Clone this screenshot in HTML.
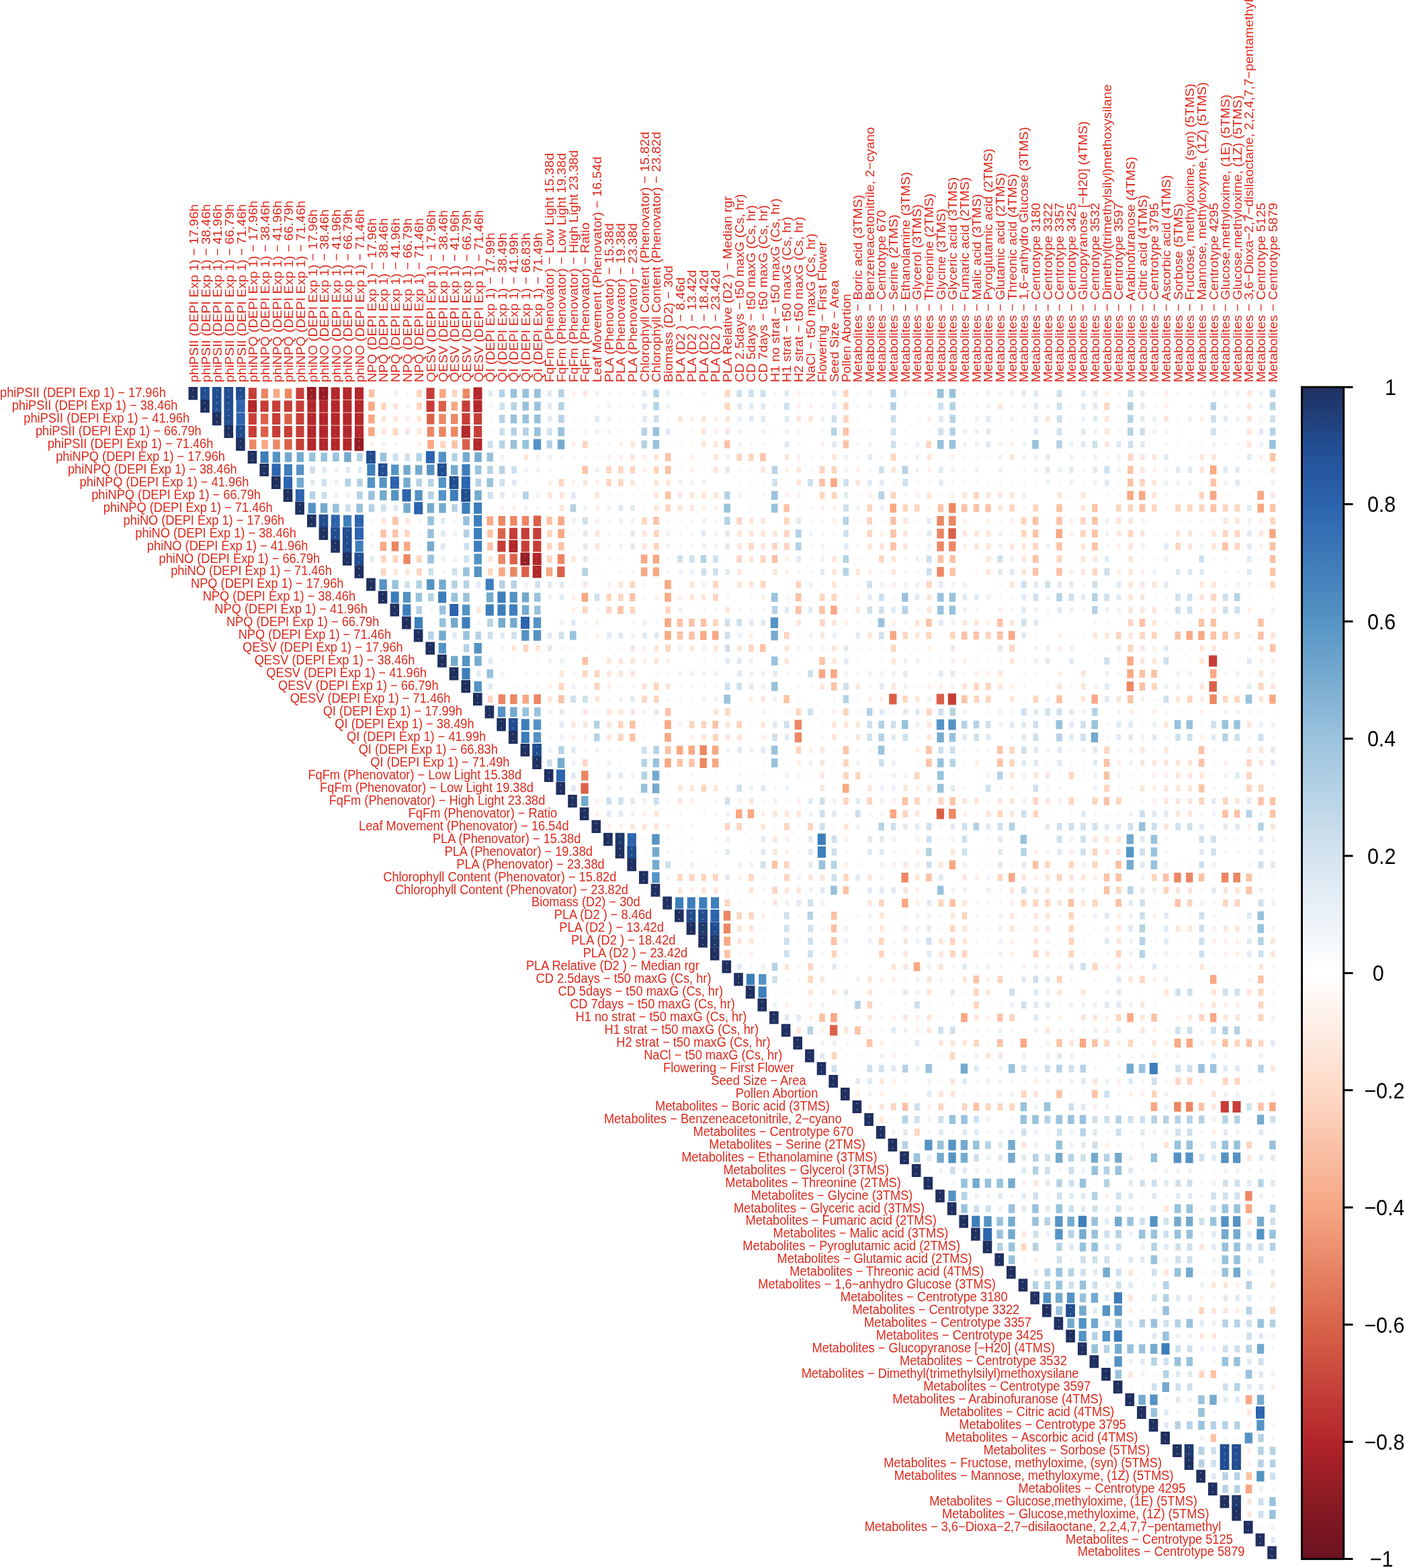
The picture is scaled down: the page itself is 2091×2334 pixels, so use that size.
<!DOCTYPE html>
<html lang="en"><head><meta charset="utf-8"><title>Correlation matrix</title>
<style>
html,body{margin:0;padding:0;background:#fff}
body{width:2091px;height:2334px;overflow:hidden}
svg{display:block}
text{font-family:"Liberation Sans",Arial,Helvetica,sans-serif}
.l{font-size:18.24px;fill:#DD2A1E}
.k{font-size:30.5px;fill:#000}
</style></head><body>
<svg width="2091" height="2334" viewBox="0 0 2091 2334">
<rect width="2091" height="2334" fill="#fff"/>
<g>
<path fill="#FFF6F2" d="M569.4 582.7h4.3v6h-4.3zM922.3 582.7h4.3v6h-4.3zM939.9 582.7h4.3v6h-4.3zM1010.5 582.7h4.3v6h-4.3zM1204.6 582.7h4.3v6h-4.3zM1222.2 582.7h4.3v6h-4.3zM1363.4 582.7h4.3v6h-4.3zM1557.5 582.7h4.3v6h-4.3zM1045.8 601.6h4.3v6h-4.3zM1151.7 601.6h4.3v6h-4.3zM1310.5 601.6h4.3v6h-4.3zM1345.8 601.6h4.3v6h-4.3zM1363.4 601.6h4.3v6h-4.3zM1381 601.6h4.3v6h-4.3zM1592.8 601.6h4.3v6h-4.3zM728.2 620.6h4.3v6h-4.3zM869.3 620.6h4.3v6h-4.3zM939.9 620.6h4.3v6h-4.3zM1363.4 620.6h4.3v6h-4.3zM1486.9 620.6h4.3v6h-4.3zM1592.8 620.6h4.3v6h-4.3zM728.2 639.6h4.3v6h-4.3zM1010.5 639.6h4.3v6h-4.3zM1028.1 639.6h4.3v6h-4.3zM1151.7 639.6h4.3v6h-4.3zM1204.6 639.6h4.3v6h-4.3zM1345.8 639.6h4.3v6h-4.3zM1363.4 639.6h4.3v6h-4.3zM1381 639.6h4.3v6h-4.3zM1486.9 639.6h4.3v6h-4.3zM1557.5 639.6h4.3v6h-4.3zM1751.6 639.6h4.3v6h-4.3zM1786.9 639.6h4.3v6h-4.3zM604.7 658.5h4.3v6h-4.3zM904.6 658.5h4.3v6h-4.3zM1010.5 658.5h4.3v6h-4.3zM1028.1 658.5h4.3v6h-4.3zM1187 658.5h4.3v6h-4.3zM1751.6 658.5h4.3v6h-4.3zM1769.2 658.5h4.3v6h-4.3zM1786.9 658.5h4.3v6h-4.3zM834.1 677.5h4.3v6h-4.3zM869.3 677.5h4.3v6h-4.3zM887 677.5h4.3v6h-4.3zM1010.5 677.5h4.3v6h-4.3zM1045.8 677.5h4.3v6h-4.3zM1222.2 677.5h4.3v6h-4.3zM1451.6 677.5h4.3v6h-4.3zM1469.3 677.5h4.3v6h-4.3zM1610.4 677.5h4.3v6h-4.3zM1769.2 677.5h4.3v6h-4.3zM851.7 696.4h4.3v6h-4.3zM1010.5 696.4h4.3v6h-4.3zM1045.8 696.4h4.3v6h-4.3zM1098.7 696.4h4.3v6h-4.3zM1116.4 696.4h4.3v6h-4.3zM1875.1 696.4h4.3v6h-4.3zM957.6 715.4h4.3v6h-4.3zM1098.7 715.4h4.3v6h-4.3zM1116.4 715.4h4.3v6h-4.3zM1134 715.4h4.3v6h-4.3zM1328.1 715.4h4.3v6h-4.3zM1381 715.4h4.3v6h-4.3zM1451.6 715.4h4.3v6h-4.3zM1469.3 715.4h4.3v6h-4.3zM1486.9 715.4h4.3v6h-4.3zM1504.6 715.4h4.3v6h-4.3zM1539.9 715.4h4.3v6h-4.3zM1575.1 715.4h4.3v6h-4.3zM1610.4 715.4h4.3v6h-4.3zM1786.9 715.4h4.3v6h-4.3zM1875.1 715.4h4.3v6h-4.3zM904.6 734.4h4.3v6h-4.3zM922.3 734.4h4.3v6h-4.3zM939.9 734.4h4.3v6h-4.3zM957.6 734.4h4.3v6h-4.3zM1275.2 734.4h4.3v6h-4.3zM1398.7 734.4h4.3v6h-4.3zM1592.8 734.4h4.3v6h-4.3zM1628.1 734.4h4.3v6h-4.3zM1663.4 734.4h4.3v6h-4.3zM1822.2 734.4h4.3v6h-4.3zM816.4 753.3h4.3v6h-4.3zM957.6 753.3h4.3v6h-4.3zM1116.4 753.3h4.3v6h-4.3zM1134 753.3h4.3v6h-4.3zM1381 753.3h4.3v6h-4.3zM1592.8 753.3h4.3v6h-4.3zM1733.9 753.3h4.3v6h-4.3zM551.7 772.3h4.3v6h-4.3zM1275.2 772.3h4.3v6h-4.3zM1310.5 772.3h4.3v6h-4.3zM1363.4 772.3h4.3v6h-4.3zM1557.5 772.3h4.3v6h-4.3zM1751.6 772.3h4.3v6h-4.3zM1769.2 772.3h4.3v6h-4.3zM1804.5 772.3h4.3v6h-4.3zM622.3 791.2h4.3v6h-4.3zM1239.9 791.2h4.3v6h-4.3zM1363.4 791.2h4.3v6h-4.3zM1504.6 791.2h4.3v6h-4.3zM1716.3 791.2h4.3v6h-4.3zM622.3 810.2h4.3v6h-4.3zM887 829.2h4.3v6h-4.3zM904.6 829.2h4.3v6h-4.3zM922.3 829.2h4.3v6h-4.3zM1081.1 829.2h4.3v6h-4.3zM1275.2 829.2h4.3v6h-4.3zM1592.8 829.2h4.3v6h-4.3zM1698.7 829.2h4.3v6h-4.3zM1804.5 829.2h4.3v6h-4.3zM1822.2 829.2h4.3v6h-4.3zM551.7 848.1h4.3v6h-4.3zM887 848.1h4.3v6h-4.3zM1134 848.1h4.3v6h-4.3zM1204.6 848.1h4.3v6h-4.3zM1310.5 848.1h4.3v6h-4.3zM1363.4 848.1h4.3v6h-4.3zM1451.6 848.1h4.3v6h-4.3zM1875.1 848.1h4.3v6h-4.3zM851.7 867.1h4.3v6h-4.3zM1010.5 867.1h4.3v6h-4.3zM1081.1 867.1h4.3v6h-4.3zM1169.3 867.1h4.3v6h-4.3zM1222.2 867.1h4.3v6h-4.3zM1257.5 867.1h4.3v6h-4.3zM1875.1 867.1h4.3v6h-4.3zM957.6 886h4.3v6h-4.3zM1257.5 886h4.3v6h-4.3zM1716.3 886h4.3v6h-4.3zM1857.5 886h4.3v6h-4.3zM640 905h4.3v6h-4.3zM975.2 905h4.3v6h-4.3zM1063.4 905h4.3v6h-4.3zM1733.9 905h4.3v6h-4.3zM869.3 924h4.3v6h-4.3zM939.9 924h4.3v6h-4.3zM1275.2 924h4.3v6h-4.3zM1292.8 924h4.3v6h-4.3zM1557.5 924h4.3v6h-4.3zM1645.7 924h4.3v6h-4.3zM1733.9 924h4.3v6h-4.3zM1857.5 924h4.3v6h-4.3zM869.3 942.9h4.3v6h-4.3zM1134 942.9h4.3v6h-4.3zM1187 942.9h4.3v6h-4.3zM1539.9 942.9h4.3v6h-4.3zM1610.4 942.9h4.3v6h-4.3zM869.3 961.9h4.3v6h-4.3zM887 961.9h4.3v6h-4.3zM904.6 961.9h4.3v6h-4.3zM922.3 961.9h4.3v6h-4.3zM1310.5 961.9h4.3v6h-4.3zM1345.8 961.9h4.3v6h-4.3zM1451.6 961.9h4.3v6h-4.3zM1469.3 961.9h4.3v6h-4.3zM1645.7 961.9h4.3v6h-4.3zM1751.6 961.9h4.3v6h-4.3zM1769.2 961.9h4.3v6h-4.3zM1063.4 980.9h4.3v6h-4.3zM1275.2 980.9h4.3v6h-4.3zM1381 980.9h4.3v6h-4.3zM1451.6 980.9h4.3v6h-4.3zM1469.3 980.9h4.3v6h-4.3zM1769.2 980.9h4.3v6h-4.3zM816.4 999.8h4.3v6h-4.3zM851.7 999.8h4.3v6h-4.3zM975.2 999.8h4.3v6h-4.3zM992.9 999.8h4.3v6h-4.3zM1081.1 999.8h4.3v6h-4.3zM1187 999.8h4.3v6h-4.3zM1275.2 999.8h4.3v6h-4.3zM1381 999.8h4.3v6h-4.3zM1434 999.8h4.3v6h-4.3zM1539.9 999.8h4.3v6h-4.3zM1663.4 999.8h4.3v6h-4.3zM1857.5 999.8h4.3v6h-4.3zM763.5 1018.8h4.3v6h-4.3zM798.8 1018.8h4.3v6h-4.3zM869.3 1018.8h4.3v6h-4.3zM922.3 1018.8h4.3v6h-4.3zM939.9 1018.8h4.3v6h-4.3zM1010.5 1018.8h4.3v6h-4.3zM1028.1 1018.8h4.3v6h-4.3zM1187 1018.8h4.3v6h-4.3zM1292.8 1018.8h4.3v6h-4.3zM1363.4 1018.8h4.3v6h-4.3zM1522.2 1037.7h4.3v6h-4.3zM1716.3 1037.7h4.3v6h-4.3zM851.7 1056.7h4.3v6h-4.3zM1028.1 1056.7h4.3v6h-4.3zM1045.8 1056.7h4.3v6h-4.3zM1098.7 1056.7h4.3v6h-4.3zM1116.4 1056.7h4.3v6h-4.3zM1151.7 1056.7h4.3v6h-4.3zM1698.7 1056.7h4.3v6h-4.3zM1804.5 1056.7h4.3v6h-4.3zM1892.8 1056.7h4.3v6h-4.3zM1116.4 1075.7h4.3v6h-4.3zM1222.2 1075.7h4.3v6h-4.3zM1698.7 1075.7h4.3v6h-4.3zM1786.9 1075.7h4.3v6h-4.3zM1116.4 1094.6h4.3v6h-4.3zM1222.2 1094.6h4.3v6h-4.3zM1257.5 1094.6h4.3v6h-4.3zM1733.9 1094.6h4.3v6h-4.3zM1857.5 1094.6h4.3v6h-4.3zM869.3 1113.6h4.3v6h-4.3zM1292.8 1113.6h4.3v6h-4.3zM1434 1113.6h4.3v6h-4.3zM1451.6 1113.6h4.3v6h-4.3zM1592.8 1113.6h4.3v6h-4.3zM1663.4 1113.6h4.3v6h-4.3zM1716.3 1113.6h4.3v6h-4.3zM1839.8 1113.6h4.3v6h-4.3zM1081.1 1132.5h4.3v6h-4.3zM1292.8 1132.5h4.3v6h-4.3zM1363.4 1132.5h4.3v6h-4.3zM1434 1132.5h4.3v6h-4.3zM1557.5 1132.5h4.3v6h-4.3zM1839.8 1132.5h4.3v6h-4.3zM887 1151.5h4.3v6h-4.3zM1045.8 1151.5h4.3v6h-4.3zM1063.4 1151.5h4.3v6h-4.3zM1151.7 1151.5h4.3v6h-4.3zM1204.6 1151.5h4.3v6h-4.3zM1451.6 1151.5h4.3v6h-4.3zM1575.1 1151.5h4.3v6h-4.3zM1610.4 1151.5h4.3v6h-4.3zM1698.7 1151.5h4.3v6h-4.3zM1875.1 1151.5h4.3v6h-4.3zM1045.8 1189.4h4.3v6h-4.3zM1134 1189.4h4.3v6h-4.3zM1469.3 1189.4h4.3v6h-4.3zM992.9 1208.4h4.3v6h-4.3zM1257.5 1208.4h4.3v6h-4.3zM1451.6 1208.4h4.3v6h-4.3zM1557.5 1208.4h4.3v6h-4.3zM1592.8 1208.4h4.3v6h-4.3zM1628.1 1208.4h4.3v6h-4.3zM1645.7 1208.4h4.3v6h-4.3zM1663.4 1208.4h4.3v6h-4.3zM1010.5 1227.3h4.3v6h-4.3zM1116.4 1227.3h4.3v6h-4.3zM1151.7 1227.3h4.3v6h-4.3zM1187 1227.3h4.3v6h-4.3zM1239.9 1227.3h4.3v6h-4.3zM1804.5 1227.3h4.3v6h-4.3zM957.6 1246.3h4.3v6h-4.3zM1010.5 1246.3h4.3v6h-4.3zM1187 1246.3h4.3v6h-4.3zM1469.3 1246.3h4.3v6h-4.3zM1557.5 1246.3h4.3v6h-4.3zM1857.5 1246.3h4.3v6h-4.3zM957.6 1265.3h4.3v6h-4.3zM1010.5 1265.3h4.3v6h-4.3zM1187 1265.3h4.3v6h-4.3zM1257.5 1265.3h4.3v6h-4.3zM1345.8 1265.3h4.3v6h-4.3zM1469.3 1265.3h4.3v6h-4.3zM1857.5 1265.3h4.3v6h-4.3zM957.6 1284.2h4.3v6h-4.3zM1187 1284.2h4.3v6h-4.3zM1275.2 1284.2h4.3v6h-4.3zM1451.6 1284.2h4.3v6h-4.3zM1469.3 1284.2h4.3v6h-4.3zM1504.6 1284.2h4.3v6h-4.3zM1645.7 1284.2h4.3v6h-4.3zM1751.6 1284.2h4.3v6h-4.3zM1769.2 1284.2h4.3v6h-4.3zM1857.5 1284.2h4.3v6h-4.3zM1804.5 1303.2h4.3v6h-4.3zM1875.1 1303.2h4.3v6h-4.3zM1892.8 1303.2h4.3v6h-4.3zM1628.1 1322.2h4.3v6h-4.3zM1786.9 1322.2h4.3v6h-4.3zM1098.7 1341.1h4.3v6h-4.3zM1116.4 1341.1h4.3v6h-4.3zM1716.3 1341.1h4.3v6h-4.3zM1151.7 1360.1h4.3v6h-4.3zM1187 1360.1h4.3v6h-4.3zM1222.2 1360.1h4.3v6h-4.3zM1275.2 1360.1h4.3v6h-4.3zM1345.8 1360.1h4.3v6h-4.3zM1398.7 1360.1h4.3v6h-4.3zM1469.3 1360.1h4.3v6h-4.3zM1610.4 1360.1h4.3v6h-4.3zM1751.6 1360.1h4.3v6h-4.3zM1769.2 1360.1h4.3v6h-4.3zM1804.5 1360.1h4.3v6h-4.3zM1822.2 1360.1h4.3v6h-4.3zM1839.8 1360.1h4.3v6h-4.3zM1134 1379h4.3v6h-4.3zM1398.7 1379h4.3v6h-4.3zM1469.3 1379h4.3v6h-4.3zM1134 1398h4.3v6h-4.3zM1187 1398h4.3v6h-4.3zM1469.3 1398h4.3v6h-4.3zM1610.4 1398h4.3v6h-4.3zM1716.3 1398h4.3v6h-4.3zM1751.6 1398h4.3v6h-4.3zM1769.2 1398h4.3v6h-4.3zM1098.7 1417h4.3v6h-4.3zM1469.3 1417h4.3v6h-4.3zM1575.1 1417h4.3v6h-4.3zM1610.4 1417h4.3v6h-4.3zM1628.1 1417h4.3v6h-4.3zM1716.3 1417h4.3v6h-4.3zM1751.6 1417h4.3v6h-4.3zM1769.2 1417h4.3v6h-4.3zM1804.5 1417h4.3v6h-4.3zM1187 1435.9h4.3v6h-4.3zM1257.5 1435.9h4.3v6h-4.3zM1292.8 1435.9h4.3v6h-4.3zM1416.3 1435.9h4.3v6h-4.3zM1575.1 1435.9h4.3v6h-4.3zM1804.5 1435.9h4.3v6h-4.3zM1822.2 1435.9h4.3v6h-4.3zM1839.8 1435.9h4.3v6h-4.3zM1892.8 1435.9h4.3v6h-4.3zM1239.9 1454.9h4.3v6h-4.3zM1345.8 1454.9h4.3v6h-4.3zM1504.6 1454.9h4.3v6h-4.3zM1628.1 1454.9h4.3v6h-4.3zM1769.2 1454.9h4.3v6h-4.3zM1786.9 1454.9h4.3v6h-4.3zM1892.8 1454.9h4.3v6h-4.3zM1275.2 1473.8h4.3v6h-4.3zM1434 1473.8h4.3v6h-4.3zM1698.7 1473.8h4.3v6h-4.3zM1257.5 1492.8h4.3v6h-4.3zM1381 1492.8h4.3v6h-4.3zM1486.9 1492.8h4.3v6h-4.3zM1575.1 1492.8h4.3v6h-4.3zM1751.6 1492.8h4.3v6h-4.3zM1769.2 1492.8h4.3v6h-4.3zM1892.8 1492.8h4.3v6h-4.3zM1398.7 1511.8h4.3v6h-4.3zM1434 1530.7h4.3v6h-4.3zM1469.3 1530.7h4.3v6h-4.3zM1610.4 1530.7h4.3v6h-4.3zM1786.9 1530.7h4.3v6h-4.3zM1857.5 1530.7h4.3v6h-4.3zM1875.1 1530.7h4.3v6h-4.3zM1275.2 1549.7h4.3v6h-4.3zM1345.8 1549.7h4.3v6h-4.3zM1469.3 1549.7h4.3v6h-4.3zM1504.6 1549.7h4.3v6h-4.3zM1698.7 1549.7h4.3v6h-4.3zM1257.5 1568.6h4.3v6h-4.3zM1381 1568.6h4.3v6h-4.3zM1398.7 1568.6h4.3v6h-4.3zM1769.2 1568.6h4.3v6h-4.3zM1839.8 1568.6h4.3v6h-4.3zM1275.2 1587.6h4.3v6h-4.3zM1857.5 1587.6h4.3v6h-4.3zM1398.7 1606.6h4.3v6h-4.3zM1451.6 1606.6h4.3v6h-4.3zM1345.8 1625.5h4.3v6h-4.3zM1451.6 1625.5h4.3v6h-4.3zM1469.3 1625.5h4.3v6h-4.3zM1610.4 1625.5h4.3v6h-4.3zM1751.6 1625.5h4.3v6h-4.3zM1769.2 1625.5h4.3v6h-4.3zM1416.3 1644.5h4.3v6h-4.3zM1698.7 1644.5h4.3v6h-4.3zM1857.5 1682.4h4.3v6h-4.3zM1892.8 1682.4h4.3v6h-4.3zM1557.5 1701.4h4.3v6h-4.3zM1698.7 1720.3h4.3v6h-4.3zM1381 1739.3h4.3v6h-4.3zM1486.9 1739.3h4.3v6h-4.3zM1804.5 1739.3h4.3v6h-4.3zM1857.5 1739.3h4.3v6h-4.3zM1892.8 1739.3h4.3v6h-4.3zM1628.1 1758.3h4.3v6h-4.3zM1698.7 1777.2h4.3v6h-4.3zM1733.9 1777.2h4.3v6h-4.3zM1522.2 1872h4.3v6h-4.3zM1557.5 1872h4.3v6h-4.3zM1592.8 1872h4.3v6h-4.3zM1698.7 1891h4.3v6h-4.3zM1786.9 1891h4.3v6h-4.3zM1698.7 1928.9h4.3v6h-4.3zM1804.5 1928.9h4.3v6h-4.3zM1698.7 1947.9h4.3v6h-4.3zM1751.6 1947.9h4.3v6h-4.3zM1769.2 1947.9h4.3v6h-4.3zM1681 1985.8h4.3v6h-4.3zM1839.8 2099.6h4.3v6h-4.3zM1875.1 2270.2h4.3v6h-4.3z"/>
<path fill="#F4F7FB" d="M604.7 582.7h4.3v6h-4.3zM904.6 582.7h4.3v6h-4.3zM1151.7 582.7h4.3v6h-4.3zM1275.2 582.7h4.3v6h-4.3zM1434 582.7h4.3v6h-4.3zM1451.6 582.7h4.3v6h-4.3zM1663.4 582.7h4.3v6h-4.3zM1716.3 582.7h4.3v6h-4.3zM1751.6 582.7h4.3v6h-4.3zM1769.2 582.7h4.3v6h-4.3zM728.2 601.6h4.3v6h-4.3zM887 601.6h4.3v6h-4.3zM922.3 601.6h4.3v6h-4.3zM939.9 601.6h4.3v6h-4.3zM1222.2 601.6h4.3v6h-4.3zM1275.2 601.6h4.3v6h-4.3zM1434 601.6h4.3v6h-4.3zM1451.6 601.6h4.3v6h-4.3zM1504.6 601.6h4.3v6h-4.3zM1663.4 601.6h4.3v6h-4.3zM1716.3 601.6h4.3v6h-4.3zM1769.2 601.6h4.3v6h-4.3zM1786.9 601.6h4.3v6h-4.3zM1839.8 601.6h4.3v6h-4.3zM851.7 620.6h4.3v6h-4.3zM922.3 620.6h4.3v6h-4.3zM992.9 620.6h4.3v6h-4.3zM1275.2 620.6h4.3v6h-4.3zM1434 620.6h4.3v6h-4.3zM1522.2 620.6h4.3v6h-4.3zM1751.6 620.6h4.3v6h-4.3zM1875.1 620.6h4.3v6h-4.3zM851.7 639.6h4.3v6h-4.3zM922.3 639.6h4.3v6h-4.3zM939.9 639.6h4.3v6h-4.3zM1116.4 639.6h4.3v6h-4.3zM1222.2 639.6h4.3v6h-4.3zM1275.2 639.6h4.3v6h-4.3zM1292.8 639.6h4.3v6h-4.3zM1504.6 639.6h4.3v6h-4.3zM1522.2 639.6h4.3v6h-4.3zM1592.8 639.6h4.3v6h-4.3zM1663.4 639.6h4.3v6h-4.3zM1822.2 639.6h4.3v6h-4.3zM587 658.5h4.3v6h-4.3zM887 658.5h4.3v6h-4.3zM1116.4 658.5h4.3v6h-4.3zM1134 658.5h4.3v6h-4.3zM1275.2 658.5h4.3v6h-4.3zM1345.8 658.5h4.3v6h-4.3zM1733.9 658.5h4.3v6h-4.3zM1822.2 658.5h4.3v6h-4.3zM1839.8 658.5h4.3v6h-4.3zM851.7 677.5h4.3v6h-4.3zM1204.6 677.5h4.3v6h-4.3zM1275.2 677.5h4.3v6h-4.3zM1310.5 677.5h4.3v6h-4.3zM1345.8 677.5h4.3v6h-4.3zM1434 677.5h4.3v6h-4.3zM1645.7 677.5h4.3v6h-4.3zM1839.8 677.5h4.3v6h-4.3zM816.4 696.4h4.3v6h-4.3zM1204.6 696.4h4.3v6h-4.3zM1292.8 696.4h4.3v6h-4.3zM1434 696.4h4.3v6h-4.3zM1522.2 696.4h4.3v6h-4.3zM1610.4 696.4h4.3v6h-4.3zM1857.5 696.4h4.3v6h-4.3zM781.1 715.4h4.3v6h-4.3zM1363.4 715.4h4.3v6h-4.3zM1416.3 715.4h4.3v6h-4.3zM1434 715.4h4.3v6h-4.3zM1522.2 715.4h4.3v6h-4.3zM1663.4 715.4h4.3v6h-4.3zM1857.5 715.4h4.3v6h-4.3zM1116.4 734.4h4.3v6h-4.3zM1134 734.4h4.3v6h-4.3zM1345.8 734.4h4.3v6h-4.3zM1645.7 734.4h4.3v6h-4.3zM1733.9 734.4h4.3v6h-4.3zM1751.6 734.4h4.3v6h-4.3zM1857.5 734.4h4.3v6h-4.3zM798.8 753.3h4.3v6h-4.3zM1187 753.3h4.3v6h-4.3zM1204.6 753.3h4.3v6h-4.3zM1522.2 753.3h4.3v6h-4.3zM622.3 772.3h4.3v6h-4.3zM675.2 772.3h4.3v6h-4.3zM904.6 772.3h4.3v6h-4.3zM992.9 772.3h4.3v6h-4.3zM1010.5 772.3h4.3v6h-4.3zM1028.1 772.3h4.3v6h-4.3zM1063.4 772.3h4.3v6h-4.3zM1204.6 772.3h4.3v6h-4.3zM1222.2 772.3h4.3v6h-4.3zM1486.9 772.3h4.3v6h-4.3zM1786.9 772.3h4.3v6h-4.3zM551.7 791.2h4.3v6h-4.3zM851.7 791.2h4.3v6h-4.3zM904.6 791.2h4.3v6h-4.3zM922.3 791.2h4.3v6h-4.3zM1010.5 791.2h4.3v6h-4.3zM1028.1 791.2h4.3v6h-4.3zM1222.2 791.2h4.3v6h-4.3zM1733.9 791.2h4.3v6h-4.3zM1786.9 791.2h4.3v6h-4.3zM551.7 810.2h4.3v6h-4.3zM904.6 810.2h4.3v6h-4.3zM1010.5 810.2h4.3v6h-4.3zM1028.1 810.2h4.3v6h-4.3zM1204.6 810.2h4.3v6h-4.3zM1275.2 810.2h4.3v6h-4.3zM1363.4 810.2h4.3v6h-4.3zM1645.7 810.2h4.3v6h-4.3zM992.9 829.2h4.3v6h-4.3zM1204.6 829.2h4.3v6h-4.3zM1345.8 829.2h4.3v6h-4.3zM1557.5 829.2h4.3v6h-4.3zM1716.3 829.2h4.3v6h-4.3zM1875.1 829.2h4.3v6h-4.3zM657.6 848.1h4.3v6h-4.3zM922.3 848.1h4.3v6h-4.3zM939.9 848.1h4.3v6h-4.3zM992.9 848.1h4.3v6h-4.3zM1187 848.1h4.3v6h-4.3zM1345.8 848.1h4.3v6h-4.3zM1822.2 848.1h4.3v6h-4.3zM1839.8 848.1h4.3v6h-4.3zM957.6 867.1h4.3v6h-4.3zM1275.2 867.1h4.3v6h-4.3zM1486.9 867.1h4.3v6h-4.3zM1610.4 867.1h4.3v6h-4.3zM1822.2 867.1h4.3v6h-4.3zM1081.1 886h4.3v6h-4.3zM1116.4 886h4.3v6h-4.3zM1169.3 886h4.3v6h-4.3zM1328.1 886h4.3v6h-4.3zM1486.9 886h4.3v6h-4.3zM1504.6 886h4.3v6h-4.3zM1733.9 886h4.3v6h-4.3zM1892.8 886h4.3v6h-4.3zM887 905h4.3v6h-4.3zM1045.8 905h4.3v6h-4.3zM1098.7 905h4.3v6h-4.3zM1116.4 905h4.3v6h-4.3zM1134 905h4.3v6h-4.3zM1257.5 905h4.3v6h-4.3zM1363.4 905h4.3v6h-4.3zM1451.6 905h4.3v6h-4.3zM1504.6 905h4.3v6h-4.3zM1557.5 905h4.3v6h-4.3zM1610.4 905h4.3v6h-4.3zM710.5 924h4.3v6h-4.3zM975.2 924h4.3v6h-4.3zM1345.8 924h4.3v6h-4.3zM1628.1 924h4.3v6h-4.3zM1751.6 924h4.3v6h-4.3zM1769.2 924h4.3v6h-4.3zM1857.5 942.9h4.3v6h-4.3zM675.2 961.9h4.3v6h-4.3zM834.1 961.9h4.3v6h-4.3zM851.7 961.9h4.3v6h-4.3zM1151.7 961.9h4.3v6h-4.3zM1275.2 961.9h4.3v6h-4.3zM1292.8 961.9h4.3v6h-4.3zM1363.4 961.9h4.3v6h-4.3zM1628.1 961.9h4.3v6h-4.3zM1857.5 961.9h4.3v6h-4.3zM745.8 980.9h4.3v6h-4.3zM763.5 980.9h4.3v6h-4.3zM798.8 980.9h4.3v6h-4.3zM1045.8 980.9h4.3v6h-4.3zM1310.5 980.9h4.3v6h-4.3zM1398.7 980.9h4.3v6h-4.3zM1486.9 980.9h4.3v6h-4.3zM1522.2 980.9h4.3v6h-4.3zM1628.1 980.9h4.3v6h-4.3zM1663.4 980.9h4.3v6h-4.3zM1839.8 980.9h4.3v6h-4.3zM781.1 999.8h4.3v6h-4.3zM798.8 999.8h4.3v6h-4.3zM1169.3 999.8h4.3v6h-4.3zM1522.2 999.8h4.3v6h-4.3zM1822.2 999.8h4.3v6h-4.3zM781.1 1018.8h4.3v6h-4.3zM1045.8 1018.8h4.3v6h-4.3zM1063.4 1018.8h4.3v6h-4.3zM1204.6 1018.8h4.3v6h-4.3zM1522.2 1018.8h4.3v6h-4.3zM1557.5 1018.8h4.3v6h-4.3zM1592.8 1018.8h4.3v6h-4.3zM1769.2 1018.8h4.3v6h-4.3zM1839.8 1018.8h4.3v6h-4.3zM904.6 1037.7h4.3v6h-4.3zM992.9 1037.7h4.3v6h-4.3zM1010.5 1037.7h4.3v6h-4.3zM1028.1 1037.7h4.3v6h-4.3zM1187 1037.7h4.3v6h-4.3zM1239.9 1037.7h4.3v6h-4.3zM1275.2 1037.7h4.3v6h-4.3zM887 1056.7h4.3v6h-4.3zM1169.3 1056.7h4.3v6h-4.3zM1222.2 1056.7h4.3v6h-4.3zM1275.2 1056.7h4.3v6h-4.3zM1328.1 1056.7h4.3v6h-4.3zM1469.3 1056.7h4.3v6h-4.3zM1504.6 1056.7h4.3v6h-4.3zM1733.9 1056.7h4.3v6h-4.3zM1751.6 1056.7h4.3v6h-4.3zM1769.2 1056.7h4.3v6h-4.3zM1857.5 1056.7h4.3v6h-4.3zM1875.1 1056.7h4.3v6h-4.3zM816.4 1075.7h4.3v6h-4.3zM957.6 1075.7h4.3v6h-4.3zM975.2 1075.7h4.3v6h-4.3zM1557.5 1075.7h4.3v6h-4.3zM1645.7 1075.7h4.3v6h-4.3zM816.4 1094.6h4.3v6h-4.3zM957.6 1094.6h4.3v6h-4.3zM1363.4 1094.6h4.3v6h-4.3zM1504.6 1094.6h4.3v6h-4.3zM1557.5 1094.6h4.3v6h-4.3zM1645.7 1094.6h4.3v6h-4.3zM1892.8 1094.6h4.3v6h-4.3zM904.6 1113.6h4.3v6h-4.3zM922.3 1113.6h4.3v6h-4.3zM1239.9 1113.6h4.3v6h-4.3zM1275.2 1113.6h4.3v6h-4.3zM1328.1 1113.6h4.3v6h-4.3zM1469.3 1113.6h4.3v6h-4.3zM1804.5 1113.6h4.3v6h-4.3zM887 1132.5h4.3v6h-4.3zM922.3 1132.5h4.3v6h-4.3zM1098.7 1132.5h4.3v6h-4.3zM1134 1132.5h4.3v6h-4.3zM1239.9 1132.5h4.3v6h-4.3zM1592.8 1132.5h4.3v6h-4.3zM1610.4 1132.5h4.3v6h-4.3zM1804.5 1132.5h4.3v6h-4.3zM992.9 1151.5h4.3v6h-4.3zM1028.1 1151.5h4.3v6h-4.3zM1098.7 1151.5h4.3v6h-4.3zM1116.4 1151.5h4.3v6h-4.3zM1134 1151.5h4.3v6h-4.3zM1310.5 1151.5h4.3v6h-4.3zM1416.3 1151.5h4.3v6h-4.3zM1681 1151.5h4.3v6h-4.3zM1804.5 1151.5h4.3v6h-4.3zM1892.8 1151.5h4.3v6h-4.3zM1081.1 1170.5h4.3v6h-4.3zM1151.7 1170.5h4.3v6h-4.3zM1239.9 1170.5h4.3v6h-4.3zM1434 1170.5h4.3v6h-4.3zM1486.9 1170.5h4.3v6h-4.3zM1557.5 1170.5h4.3v6h-4.3zM1575.1 1170.5h4.3v6h-4.3zM1663.4 1170.5h4.3v6h-4.3zM1681 1170.5h4.3v6h-4.3zM1804.5 1170.5h4.3v6h-4.3zM1822.2 1170.5h4.3v6h-4.3zM1892.8 1170.5h4.3v6h-4.3zM992.9 1189.4h4.3v6h-4.3zM1063.4 1189.4h4.3v6h-4.3zM1169.3 1189.4h4.3v6h-4.3zM1698.7 1189.4h4.3v6h-4.3zM1010.5 1208.4h4.3v6h-4.3zM1045.8 1208.4h4.3v6h-4.3zM1063.4 1208.4h4.3v6h-4.3zM1292.8 1208.4h4.3v6h-4.3zM1310.5 1208.4h4.3v6h-4.3zM1786.9 1208.4h4.3v6h-4.3zM1028.1 1227.3h4.3v6h-4.3zM1398.7 1227.3h4.3v6h-4.3zM1522.2 1227.3h4.3v6h-4.3zM992.9 1246.3h4.3v6h-4.3zM1028.1 1246.3h4.3v6h-4.3zM1063.4 1246.3h4.3v6h-4.3zM1116.4 1246.3h4.3v6h-4.3zM1398.7 1246.3h4.3v6h-4.3zM1504.6 1246.3h4.3v6h-4.3zM1733.9 1246.3h4.3v6h-4.3zM1822.2 1246.3h4.3v6h-4.3zM1839.8 1246.3h4.3v6h-4.3zM992.9 1265.3h4.3v6h-4.3zM1028.1 1265.3h4.3v6h-4.3zM1063.4 1265.3h4.3v6h-4.3zM1116.4 1265.3h4.3v6h-4.3zM1328.1 1265.3h4.3v6h-4.3zM1733.9 1265.3h4.3v6h-4.3zM1822.2 1265.3h4.3v6h-4.3zM1839.8 1265.3h4.3v6h-4.3zM1892.8 1265.3h4.3v6h-4.3zM1010.5 1284.2h4.3v6h-4.3zM1045.8 1284.2h4.3v6h-4.3zM1063.4 1284.2h4.3v6h-4.3zM992.9 1303.2h4.3v6h-4.3zM1134 1303.2h4.3v6h-4.3zM1151.7 1303.2h4.3v6h-4.3zM1081.1 1322.2h4.3v6h-4.3zM1134 1322.2h4.3v6h-4.3zM1486.9 1322.2h4.3v6h-4.3zM1575.1 1322.2h4.3v6h-4.3zM1892.8 1322.2h4.3v6h-4.3zM1134 1341.1h4.3v6h-4.3zM1451.6 1341.1h4.3v6h-4.3zM1469.3 1341.1h4.3v6h-4.3zM1486.9 1341.1h4.3v6h-4.3zM1804.5 1341.1h4.3v6h-4.3zM1451.6 1360.1h4.3v6h-4.3zM1522.2 1360.1h4.3v6h-4.3zM1575.1 1360.1h4.3v6h-4.3zM1222.2 1379h4.3v6h-4.3zM1451.6 1379h4.3v6h-4.3zM1522.2 1379h4.3v6h-4.3zM1628.1 1379h4.3v6h-4.3zM1222.2 1398h4.3v6h-4.3zM1328.1 1398h4.3v6h-4.3zM1451.6 1398h4.3v6h-4.3zM1222.2 1417h4.3v6h-4.3zM1257.5 1417h4.3v6h-4.3zM1328.1 1417h4.3v6h-4.3zM1645.7 1417h4.3v6h-4.3zM1116.4 1435.9h4.3v6h-4.3zM1222.2 1435.9h4.3v6h-4.3zM1451.6 1435.9h4.3v6h-4.3zM1486.9 1435.9h4.3v6h-4.3zM1698.7 1435.9h4.3v6h-4.3zM1733.9 1435.9h4.3v6h-4.3zM1751.6 1435.9h4.3v6h-4.3zM1769.2 1435.9h4.3v6h-4.3zM1857.5 1435.9h4.3v6h-4.3zM1169.3 1454.9h4.3v6h-4.3zM1187 1454.9h4.3v6h-4.3zM1398.7 1454.9h4.3v6h-4.3zM1416.3 1454.9h4.3v6h-4.3zM1592.8 1454.9h4.3v6h-4.3zM1857.5 1454.9h4.3v6h-4.3zM1151.7 1473.8h4.3v6h-4.3zM1169.3 1473.8h4.3v6h-4.3zM1222.2 1473.8h4.3v6h-4.3zM1328.1 1473.8h4.3v6h-4.3zM1892.8 1473.8h4.3v6h-4.3zM1310.5 1492.8h4.3v6h-4.3zM1345.8 1492.8h4.3v6h-4.3zM1416.3 1492.8h4.3v6h-4.3zM1434 1492.8h4.3v6h-4.3zM1716.3 1492.8h4.3v6h-4.3zM1275.2 1511.8h4.3v6h-4.3zM1310.5 1511.8h4.3v6h-4.3zM1416.3 1511.8h4.3v6h-4.3zM1857.5 1511.8h4.3v6h-4.3zM1310.5 1530.7h4.3v6h-4.3zM1451.6 1530.7h4.3v6h-4.3zM1504.6 1530.7h4.3v6h-4.3zM1575.1 1530.7h4.3v6h-4.3zM1733.9 1530.7h4.3v6h-4.3zM1257.5 1549.7h4.3v6h-4.3zM1328.1 1549.7h4.3v6h-4.3zM1275.2 1568.6h4.3v6h-4.3zM1292.8 1568.6h4.3v6h-4.3zM1345.8 1568.6h4.3v6h-4.3zM1434 1568.6h4.3v6h-4.3zM1610.4 1568.6h4.3v6h-4.3zM1628.1 1568.6h4.3v6h-4.3zM1645.7 1568.6h4.3v6h-4.3zM1681 1568.6h4.3v6h-4.3zM1733.9 1568.6h4.3v6h-4.3zM1469.3 1587.6h4.3v6h-4.3zM1628.1 1587.6h4.3v6h-4.3zM1733.9 1587.6h4.3v6h-4.3zM1257.5 1606.6h4.3v6h-4.3zM1345.8 1606.6h4.3v6h-4.3zM1504.6 1606.6h4.3v6h-4.3zM1522.2 1606.6h4.3v6h-4.3zM1575.1 1606.6h4.3v6h-4.3zM1698.7 1606.6h4.3v6h-4.3zM1733.9 1606.6h4.3v6h-4.3zM1857.5 1606.6h4.3v6h-4.3zM1875.1 1606.6h4.3v6h-4.3zM1434 1625.5h4.3v6h-4.3zM1557.5 1625.5h4.3v6h-4.3zM1592.8 1625.5h4.3v6h-4.3zM1663.4 1625.5h4.3v6h-4.3zM1875.1 1625.5h4.3v6h-4.3zM1663.4 1644.5h4.3v6h-4.3zM1328.1 1663.5h4.3v6h-4.3zM1504.6 1663.5h4.3v6h-4.3zM1857.5 1663.5h4.3v6h-4.3zM1381 1682.4h4.3v6h-4.3zM1416.3 1682.4h4.3v6h-4.3zM1469.3 1682.4h4.3v6h-4.3zM1557.5 1682.4h4.3v6h-4.3zM1645.7 1682.4h4.3v6h-4.3zM1681 1682.4h4.3v6h-4.3zM1786.9 1682.4h4.3v6h-4.3zM1363.4 1701.4h4.3v6h-4.3zM1663.4 1701.4h4.3v6h-4.3zM1681 1701.4h4.3v6h-4.3zM1786.9 1701.4h4.3v6h-4.3zM1875.1 1701.4h4.3v6h-4.3zM1575.1 1739.3h4.3v6h-4.3zM1698.7 1739.3h4.3v6h-4.3zM1716.3 1739.3h4.3v6h-4.3zM1416.3 1758.3h4.3v6h-4.3zM1786.9 1758.3h4.3v6h-4.3zM1504.6 1777.2h4.3v6h-4.3zM1557.5 1777.2h4.3v6h-4.3zM1786.9 1777.2h4.3v6h-4.3zM1892.8 1777.2h4.3v6h-4.3zM1716.3 1796.2h4.3v6h-4.3zM1786.9 1796.2h4.3v6h-4.3zM1522.2 1815.1h4.3v6h-4.3zM1557.5 1853.1h4.3v6h-4.3zM1663.4 1872h4.3v6h-4.3zM1892.8 1872h4.3v6h-4.3zM1875.1 1891h4.3v6h-4.3zM1698.7 1909.9h4.3v6h-4.3zM1875.1 1928.9h4.3v6h-4.3zM1875.1 1947.9h4.3v6h-4.3zM1698.7 1985.8h4.3v6h-4.3zM1822.2 1985.8h4.3v6h-4.3zM1839.8 1985.8h4.3v6h-4.3zM1892.8 2004.7h4.3v6h-4.3zM1804.5 2023.7h4.3v6h-4.3zM1716.3 2042.7h4.3v6h-4.3zM1822.2 2042.7h4.3v6h-4.3zM1839.8 2042.7h4.3v6h-4.3zM1681 2061.6h4.3v6h-4.3zM1698.7 2061.6h4.3v6h-4.3zM1733.9 2080.6h4.3v6h-4.3zM1751.6 2099.6h4.3v6h-4.3zM1769.2 2099.6h4.3v6h-4.3zM1804.5 2099.6h4.3v6h-4.3zM1892.8 2118.5h4.3v6h-4.3zM1822.2 2137.5h4.3v6h-4.3zM1839.8 2137.5h4.3v6h-4.3zM1892.8 2137.5h4.3v6h-4.3zM1892.8 2213.3h4.3v6h-4.3z"/>
<path fill="#ECF2F8" d="M586.2 581.8h5.5v7.7h-5.5zM886.2 581.8h5.5v7.7h-5.5zM992 581.8h5.5v7.7h-5.5zM1292 581.8h5.5v7.7h-5.5zM1344.9 581.8h5.5v7.7h-5.5zM1468.4 581.8h5.5v7.7h-5.5zM1503.7 581.8h5.5v7.7h-5.5zM1803.7 581.8h5.5v7.7h-5.5zM1821.3 581.8h5.5v7.7h-5.5zM1839 581.8h5.5v7.7h-5.5zM1874.3 581.8h5.5v7.7h-5.5zM903.8 600.8h5.5v7.7h-5.5zM992 600.8h5.5v7.7h-5.5zM1292 600.8h5.5v7.7h-5.5zM1468.4 600.8h5.5v7.7h-5.5zM1521.4 600.8h5.5v7.7h-5.5zM1821.3 600.8h5.5v7.7h-5.5zM1874.3 600.8h5.5v7.7h-5.5zM903.8 619.8h5.5v7.7h-5.5zM1097.9 619.8h5.5v7.7h-5.5zM1221.4 619.8h5.5v7.7h-5.5zM1450.8 619.8h5.5v7.7h-5.5zM1503.7 619.8h5.5v7.7h-5.5zM1609.6 619.8h5.5v7.7h-5.5zM1715.5 619.8h5.5v7.7h-5.5zM1768.4 619.8h5.5v7.7h-5.5zM1839 619.8h5.5v7.7h-5.5zM886.2 638.7h5.5v7.7h-5.5zM903.8 638.7h5.5v7.7h-5.5zM1097.9 638.7h5.5v7.7h-5.5zM1133.2 638.7h5.5v7.7h-5.5zM1168.5 638.7h5.5v7.7h-5.5zM1433.2 638.7h5.5v7.7h-5.5zM1450.8 638.7h5.5v7.7h-5.5zM1627.3 638.7h5.5v7.7h-5.5zM1715.5 638.7h5.5v7.7h-5.5zM568.6 657.7h5.5v7.7h-5.5zM1097.9 657.7h5.5v7.7h-5.5zM1292 657.7h5.5v7.7h-5.5zM1362.6 657.7h5.5v7.7h-5.5zM1433.2 657.7h5.5v7.7h-5.5zM1450.8 657.7h5.5v7.7h-5.5zM1521.4 657.7h5.5v7.7h-5.5zM1592 657.7h5.5v7.7h-5.5zM1803.7 657.7h5.5v7.7h-5.5zM1874.3 657.7h5.5v7.7h-5.5zM745 676.7h5.5v7.7h-5.5zM815.6 676.7h5.5v7.7h-5.5zM1080.3 676.7h5.5v7.7h-5.5zM1256.7 676.7h5.5v7.7h-5.5zM1362.6 676.7h5.5v7.7h-5.5zM1486.1 676.7h5.5v7.7h-5.5zM1521.4 676.7h5.5v7.7h-5.5zM1539 676.7h5.5v7.7h-5.5zM1592 676.7h5.5v7.7h-5.5zM1627.3 676.7h5.5v7.7h-5.5zM1662.5 676.7h5.5v7.7h-5.5zM498 695.6h5.5v7.7h-5.5zM780.3 695.6h5.5v7.7h-5.5zM797.9 695.6h5.5v7.7h-5.5zM886.2 695.6h5.5v7.7h-5.5zM1256.7 695.6h5.5v7.7h-5.5zM1362.6 695.6h5.5v7.7h-5.5zM1415.5 695.6h5.5v7.7h-5.5zM1450.8 695.6h5.5v7.7h-5.5zM1486.1 695.6h5.5v7.7h-5.5zM1539 695.6h5.5v7.7h-5.5zM1574.3 695.6h5.5v7.7h-5.5zM1662.5 695.6h5.5v7.7h-5.5zM1733.1 695.6h5.5v7.7h-5.5zM498 714.6h5.5v7.7h-5.5zM1009.7 714.6h5.5v7.7h-5.5zM1027.3 714.6h5.5v7.7h-5.5zM1045 714.6h5.5v7.7h-5.5zM1556.7 714.6h5.5v7.7h-5.5zM1592 714.6h5.5v7.7h-5.5zM1627.3 714.6h5.5v7.7h-5.5zM1733.1 714.6h5.5v7.7h-5.5zM1750.8 714.6h5.5v7.7h-5.5zM1768.4 714.6h5.5v7.7h-5.5zM1821.3 714.6h5.5v7.7h-5.5zM498 733.5h5.5v7.7h-5.5zM515.6 733.5h5.5v7.7h-5.5zM762.6 733.5h5.5v7.7h-5.5zM797.9 733.5h5.5v7.7h-5.5zM1097.9 733.5h5.5v7.7h-5.5zM1521.4 733.5h5.5v7.7h-5.5zM780.3 752.5h5.5v7.7h-5.5zM868.5 752.5h5.5v7.7h-5.5zM903.8 752.5h5.5v7.7h-5.5zM1274.4 752.5h5.5v7.7h-5.5zM1309.6 752.5h5.5v7.7h-5.5zM850.9 771.5h5.5v7.7h-5.5zM921.5 771.5h5.5v7.7h-5.5zM939.1 771.5h5.5v7.7h-5.5zM1045 771.5h5.5v7.7h-5.5zM1644.9 771.5h5.5v7.7h-5.5zM1856.6 771.5h5.5v7.7h-5.5zM674.4 790.4h5.5v7.7h-5.5zM992 790.4h5.5v7.7h-5.5zM1062.6 790.4h5.5v7.7h-5.5zM1203.8 790.4h5.5v7.7h-5.5zM1486.1 790.4h5.5v7.7h-5.5zM1644.9 790.4h5.5v7.7h-5.5zM921.5 809.4h5.5v7.7h-5.5zM992 809.4h5.5v7.7h-5.5zM1045 809.4h5.5v7.7h-5.5zM1062.6 809.4h5.5v7.7h-5.5zM1221.4 809.4h5.5v7.7h-5.5zM1380.2 809.4h5.5v7.7h-5.5zM1486.1 809.4h5.5v7.7h-5.5zM1556.7 809.4h5.5v7.7h-5.5zM1786.1 809.4h5.5v7.7h-5.5zM656.8 828.3h5.5v7.7h-5.5zM674.4 828.3h5.5v7.7h-5.5zM1221.4 828.3h5.5v7.7h-5.5zM1362.6 828.3h5.5v7.7h-5.5zM1503.7 828.3h5.5v7.7h-5.5zM1733.1 828.3h5.5v7.7h-5.5zM1009.7 847.3h5.5v7.7h-5.5zM1027.3 847.3h5.5v7.7h-5.5zM1715.5 847.3h5.5v7.7h-5.5zM780.3 866.3h5.5v7.7h-5.5zM1203.8 866.3h5.5v7.7h-5.5zM1309.6 866.3h5.5v7.7h-5.5zM1344.9 866.3h5.5v7.7h-5.5zM1362.6 866.3h5.5v7.7h-5.5zM1415.5 866.3h5.5v7.7h-5.5zM1433.2 866.3h5.5v7.7h-5.5zM1839 866.3h5.5v7.7h-5.5zM1856.6 866.3h5.5v7.7h-5.5zM815.6 885.2h5.5v7.7h-5.5zM1468.4 885.2h5.5v7.7h-5.5zM1556.7 885.2h5.5v7.7h-5.5zM1009.7 904.2h5.5v7.7h-5.5zM1433.2 904.2h5.5v7.7h-5.5zM1539 904.2h5.5v7.7h-5.5zM1592 904.2h5.5v7.7h-5.5zM1644.9 904.2h5.5v7.7h-5.5zM1662.5 904.2h5.5v7.7h-5.5zM1891.9 904.2h5.5v7.7h-5.5zM833.2 923.1h5.5v7.7h-5.5zM956.7 923.1h5.5v7.7h-5.5zM1415.5 923.1h5.5v7.7h-5.5zM939.1 942.1h5.5v7.7h-5.5zM1097.9 942.1h5.5v7.7h-5.5zM1203.8 942.1h5.5v7.7h-5.5zM1239.1 942.1h5.5v7.7h-5.5zM1539 961.1h5.5v7.7h-5.5zM1556.7 961.1h5.5v7.7h-5.5zM1592 961.1h5.5v7.7h-5.5zM815.6 980h5.5v7.7h-5.5zM833.2 980h5.5v7.7h-5.5zM1115.5 980h5.5v7.7h-5.5zM1344.9 980h5.5v7.7h-5.5zM1362.6 980h5.5v7.7h-5.5zM1539 980h5.5v7.7h-5.5zM745 999h5.5v7.7h-5.5zM1009.7 999h5.5v7.7h-5.5zM1027.3 999h5.5v7.7h-5.5zM1045 999h5.5v7.7h-5.5zM1062.6 999h5.5v7.7h-5.5zM1115.5 999h5.5v7.7h-5.5zM1133.2 999h5.5v7.7h-5.5zM1256.7 999h5.5v7.7h-5.5zM1292 999h5.5v7.7h-5.5zM1309.6 999h5.5v7.7h-5.5zM1327.3 999h5.5v7.7h-5.5zM1644.9 999h5.5v7.7h-5.5zM1750.8 999h5.5v7.7h-5.5zM1768.4 999h5.5v7.7h-5.5zM1839 999h5.5v7.7h-5.5zM1891.9 999h5.5v7.7h-5.5zM850.9 1018h5.5v7.7h-5.5zM1133.2 1018h5.5v7.7h-5.5zM1344.9 1018h5.5v7.7h-5.5zM1733.1 1018h5.5v7.7h-5.5zM1750.8 1018h5.5v7.7h-5.5zM921.5 1036.9h5.5v7.7h-5.5zM1045 1036.9h5.5v7.7h-5.5zM1062.6 1036.9h5.5v7.7h-5.5zM1150.8 1036.9h5.5v7.7h-5.5zM1380.2 1036.9h5.5v7.7h-5.5zM1556.7 1036.9h5.5v7.7h-5.5zM815.6 1055.9h5.5v7.7h-5.5zM956.7 1055.9h5.5v7.7h-5.5zM1433.2 1055.9h5.5v7.7h-5.5zM1609.6 1055.9h5.5v7.7h-5.5zM1662.5 1055.9h5.5v7.7h-5.5zM1821.3 1055.9h5.5v7.7h-5.5zM1839 1055.9h5.5v7.7h-5.5zM1362.6 1074.8h5.5v7.7h-5.5zM1486.1 1074.8h5.5v7.7h-5.5zM1715.5 1074.8h5.5v7.7h-5.5zM1874.3 1074.8h5.5v7.7h-5.5zM1891.9 1074.8h5.5v7.7h-5.5zM833.2 1093.8h5.5v7.7h-5.5zM1697.8 1093.8h5.5v7.7h-5.5zM815.6 1112.8h5.5v7.7h-5.5zM886.2 1112.8h5.5v7.7h-5.5zM1080.3 1112.8h5.5v7.7h-5.5zM1115.5 1112.8h5.5v7.7h-5.5zM1609.6 1112.8h5.5v7.7h-5.5zM1680.2 1112.8h5.5v7.7h-5.5zM850.9 1131.7h5.5v7.7h-5.5zM903.8 1131.7h5.5v7.7h-5.5zM1203.8 1131.7h5.5v7.7h-5.5zM1274.4 1131.7h5.5v7.7h-5.5zM1327.3 1131.7h5.5v7.7h-5.5zM1680.2 1131.7h5.5v7.7h-5.5zM939.1 1150.7h5.5v7.7h-5.5zM1168.5 1150.7h5.5v7.7h-5.5zM1327.3 1150.7h5.5v7.7h-5.5zM1468.4 1150.7h5.5v7.7h-5.5zM1627.3 1150.7h5.5v7.7h-5.5zM1821.3 1150.7h5.5v7.7h-5.5zM903.8 1169.6h5.5v7.7h-5.5zM921.5 1169.6h5.5v7.7h-5.5zM1115.5 1169.6h5.5v7.7h-5.5zM1168.5 1169.6h5.5v7.7h-5.5zM1309.6 1169.6h5.5v7.7h-5.5zM1327.3 1169.6h5.5v7.7h-5.5zM1627.3 1169.6h5.5v7.7h-5.5zM956.7 1188.6h5.5v7.7h-5.5zM1150.8 1188.6h5.5v7.7h-5.5zM1239.1 1188.6h5.5v7.7h-5.5zM1309.6 1188.6h5.5v7.7h-5.5zM1380.2 1188.6h5.5v7.7h-5.5zM1521.4 1188.6h5.5v7.7h-5.5zM939.1 1207.6h5.5v7.7h-5.5zM1080.3 1207.6h5.5v7.7h-5.5zM1203.8 1207.6h5.5v7.7h-5.5zM1680.2 1207.6h5.5v7.7h-5.5zM1803.7 1207.6h5.5v7.7h-5.5zM1874.3 1207.6h5.5v7.7h-5.5zM1274.4 1226.5h5.5v7.7h-5.5zM1080.3 1245.5h5.5v7.7h-5.5zM1327.3 1245.5h5.5v7.7h-5.5zM1891.9 1245.5h5.5v7.7h-5.5zM1027.3 1283.4h5.5v7.7h-5.5zM1097.9 1283.4h5.5v7.7h-5.5zM1115.5 1283.4h5.5v7.7h-5.5zM1309.6 1283.4h5.5v7.7h-5.5zM1433.2 1283.4h5.5v7.7h-5.5zM1609.6 1283.4h5.5v7.7h-5.5zM1733.1 1283.4h5.5v7.7h-5.5zM1803.7 1283.4h5.5v7.7h-5.5zM1186.1 1302.4h5.5v7.7h-5.5zM1309.6 1302.4h5.5v7.7h-5.5zM1468.4 1302.4h5.5v7.7h-5.5zM1697.8 1302.4h5.5v7.7h-5.5zM1203.8 1321.3h5.5v7.7h-5.5zM1415.5 1321.3h5.5v7.7h-5.5zM1433.2 1321.3h5.5v7.7h-5.5zM1468.4 1321.3h5.5v7.7h-5.5zM1609.6 1321.3h5.5v7.7h-5.5zM1715.5 1321.3h5.5v7.7h-5.5zM1874.3 1321.3h5.5v7.7h-5.5zM1168.5 1340.3h5.5v7.7h-5.5zM1786.1 1340.3h5.5v7.7h-5.5zM1891.9 1340.3h5.5v7.7h-5.5zM1292 1359.2h5.5v7.7h-5.5zM1362.6 1359.2h5.5v7.7h-5.5zM1380.2 1359.2h5.5v7.7h-5.5zM1486.1 1359.2h5.5v7.7h-5.5zM1627.3 1359.2h5.5v7.7h-5.5zM1680.2 1359.2h5.5v7.7h-5.5zM1256.7 1378.2h5.5v7.7h-5.5zM1292 1378.2h5.5v7.7h-5.5zM1362.6 1378.2h5.5v7.7h-5.5zM1486.1 1378.2h5.5v7.7h-5.5zM1644.9 1378.2h5.5v7.7h-5.5zM1856.6 1378.2h5.5v7.7h-5.5zM1256.7 1397.2h5.5v7.7h-5.5zM1292 1397.2h5.5v7.7h-5.5zM1362.6 1397.2h5.5v7.7h-5.5zM1486.1 1397.2h5.5v7.7h-5.5zM1680.2 1397.2h5.5v7.7h-5.5zM1486.1 1416.1h5.5v7.7h-5.5zM1680.2 1416.1h5.5v7.7h-5.5zM1733.1 1416.1h5.5v7.7h-5.5zM1133.2 1435.1h5.5v7.7h-5.5zM1380.2 1435.1h5.5v7.7h-5.5zM1468.4 1435.1h5.5v7.7h-5.5zM1539 1435.1h5.5v7.7h-5.5zM1556.7 1435.1h5.5v7.7h-5.5zM1274.4 1454.1h5.5v7.7h-5.5zM1362.6 1454.1h5.5v7.7h-5.5zM1733.1 1454.1h5.5v7.7h-5.5zM1362.6 1473h5.5v7.7h-5.5zM1556.7 1473h5.5v7.7h-5.5zM1644.9 1473h5.5v7.7h-5.5zM1150.8 1492h5.5v7.7h-5.5zM1221.4 1492h5.5v7.7h-5.5zM1503.7 1492h5.5v7.7h-5.5zM1592 1492h5.5v7.7h-5.5zM1609.6 1492h5.5v7.7h-5.5zM1627.3 1492h5.5v7.7h-5.5zM1680.2 1492h5.5v7.7h-5.5zM1891.9 1510.9h5.5v7.7h-5.5zM1344.9 1529.9h5.5v7.7h-5.5zM1486.1 1529.9h5.5v7.7h-5.5zM1539 1529.9h5.5v7.7h-5.5zM1627.3 1529.9h5.5v7.7h-5.5zM1221.4 1548.9h5.5v7.7h-5.5zM1239.1 1548.9h5.5v7.7h-5.5zM1786.1 1548.9h5.5v7.7h-5.5zM1309.6 1567.8h5.5v7.7h-5.5zM1450.8 1567.8h5.5v7.7h-5.5zM1521.4 1567.8h5.5v7.7h-5.5zM1556.7 1567.8h5.5v7.7h-5.5zM1592 1567.8h5.5v7.7h-5.5zM1662.5 1567.8h5.5v7.7h-5.5zM1697.8 1567.8h5.5v7.7h-5.5zM1874.3 1567.8h5.5v7.7h-5.5zM1362.6 1586.8h5.5v7.7h-5.5zM1486.1 1586.8h5.5v7.7h-5.5zM1539 1586.8h5.5v7.7h-5.5zM1662.5 1586.8h5.5v7.7h-5.5zM1380.2 1605.7h5.5v7.7h-5.5zM1468.4 1605.7h5.5v7.7h-5.5zM1556.7 1605.7h5.5v7.7h-5.5zM1592 1605.7h5.5v7.7h-5.5zM1644.9 1605.7h5.5v7.7h-5.5zM1292 1624.7h5.5v7.7h-5.5zM1503.7 1624.7h5.5v7.7h-5.5zM1733.1 1624.7h5.5v7.7h-5.5zM1821.3 1624.7h5.5v7.7h-5.5zM1839 1624.7h5.5v7.7h-5.5zM1539 1643.7h5.5v7.7h-5.5zM1644.9 1643.7h5.5v7.7h-5.5zM1733.1 1643.7h5.5v7.7h-5.5zM1380.2 1662.6h5.5v7.7h-5.5zM1468.4 1662.6h5.5v7.7h-5.5zM1803.7 1662.6h5.5v7.7h-5.5zM1327.3 1681.6h5.5v7.7h-5.5zM1486.1 1681.6h5.5v7.7h-5.5zM1503.7 1681.6h5.5v7.7h-5.5zM1539 1681.6h5.5v7.7h-5.5zM1592 1681.6h5.5v7.7h-5.5zM1715.5 1681.6h5.5v7.7h-5.5zM1733.1 1681.6h5.5v7.7h-5.5zM1839 1681.6h5.5v7.7h-5.5zM1539 1700.5h5.5v7.7h-5.5zM1592 1700.5h5.5v7.7h-5.5zM1697.8 1700.5h5.5v7.7h-5.5zM1468.4 1719.5h5.5v7.7h-5.5zM1680.2 1719.5h5.5v7.7h-5.5zM1397.9 1738.5h5.5v7.7h-5.5zM1450.8 1738.5h5.5v7.7h-5.5zM1468.4 1738.5h5.5v7.7h-5.5zM1609.6 1738.5h5.5v7.7h-5.5zM1733.1 1738.5h5.5v7.7h-5.5zM1750.8 1738.5h5.5v7.7h-5.5zM1768.4 1738.5h5.5v7.7h-5.5zM1821.3 1738.5h5.5v7.7h-5.5zM1839 1738.5h5.5v7.7h-5.5zM1874.3 1738.5h5.5v7.7h-5.5zM1803.7 1757.4h5.5v7.7h-5.5zM1450.8 1776.4h5.5v7.7h-5.5zM1468.4 1776.4h5.5v7.7h-5.5zM1874.3 1776.4h5.5v7.7h-5.5zM1486.1 1795.4h5.5v7.7h-5.5zM1644.9 1795.4h5.5v7.7h-5.5zM1680.2 1795.4h5.5v7.7h-5.5zM1556.7 1833.3h5.5v7.7h-5.5zM1680.2 1833.3h5.5v7.7h-5.5zM1786.1 1833.3h5.5v7.7h-5.5zM1697.8 1852.2h5.5v7.7h-5.5zM1733.1 1871.2h5.5v7.7h-5.5zM1803.7 1871.2h5.5v7.7h-5.5zM1856.6 1871.2h5.5v7.7h-5.5zM1803.7 1890.2h5.5v7.7h-5.5zM1644.9 1909.1h5.5v7.7h-5.5zM1715.5 1909.1h5.5v7.7h-5.5zM1786.1 1909.1h5.5v7.7h-5.5zM1891.9 1928.1h5.5v7.7h-5.5zM1715.5 1947h5.5v7.7h-5.5zM1803.7 1966h5.5v7.7h-5.5zM1750.8 1985h5.5v7.7h-5.5zM1768.4 1985h5.5v7.7h-5.5zM1786.1 2003.9h5.5v7.7h-5.5zM1803.7 2003.9h5.5v7.7h-5.5zM1644.9 2022.9h5.5v7.7h-5.5zM1680.2 2022.9h5.5v7.7h-5.5zM1768.4 2079.8h5.5v7.7h-5.5zM1786.1 2136.7h5.5v7.7h-5.5zM1874.3 2212.5h5.5v7.7h-5.5z"/>
<path fill="#FFEFE7" d="M850.9 581.8h5.5v7.7h-5.5zM1045 581.8h5.5v7.7h-5.5zM1186.1 581.8h5.5v7.7h-5.5zM1380.2 581.8h5.5v7.7h-5.5zM1486.1 581.8h5.5v7.7h-5.5zM1644.9 581.8h5.5v7.7h-5.5zM1733.1 581.8h5.5v7.7h-5.5zM603.8 600.8h5.5v7.7h-5.5zM1186.1 600.8h5.5v7.7h-5.5zM1203.8 600.8h5.5v7.7h-5.5zM1556.7 600.8h5.5v7.7h-5.5zM1733.1 600.8h5.5v7.7h-5.5zM603.8 619.8h5.5v7.7h-5.5zM1027.3 619.8h5.5v7.7h-5.5zM1062.6 619.8h5.5v7.7h-5.5zM1380.2 619.8h5.5v7.7h-5.5zM1786.1 619.8h5.5v7.7h-5.5zM868.5 638.7h5.5v7.7h-5.5zM1062.6 638.7h5.5v7.7h-5.5zM1186.1 638.7h5.5v7.7h-5.5zM1733.1 638.7h5.5v7.7h-5.5zM550.9 657.7h5.5v7.7h-5.5zM621.5 657.7h5.5v7.7h-5.5zM850.9 657.7h5.5v7.7h-5.5zM921.5 657.7h5.5v7.7h-5.5zM1221.4 657.7h5.5v7.7h-5.5zM1486.1 657.7h5.5v7.7h-5.5zM1503.7 657.7h5.5v7.7h-5.5zM797.9 676.7h5.5v7.7h-5.5zM903.8 676.7h5.5v7.7h-5.5zM921.5 676.7h5.5v7.7h-5.5zM956.7 676.7h5.5v7.7h-5.5zM1027.3 676.7h5.5v7.7h-5.5zM1186.1 676.7h5.5v7.7h-5.5zM1415.5 676.7h5.5v7.7h-5.5zM1874.3 676.7h5.5v7.7h-5.5zM956.7 695.6h5.5v7.7h-5.5zM1027.3 695.6h5.5v7.7h-5.5zM1168.5 695.6h5.5v7.7h-5.5zM1274.4 695.6h5.5v7.7h-5.5zM1380.2 695.6h5.5v7.7h-5.5zM1715.5 695.6h5.5v7.7h-5.5zM815.6 714.6h5.5v7.7h-5.5zM850.9 714.6h5.5v7.7h-5.5zM886.2 714.6h5.5v7.7h-5.5zM1891.9 714.6h5.5v7.7h-5.5zM1168.5 733.5h5.5v7.7h-5.5zM1186.1 733.5h5.5v7.7h-5.5zM1292 733.5h5.5v7.7h-5.5zM1362.6 733.5h5.5v7.7h-5.5zM1415.5 733.5h5.5v7.7h-5.5zM745 752.5h5.5v7.7h-5.5zM762.6 752.5h5.5v7.7h-5.5zM886.2 752.5h5.5v7.7h-5.5zM1045 752.5h5.5v7.7h-5.5zM1062.6 752.5h5.5v7.7h-5.5zM1221.4 752.5h5.5v7.7h-5.5zM1239.1 752.5h5.5v7.7h-5.5zM886.2 771.5h5.5v7.7h-5.5zM1239.1 771.5h5.5v7.7h-5.5zM1433.2 771.5h5.5v7.7h-5.5zM1468.4 771.5h5.5v7.7h-5.5zM1503.7 771.5h5.5v7.7h-5.5zM1592 771.5h5.5v7.7h-5.5zM1697.8 771.5h5.5v7.7h-5.5zM1874.3 771.5h5.5v7.7h-5.5zM1309.6 790.4h5.5v7.7h-5.5zM1592 790.4h5.5v7.7h-5.5zM1433.2 809.4h5.5v7.7h-5.5zM1662.5 809.4h5.5v7.7h-5.5zM1697.8 809.4h5.5v7.7h-5.5zM1874.3 809.4h5.5v7.7h-5.5zM1168.5 828.3h5.5v7.7h-5.5zM1168.5 847.3h5.5v7.7h-5.5zM1292 847.3h5.5v7.7h-5.5zM1592 847.3h5.5v7.7h-5.5zM1662.5 847.3h5.5v7.7h-5.5zM1697.8 847.3h5.5v7.7h-5.5zM903.8 866.3h5.5v7.7h-5.5zM1045 866.3h5.5v7.7h-5.5zM1327.3 866.3h5.5v7.7h-5.5zM850.9 885.2h5.5v7.7h-5.5zM974.4 885.2h5.5v7.7h-5.5zM1009.7 885.2h5.5v7.7h-5.5zM1133.2 885.2h5.5v7.7h-5.5zM1274.4 885.2h5.5v7.7h-5.5zM850.9 904.2h5.5v7.7h-5.5zM1486.1 904.2h5.5v7.7h-5.5zM1786.1 904.2h5.5v7.7h-5.5zM1856.6 904.2h5.5v7.7h-5.5zM886.2 923.1h5.5v7.7h-5.5zM1256.7 923.1h5.5v7.7h-5.5zM1327.3 923.1h5.5v7.7h-5.5zM1468.4 923.1h5.5v7.7h-5.5zM886.2 942.1h5.5v7.7h-5.5zM1115.5 942.1h5.5v7.7h-5.5zM1574.3 942.1h5.5v7.7h-5.5zM745 961.1h5.5v7.7h-5.5zM956.7 961.1h5.5v7.7h-5.5zM1009.7 961.1h5.5v7.7h-5.5zM1045 961.1h5.5v7.7h-5.5zM1186.1 961.1h5.5v7.7h-5.5zM1203.8 961.1h5.5v7.7h-5.5zM1221.4 961.1h5.5v7.7h-5.5zM1380.2 961.1h5.5v7.7h-5.5zM1574.3 961.1h5.5v7.7h-5.5zM1715.5 961.1h5.5v7.7h-5.5zM956.7 980h5.5v7.7h-5.5zM992 980h5.5v7.7h-5.5zM1415.5 980h5.5v7.7h-5.5zM1433.2 980h5.5v7.7h-5.5zM1874.3 980h5.5v7.7h-5.5zM1891.9 980h5.5v7.7h-5.5zM1450.8 999h5.5v7.7h-5.5zM1468.4 999h5.5v7.7h-5.5zM1574.3 999h5.5v7.7h-5.5zM815.6 1018h5.5v7.7h-5.5zM903.8 1018h5.5v7.7h-5.5zM1380.2 1018h5.5v7.7h-5.5zM1397.9 1018h5.5v7.7h-5.5zM1415.5 1018h5.5v7.7h-5.5zM1503.7 1018h5.5v7.7h-5.5zM1627.3 1018h5.5v7.7h-5.5zM1115.5 1036.9h5.5v7.7h-5.5zM1292 1036.9h5.5v7.7h-5.5zM1309.6 1036.9h5.5v7.7h-5.5zM1697.8 1036.9h5.5v7.7h-5.5zM1786.1 1036.9h5.5v7.7h-5.5zM1133.2 1055.9h5.5v7.7h-5.5zM1239.1 1055.9h5.5v7.7h-5.5zM1486.1 1055.9h5.5v7.7h-5.5zM1680.2 1055.9h5.5v7.7h-5.5zM1715.5 1055.9h5.5v7.7h-5.5zM1786.1 1055.9h5.5v7.7h-5.5zM1009.7 1074.8h5.5v7.7h-5.5zM850.9 1093.8h5.5v7.7h-5.5zM868.5 1093.8h5.5v7.7h-5.5zM1027.3 1093.8h5.5v7.7h-5.5zM1133.2 1093.8h5.5v7.7h-5.5zM1786.1 1093.8h5.5v7.7h-5.5zM1203.8 1112.8h5.5v7.7h-5.5zM1362.6 1112.8h5.5v7.7h-5.5zM1556.7 1112.8h5.5v7.7h-5.5zM1186.1 1131.7h5.5v7.7h-5.5zM1450.8 1131.7h5.5v7.7h-5.5zM1662.5 1131.7h5.5v7.7h-5.5zM1821.3 1131.7h5.5v7.7h-5.5zM1186.1 1150.7h5.5v7.7h-5.5zM1292 1150.7h5.5v7.7h-5.5zM1344.9 1150.7h5.5v7.7h-5.5zM1521.4 1150.7h5.5v7.7h-5.5zM1662.5 1150.7h5.5v7.7h-5.5zM1715.5 1150.7h5.5v7.7h-5.5zM1733.1 1150.7h5.5v7.7h-5.5zM1362.6 1169.6h5.5v7.7h-5.5zM1503.7 1169.6h5.5v7.7h-5.5zM1715.5 1169.6h5.5v7.7h-5.5zM886.2 1188.6h5.5v7.7h-5.5zM1027.3 1188.6h5.5v7.7h-5.5zM1097.9 1188.6h5.5v7.7h-5.5zM1186.1 1188.6h5.5v7.7h-5.5zM1327.3 1188.6h5.5v7.7h-5.5zM1574.3 1188.6h5.5v7.7h-5.5zM1715.5 1188.6h5.5v7.7h-5.5zM886.2 1207.6h5.5v7.7h-5.5zM956.7 1207.6h5.5v7.7h-5.5zM1133.2 1207.6h5.5v7.7h-5.5zM1433.2 1207.6h5.5v7.7h-5.5zM903.8 1226.5h5.5v7.7h-5.5zM921.5 1226.5h5.5v7.7h-5.5zM992 1226.5h5.5v7.7h-5.5zM1856.6 1226.5h5.5v7.7h-5.5zM1168.5 1245.5h5.5v7.7h-5.5zM1256.7 1245.5h5.5v7.7h-5.5zM1362.6 1245.5h5.5v7.7h-5.5zM1415.5 1245.5h5.5v7.7h-5.5zM1592 1245.5h5.5v7.7h-5.5zM1168.5 1264.4h5.5v7.7h-5.5zM1362.6 1264.4h5.5v7.7h-5.5zM1539 1264.4h5.5v7.7h-5.5zM1556.7 1264.4h5.5v7.7h-5.5zM1592 1264.4h5.5v7.7h-5.5zM1256.7 1283.4h5.5v7.7h-5.5zM1327.3 1283.4h5.5v7.7h-5.5zM1362.6 1283.4h5.5v7.7h-5.5zM1097.9 1302.4h5.5v7.7h-5.5zM1450.8 1302.4h5.5v7.7h-5.5zM1539 1302.4h5.5v7.7h-5.5zM1627.3 1302.4h5.5v7.7h-5.5zM1027.3 1321.3h5.5v7.7h-5.5zM1362.6 1321.3h5.5v7.7h-5.5zM1221.4 1340.3h5.5v7.7h-5.5zM1362.6 1340.3h5.5v7.7h-5.5zM1503.7 1340.3h5.5v7.7h-5.5zM1133.2 1359.2h5.5v7.7h-5.5zM1662.5 1359.2h5.5v7.7h-5.5zM1715.5 1359.2h5.5v7.7h-5.5zM1803.7 1378.2h5.5v7.7h-5.5zM1891.9 1378.2h5.5v7.7h-5.5zM1503.7 1397.2h5.5v7.7h-5.5zM1556.7 1397.2h5.5v7.7h-5.5zM1803.7 1397.2h5.5v7.7h-5.5zM1821.3 1397.2h5.5v7.7h-5.5zM1839 1397.2h5.5v7.7h-5.5zM1115.5 1416.1h5.5v7.7h-5.5zM1503.7 1416.1h5.5v7.7h-5.5zM1821.3 1416.1h5.5v7.7h-5.5zM1839 1416.1h5.5v7.7h-5.5zM1521.4 1435.1h5.5v7.7h-5.5zM1644.9 1435.1h5.5v7.7h-5.5zM1680.2 1435.1h5.5v7.7h-5.5zM1309.6 1454.1h5.5v7.7h-5.5zM1327.3 1454.1h5.5v7.7h-5.5zM1468.4 1454.1h5.5v7.7h-5.5zM1715.5 1454.1h5.5v7.7h-5.5zM1168.5 1492h5.5v7.7h-5.5zM1203.8 1492h5.5v7.7h-5.5zM1786.1 1492h5.5v7.7h-5.5zM1821.3 1492h5.5v7.7h-5.5zM1839 1492h5.5v7.7h-5.5zM1203.8 1510.9h5.5v7.7h-5.5zM1327.3 1510.9h5.5v7.7h-5.5zM1362.6 1510.9h5.5v7.7h-5.5zM1468.4 1510.9h5.5v7.7h-5.5zM1556.7 1510.9h5.5v7.7h-5.5zM1574.3 1510.9h5.5v7.7h-5.5zM1644.9 1510.9h5.5v7.7h-5.5zM1750.8 1510.9h5.5v7.7h-5.5zM1221.4 1529.9h5.5v7.7h-5.5zM1292 1529.9h5.5v7.7h-5.5zM1362.6 1529.9h5.5v7.7h-5.5zM1592 1529.9h5.5v7.7h-5.5zM1644.9 1529.9h5.5v7.7h-5.5zM1715.5 1529.9h5.5v7.7h-5.5zM1309.6 1548.9h5.5v7.7h-5.5zM1556.7 1548.9h5.5v7.7h-5.5zM1662.5 1548.9h5.5v7.7h-5.5zM1733.1 1548.9h5.5v7.7h-5.5zM1327.3 1567.8h5.5v7.7h-5.5zM1715.5 1567.8h5.5v7.7h-5.5zM1750.8 1567.8h5.5v7.7h-5.5zM1821.3 1567.8h5.5v7.7h-5.5zM1327.3 1605.7h5.5v7.7h-5.5zM1486.1 1605.7h5.5v7.7h-5.5zM1539 1605.7h5.5v7.7h-5.5zM1662.5 1605.7h5.5v7.7h-5.5zM1786.1 1605.7h5.5v7.7h-5.5zM1274.4 1624.7h5.5v7.7h-5.5zM1309.6 1624.7h5.5v7.7h-5.5zM1486.1 1624.7h5.5v7.7h-5.5zM1680.2 1624.7h5.5v7.7h-5.5zM1697.8 1624.7h5.5v7.7h-5.5zM1891.9 1624.7h5.5v7.7h-5.5zM1292 1643.7h5.5v7.7h-5.5zM1380.2 1643.7h5.5v7.7h-5.5zM1627.3 1643.7h5.5v7.7h-5.5zM1803.7 1681.6h5.5v7.7h-5.5zM1644.9 1700.5h5.5v7.7h-5.5zM1521.4 1757.4h5.5v7.7h-5.5zM1644.9 1776.4h5.5v7.7h-5.5zM1697.8 1795.4h5.5v7.7h-5.5zM1539 1871.2h5.5v7.7h-5.5zM1839 1909.1h5.5v7.7h-5.5zM1786.1 1928.1h5.5v7.7h-5.5zM1680.2 1947h5.5v7.7h-5.5zM1839 1947h5.5v7.7h-5.5zM1891.9 1985h5.5v7.7h-5.5zM1697.8 2041.8h5.5v7.7h-5.5zM1891.9 2041.8h5.5v7.7h-5.5zM1891.9 2060.8h5.5v7.7h-5.5zM1856.6 2117.7h5.5v7.7h-5.5zM1856.6 2155.6h5.5v7.7h-5.5zM1856.6 2174.6h5.5v7.7h-5.5zM1891.9 2269.4h5.5v7.7h-5.5z"/>
<path fill="#DFEAF3" d="M726.7 581.2h6.4v9h-6.4zM814.9 581.2h6.4v9h-6.4zM956.1 581.2h6.4v9h-6.4zM1167.8 581.2h6.4v9h-6.4zM1238.4 581.2h6.4v9h-6.4zM1520.7 581.2h6.4v9h-6.4zM1538.4 581.2h6.4v9h-6.4zM1609 581.2h6.4v9h-6.4zM1626.6 581.2h6.4v9h-6.4zM1697.2 581.2h6.4v9h-6.4zM814.9 600.2h6.4v9h-6.4zM956.1 600.2h6.4v9h-6.4zM1097.3 600.2h6.4v9h-6.4zM1114.9 600.2h6.4v9h-6.4zM1132.5 600.2h6.4v9h-6.4zM1238.4 600.2h6.4v9h-6.4zM1538.4 600.2h6.4v9h-6.4zM1609 600.2h6.4v9h-6.4zM1626.6 600.2h6.4v9h-6.4zM1697.2 600.2h6.4v9h-6.4zM814.9 619.1h6.4v9h-6.4zM885.5 619.1h6.4v9h-6.4zM956.1 619.1h6.4v9h-6.4zM1114.9 619.1h6.4v9h-6.4zM1132.5 619.1h6.4v9h-6.4zM1167.8 619.1h6.4v9h-6.4zM1397.2 619.1h6.4v9h-6.4zM1467.8 619.1h6.4v9h-6.4zM1538.4 619.1h6.4v9h-6.4zM1626.6 619.1h6.4v9h-6.4zM1697.2 619.1h6.4v9h-6.4zM1820.7 619.1h6.4v9h-6.4zM991.4 638.1h6.4v9h-6.4zM1467.8 638.1h6.4v9h-6.4zM1538.4 638.1h6.4v9h-6.4zM1609 638.1h6.4v9h-6.4zM1873.6 638.1h6.4v9h-6.4zM1167.8 657h6.4v9h-6.4zM1238.4 657h6.4v9h-6.4zM1467.8 657h6.4v9h-6.4zM1609 657h6.4v9h-6.4zM1661.9 657h6.4v9h-6.4zM1697.2 657h6.4v9h-6.4zM1291.3 676h6.4v9h-6.4zM1556 676h6.4v9h-6.4zM1732.5 676h6.4v9h-6.4zM1856 676h6.4v9h-6.4zM479.7 695h6.4v9h-6.4zM515 695h6.4v9h-6.4zM532.6 695h6.4v9h-6.4zM1079.6 695h6.4v9h-6.4zM1397.2 695h6.4v9h-6.4zM1556 695h6.4v9h-6.4zM1591.3 695h6.4v9h-6.4zM1626.6 695h6.4v9h-6.4zM1750.1 695h6.4v9h-6.4zM1767.8 695h6.4v9h-6.4zM1820.7 695h6.4v9h-6.4zM1838.3 695h6.4v9h-6.4zM462 713.9h6.4v9h-6.4zM762 713.9h6.4v9h-6.4zM1291.3 713.9h6.4v9h-6.4zM1309 713.9h6.4v9h-6.4zM1397.2 713.9h6.4v9h-6.4zM1644.2 713.9h6.4v9h-6.4zM1838.3 713.9h6.4v9h-6.4zM744.4 732.9h6.4v9h-6.4zM850.2 732.9h6.4v9h-6.4zM1256.1 732.9h6.4v9h-6.4zM585.5 751.8h6.4v9h-6.4zM920.8 751.8h6.4v9h-6.4zM938.4 751.8h6.4v9h-6.4zM1856 751.8h6.4v9h-6.4zM656.1 770.8h6.4v9h-6.4zM1185.5 770.8h6.4v9h-6.4zM1379.6 770.8h6.4v9h-6.4zM656.1 789.8h6.4v9h-6.4zM867.9 789.8h6.4v9h-6.4zM938.4 789.8h6.4v9h-6.4zM1044.3 789.8h6.4v9h-6.4zM1079.6 789.8h6.4v9h-6.4zM1379.6 789.8h6.4v9h-6.4zM1856 789.8h6.4v9h-6.4zM656.1 808.7h6.4v9h-6.4zM867.9 808.7h6.4v9h-6.4zM938.4 808.7h6.4v9h-6.4zM1079.6 808.7h6.4v9h-6.4zM1256.1 808.7h6.4v9h-6.4zM1732.5 808.7h6.4v9h-6.4zM1856 808.7h6.4v9h-6.4zM550.3 827.7h6.4v9h-6.4zM867.9 827.7h6.4v9h-6.4zM1185.5 827.7h6.4v9h-6.4zM1644.2 827.7h6.4v9h-6.4zM1856 827.7h6.4v9h-6.4zM1079.6 846.7h6.4v9h-6.4zM1220.8 846.7h6.4v9h-6.4zM1485.4 846.7h6.4v9h-6.4zM1503.1 846.7h6.4v9h-6.4zM1750.1 846.7h6.4v9h-6.4zM1767.8 846.7h6.4v9h-6.4zM1785.4 846.7h6.4v9h-6.4zM1856 846.7h6.4v9h-6.4zM709.1 865.6h6.4v9h-6.4zM814.9 865.6h6.4v9h-6.4zM832.6 865.6h6.4v9h-6.4zM1397.2 865.6h6.4v9h-6.4zM1538.4 865.6h6.4v9h-6.4zM1573.7 865.6h6.4v9h-6.4zM1591.3 865.6h6.4v9h-6.4zM1661.9 865.6h6.4v9h-6.4zM1732.5 865.6h6.4v9h-6.4zM832.6 884.6h6.4v9h-6.4zM1291.3 884.6h6.4v9h-6.4zM1361.9 884.6h6.4v9h-6.4zM1432.5 884.6h6.4v9h-6.4zM1450.2 884.6h6.4v9h-6.4zM1520.7 884.6h6.4v9h-6.4zM1609 884.6h6.4v9h-6.4zM1661.9 884.6h6.4v9h-6.4zM1167.8 903.5h6.4v9h-6.4zM1203.1 903.5h6.4v9h-6.4zM1326.6 903.5h6.4v9h-6.4zM1520.7 903.5h6.4v9h-6.4zM1573.7 903.5h6.4v9h-6.4zM850.2 922.5h6.4v9h-6.4zM1114.9 922.5h6.4v9h-6.4zM1132.5 922.5h6.4v9h-6.4zM1397.2 922.5h6.4v9h-6.4zM1538.4 922.5h6.4v9h-6.4zM673.8 941.5h6.4v9h-6.4zM744.4 941.5h6.4v9h-6.4zM814.9 941.5h6.4v9h-6.4zM903.2 941.5h6.4v9h-6.4zM920.8 941.5h6.4v9h-6.4zM956.1 941.5h6.4v9h-6.4zM973.7 941.5h6.4v9h-6.4zM1273.7 941.5h6.4v9h-6.4zM1520.7 941.5h6.4v9h-6.4zM814.9 960.4h6.4v9h-6.4zM1256.1 960.4h6.4v9h-6.4zM1485.4 960.4h6.4v9h-6.4zM1661.9 960.4h6.4v9h-6.4zM1732.5 960.4h6.4v9h-6.4zM726.7 979.4h6.4v9h-6.4zM1079.6 979.4h6.4v9h-6.4zM1097.3 979.4h6.4v9h-6.4zM1256.1 979.4h6.4v9h-6.4zM1556 979.4h6.4v9h-6.4zM1591.3 979.4h6.4v9h-6.4zM1856 979.4h6.4v9h-6.4zM709.1 998.3h6.4v9h-6.4zM1097.3 998.3h6.4v9h-6.4zM1150.2 998.3h6.4v9h-6.4zM1344.3 998.3h6.4v9h-6.4zM1397.2 998.3h6.4v9h-6.4zM1414.9 998.3h6.4v9h-6.4zM726.7 1017.3h6.4v9h-6.4zM1114.9 1017.3h6.4v9h-6.4zM1309 1017.3h6.4v9h-6.4zM1644.2 1017.3h6.4v9h-6.4zM1856 1017.3h6.4v9h-6.4zM938.4 1036.3h6.4v9h-6.4zM1644.2 1036.3h6.4v9h-6.4zM832.6 1055.2h6.4v9h-6.4zM973.7 1055.2h6.4v9h-6.4zM1309 1055.2h6.4v9h-6.4zM1344.3 1055.2h6.4v9h-6.4zM1361.9 1055.2h6.4v9h-6.4zM1538.4 1055.2h6.4v9h-6.4zM1591.3 1055.2h6.4v9h-6.4zM832.6 1074.2h6.4v9h-6.4zM1150.2 1074.2h6.4v9h-6.4zM1503.1 1074.2h6.4v9h-6.4zM1520.7 1074.2h6.4v9h-6.4zM1591.3 1074.2h6.4v9h-6.4zM1661.9 1074.2h6.4v9h-6.4zM1679.5 1074.2h6.4v9h-6.4zM1167.8 1093.1h6.4v9h-6.4zM1326.6 1093.1h6.4v9h-6.4zM1432.5 1093.1h6.4v9h-6.4zM1467.8 1093.1h6.4v9h-6.4zM1520.7 1093.1h6.4v9h-6.4zM1591.3 1093.1h6.4v9h-6.4zM1661.9 1093.1h6.4v9h-6.4zM1679.5 1093.1h6.4v9h-6.4zM1714.8 1093.1h6.4v9h-6.4zM1803.1 1093.1h6.4v9h-6.4zM850.2 1112.1h6.4v9h-6.4zM1097.3 1112.1h6.4v9h-6.4zM1132.5 1112.1h6.4v9h-6.4zM1538.4 1112.1h6.4v9h-6.4zM1573.7 1112.1h6.4v9h-6.4zM1626.6 1112.1h6.4v9h-6.4zM1891.3 1112.1h6.4v9h-6.4zM1520.7 1131.1h6.4v9h-6.4zM1538.4 1131.1h6.4v9h-6.4zM1573.7 1131.1h6.4v9h-6.4zM1626.6 1131.1h6.4v9h-6.4zM1891.3 1131.1h6.4v9h-6.4zM850.2 1150h6.4v9h-6.4zM903.2 1150h6.4v9h-6.4zM920.8 1150h6.4v9h-6.4zM1838.3 1150h6.4v9h-6.4zM850.2 1169h6.4v9h-6.4zM1132.5 1169h6.4v9h-6.4zM1414.9 1169h6.4v9h-6.4zM938.4 1187.9h6.4v9h-6.4zM1203.1 1187.9h6.4v9h-6.4zM1273.7 1187.9h6.4v9h-6.4zM1803.1 1187.9h6.4v9h-6.4zM1856 1187.9h6.4v9h-6.4zM903.2 1206.9h6.4v9h-6.4zM920.8 1206.9h6.4v9h-6.4zM1238.4 1206.9h6.4v9h-6.4zM1609 1206.9h6.4v9h-6.4zM1714.8 1206.9h6.4v9h-6.4zM1732.5 1206.9h6.4v9h-6.4zM1344.3 1225.9h6.4v9h-6.4zM1361.9 1225.9h6.4v9h-6.4zM1414.9 1225.9h6.4v9h-6.4zM1467.8 1225.9h6.4v9h-6.4zM1556 1225.9h6.4v9h-6.4zM1644.2 1225.9h6.4v9h-6.4zM1661.9 1225.9h6.4v9h-6.4zM1785.4 1225.9h6.4v9h-6.4zM1820.7 1225.9h6.4v9h-6.4zM1838.3 1225.9h6.4v9h-6.4zM1132.5 1244.8h6.4v9h-6.4zM1203.1 1244.8h6.4v9h-6.4zM1291.3 1244.8h6.4v9h-6.4zM1309 1244.8h6.4v9h-6.4zM1485.4 1244.8h6.4v9h-6.4zM1697.2 1244.8h6.4v9h-6.4zM1873.6 1244.8h6.4v9h-6.4zM1079.6 1263.8h6.4v9h-6.4zM1132.5 1263.8h6.4v9h-6.4zM1203.1 1263.8h6.4v9h-6.4zM1291.3 1263.8h6.4v9h-6.4zM1309 1263.8h6.4v9h-6.4zM1485.4 1263.8h6.4v9h-6.4zM1573.7 1263.8h6.4v9h-6.4zM1785.4 1263.8h6.4v9h-6.4zM1873.6 1263.8h6.4v9h-6.4zM1203.1 1282.8h6.4v9h-6.4zM1485.4 1282.8h6.4v9h-6.4zM1520.7 1282.8h6.4v9h-6.4zM1697.2 1282.8h6.4v9h-6.4zM1891.3 1282.8h6.4v9h-6.4zM1079.6 1301.7h6.4v9h-6.4zM1273.7 1301.7h6.4v9h-6.4zM1397.2 1301.7h6.4v9h-6.4zM1220.8 1320.7h6.4v9h-6.4zM1291.3 1320.7h6.4v9h-6.4zM1309 1320.7h6.4v9h-6.4zM1326.6 1320.7h6.4v9h-6.4zM1697.2 1320.7h6.4v9h-6.4zM1803.1 1320.7h6.4v9h-6.4zM1185.5 1339.6h6.4v9h-6.4zM1379.6 1339.6h6.4v9h-6.4zM1679.5 1339.6h6.4v9h-6.4zM1644.2 1358.6h6.4v9h-6.4zM1732.5 1358.6h6.4v9h-6.4zM1856 1358.6h6.4v9h-6.4zM1379.6 1377.6h6.4v9h-6.4zM1679.5 1377.6h6.4v9h-6.4zM1732.5 1377.6h6.4v9h-6.4zM1644.2 1396.5h6.4v9h-6.4zM1732.5 1396.5h6.4v9h-6.4zM1856 1396.5h6.4v9h-6.4zM1379.6 1415.5h6.4v9h-6.4zM1856 1415.5h6.4v9h-6.4zM1097.3 1434.4h6.4v9h-6.4zM1238.4 1434.4h6.4v9h-6.4zM1432.5 1434.4h6.4v9h-6.4zM1591.3 1434.4h6.4v9h-6.4zM1714.8 1434.4h6.4v9h-6.4zM1520.7 1453.4h6.4v9h-6.4zM1556 1453.4h6.4v9h-6.4zM1661.9 1453.4h6.4v9h-6.4zM1256.1 1472.4h6.4v9h-6.4zM1344.3 1472.4h6.4v9h-6.4zM1414.9 1472.4h6.4v9h-6.4zM1538.4 1472.4h6.4v9h-6.4zM1661.9 1472.4h6.4v9h-6.4zM1538.4 1491.3h6.4v9h-6.4zM1556 1491.3h6.4v9h-6.4zM1644.2 1491.3h6.4v9h-6.4zM1661.9 1491.3h6.4v9h-6.4zM1167.8 1510.3h6.4v9h-6.4zM1185.5 1510.3h6.4v9h-6.4zM1538.4 1510.3h6.4v9h-6.4zM1326.6 1529.2h6.4v9h-6.4zM1661.9 1529.2h6.4v9h-6.4zM1361.9 1548.2h6.4v9h-6.4zM1891.3 1548.2h6.4v9h-6.4zM1220.8 1567.2h6.4v9h-6.4zM1573.7 1567.2h6.4v9h-6.4zM1803.1 1567.2h6.4v9h-6.4zM1326.6 1586.1h6.4v9h-6.4zM1450.2 1586.1h6.4v9h-6.4zM1820.7 1586.1h6.4v9h-6.4zM1838.3 1586.1h6.4v9h-6.4zM1273.7 1605.1h6.4v9h-6.4zM1291.3 1605.1h6.4v9h-6.4zM1432.5 1605.1h6.4v9h-6.4zM1609 1605.1h6.4v9h-6.4zM1679.5 1605.1h6.4v9h-6.4zM1379.6 1624.1h6.4v9h-6.4zM1609 1643h6.4v9h-6.4zM1344.3 1680.9h6.4v9h-6.4zM1397.2 1680.9h6.4v9h-6.4zM1432.5 1680.9h6.4v9h-6.4zM1450.2 1680.9h6.4v9h-6.4zM1626.6 1680.9h6.4v9h-6.4zM1697.2 1680.9h6.4v9h-6.4zM1820.7 1680.9h6.4v9h-6.4zM1873.6 1680.9h6.4v9h-6.4zM1485.4 1699.9h6.4v9h-6.4zM1609 1699.9h6.4v9h-6.4zM1379.6 1718.9h6.4v9h-6.4zM1485.4 1718.9h6.4v9h-6.4zM1520.7 1718.9h6.4v9h-6.4zM1803.1 1718.9h6.4v9h-6.4zM1873.6 1718.9h6.4v9h-6.4zM1891.3 1718.9h6.4v9h-6.4zM1432.5 1737.8h6.4v9h-6.4zM1520.7 1737.8h6.4v9h-6.4zM1679.5 1737.8h6.4v9h-6.4zM1556 1756.8h6.4v9h-6.4zM1679.5 1756.8h6.4v9h-6.4zM1732.5 1756.8h6.4v9h-6.4zM1856 1756.8h6.4v9h-6.4zM1891.3 1756.8h6.4v9h-6.4zM1485.4 1775.7h6.4v9h-6.4zM1520.7 1775.7h6.4v9h-6.4zM1591.3 1775.7h6.4v9h-6.4zM1609 1775.7h6.4v9h-6.4zM1679.5 1775.7h6.4v9h-6.4zM1714.8 1775.7h6.4v9h-6.4zM1750.1 1775.7h6.4v9h-6.4zM1767.8 1775.7h6.4v9h-6.4zM1520.7 1794.7h6.4v9h-6.4zM1556 1794.7h6.4v9h-6.4zM1609 1794.7h6.4v9h-6.4zM1644.2 1813.7h6.4v9h-6.4zM1803.1 1832.6h6.4v9h-6.4zM1856 1832.6h6.4v9h-6.4zM1591.3 1851.6h6.4v9h-6.4zM1644.2 1851.6h6.4v9h-6.4zM1732.5 1851.6h6.4v9h-6.4zM1803.1 1851.6h6.4v9h-6.4zM1679.5 1870.5h6.4v9h-6.4zM1697.2 1870.5h6.4v9h-6.4zM1538.4 1889.5h6.4v9h-6.4zM1626.6 1889.5h6.4v9h-6.4zM1856 1889.5h6.4v9h-6.4zM1891.3 1889.5h6.4v9h-6.4zM1679.5 1908.5h6.4v9h-6.4zM1644.2 1927.4h6.4v9h-6.4zM1750.1 1927.4h6.4v9h-6.4zM1767.8 1927.4h6.4v9h-6.4zM1820.7 1927.4h6.4v9h-6.4zM1838.3 1927.4h6.4v9h-6.4zM1856 1927.4h6.4v9h-6.4zM1626.6 1946.4h6.4v9h-6.4zM1644.2 1965.4h6.4v9h-6.4zM1679.5 1965.4h6.4v9h-6.4zM1785.4 1965.4h6.4v9h-6.4zM1714.8 1984.3h6.4v9h-6.4zM1873.6 1984.3h6.4v9h-6.4zM1697.2 2022.2h6.4v9h-6.4zM1856 2022.2h6.4v9h-6.4zM1750.1 2041.2h6.4v9h-6.4zM1767.8 2041.2h6.4v9h-6.4zM1873.6 2041.2h6.4v9h-6.4zM1856 2060.2h6.4v9h-6.4zM1873.6 2060.2h6.4v9h-6.4zM1750.1 2079.1h6.4v9h-6.4zM1820.7 2079.1h6.4v9h-6.4zM1838.3 2079.1h6.4v9h-6.4zM1732.5 2098.1h6.4v9h-6.4zM1732.5 2117h6.4v9h-6.4zM1803.1 2192.9h6.4v9h-6.4zM1891.3 2287.7h6.4v9h-6.4z"/>
<path fill="#FEE5D9" d="M867.9 581.2h6.4v9h-6.4zM1856 581.2h6.4v9h-6.4zM585.5 600.2h6.4v9h-6.4zM1485.4 600.2h6.4v9h-6.4zM1856 600.2h6.4v9h-6.4zM567.9 619.1h6.4v9h-6.4zM585.5 619.1h6.4v9h-6.4zM620.8 619.1h6.4v9h-6.4zM1009 619.1h6.4v9h-6.4zM1044.3 619.1h6.4v9h-6.4zM1079.6 619.1h6.4v9h-6.4zM1185.5 619.1h6.4v9h-6.4zM1203.1 619.1h6.4v9h-6.4zM1556 619.1h6.4v9h-6.4zM1644.2 619.1h6.4v9h-6.4zM1732.5 619.1h6.4v9h-6.4zM1856 619.1h6.4v9h-6.4zM567.9 638.1h6.4v9h-6.4zM603.2 638.1h6.4v9h-6.4zM620.8 638.1h6.4v9h-6.4zM1044.3 638.1h6.4v9h-6.4zM1079.6 638.1h6.4v9h-6.4zM1644.2 638.1h6.4v9h-6.4zM1856 638.1h6.4v9h-6.4zM938.4 657h6.4v9h-6.4zM1044.3 657h6.4v9h-6.4zM1062 657h6.4v9h-6.4zM1644.2 657h6.4v9h-6.4zM1856 657h6.4v9h-6.4zM779.6 676h6.4v9h-6.4zM938.4 676h6.4v9h-6.4zM973.7 676h6.4v9h-6.4zM1062 676h6.4v9h-6.4zM1167.8 676h6.4v9h-6.4zM1238.4 676h6.4v9h-6.4zM1379.6 676h6.4v9h-6.4zM1503.1 676h6.4v9h-6.4zM1697.2 676h6.4v9h-6.4zM1714.8 676h6.4v9h-6.4zM1785.4 676h6.4v9h-6.4zM1803.1 676h6.4v9h-6.4zM1062 695h6.4v9h-6.4zM1132.5 695h6.4v9h-6.4zM1185.5 695h6.4v9h-6.4zM1326.6 695h6.4v9h-6.4zM1697.2 695h6.4v9h-6.4zM1785.4 695h6.4v9h-6.4zM1891.3 695h6.4v9h-6.4zM867.9 713.9h6.4v9h-6.4zM938.4 713.9h6.4v9h-6.4zM973.7 713.9h6.4v9h-6.4zM991.4 713.9h6.4v9h-6.4zM1185.5 713.9h6.4v9h-6.4zM1273.7 713.9h6.4v9h-6.4zM1714.8 713.9h6.4v9h-6.4zM814.9 732.9h6.4v9h-6.4zM832.6 732.9h6.4v9h-6.4zM885.5 732.9h6.4v9h-6.4zM973.7 732.9h6.4v9h-6.4zM1009 732.9h6.4v9h-6.4zM1026.7 732.9h6.4v9h-6.4zM1044.3 732.9h6.4v9h-6.4zM1062 732.9h6.4v9h-6.4zM1379.6 732.9h6.4v9h-6.4zM1432.5 732.9h6.4v9h-6.4zM1467.8 732.9h6.4v9h-6.4zM1485.4 732.9h6.4v9h-6.4zM1503.1 732.9h6.4v9h-6.4zM1573.7 732.9h6.4v9h-6.4zM1609 732.9h6.4v9h-6.4zM1714.8 732.9h6.4v9h-6.4zM1891.3 732.9h6.4v9h-6.4zM832.6 751.8h6.4v9h-6.4zM973.7 751.8h6.4v9h-6.4zM1009 751.8h6.4v9h-6.4zM1026.7 751.8h6.4v9h-6.4zM1485.4 751.8h6.4v9h-6.4zM1609 751.8h6.4v9h-6.4zM567.9 770.8h6.4v9h-6.4zM603.2 770.8h6.4v9h-6.4zM1114.9 770.8h6.4v9h-6.4zM1132.5 770.8h6.4v9h-6.4zM1344.3 770.8h6.4v9h-6.4zM1661.9 770.8h6.4v9h-6.4zM1679.5 770.8h6.4v9h-6.4zM1820.7 770.8h6.4v9h-6.4zM1838.3 770.8h6.4v9h-6.4zM885.5 789.8h6.4v9h-6.4zM956.1 789.8h6.4v9h-6.4zM1097.3 789.8h6.4v9h-6.4zM1114.9 789.8h6.4v9h-6.4zM1132.5 789.8h6.4v9h-6.4zM1150.2 789.8h6.4v9h-6.4zM1344.3 789.8h6.4v9h-6.4zM1432.5 789.8h6.4v9h-6.4zM1450.2 789.8h6.4v9h-6.4zM1467.8 789.8h6.4v9h-6.4zM1661.9 789.8h6.4v9h-6.4zM1697.2 789.8h6.4v9h-6.4zM1750.1 789.8h6.4v9h-6.4zM1767.8 789.8h6.4v9h-6.4zM1803.1 789.8h6.4v9h-6.4zM1873.6 789.8h6.4v9h-6.4zM885.5 808.7h6.4v9h-6.4zM956.1 808.7h6.4v9h-6.4zM1097.3 808.7h6.4v9h-6.4zM1132.5 808.7h6.4v9h-6.4zM1291.3 808.7h6.4v9h-6.4zM1309 808.7h6.4v9h-6.4zM1344.3 808.7h6.4v9h-6.4zM1450.2 808.7h6.4v9h-6.4zM1467.8 808.7h6.4v9h-6.4zM1503.1 808.7h6.4v9h-6.4zM1520.7 808.7h6.4v9h-6.4zM1609 808.7h6.4v9h-6.4zM1679.5 808.7h6.4v9h-6.4zM1767.8 808.7h6.4v9h-6.4zM1803.1 808.7h6.4v9h-6.4zM726.7 827.7h6.4v9h-6.4zM850.2 827.7h6.4v9h-6.4zM1114.9 827.7h6.4v9h-6.4zM1238.4 827.7h6.4v9h-6.4zM1326.6 827.7h6.4v9h-6.4zM1467.8 827.7h6.4v9h-6.4zM1520.7 827.7h6.4v9h-6.4zM1609 827.7h6.4v9h-6.4zM1626.6 827.7h6.4v9h-6.4zM1679.5 827.7h6.4v9h-6.4zM585.5 846.7h6.4v9h-6.4zM603.2 846.7h6.4v9h-6.4zM1097.3 846.7h6.4v9h-6.4zM1150.2 846.7h6.4v9h-6.4zM1238.4 846.7h6.4v9h-6.4zM1273.7 846.7h6.4v9h-6.4zM1326.6 846.7h6.4v9h-6.4zM1467.8 846.7h6.4v9h-6.4zM1520.7 846.7h6.4v9h-6.4zM1609 846.7h6.4v9h-6.4zM1679.5 846.7h6.4v9h-6.4zM867.9 865.6h6.4v9h-6.4zM920.8 865.6h6.4v9h-6.4zM1026.7 865.6h6.4v9h-6.4zM1097.3 865.6h6.4v9h-6.4zM1114.9 865.6h6.4v9h-6.4zM1238.4 865.6h6.4v9h-6.4zM1503.1 865.6h6.4v9h-6.4zM1679.5 865.6h6.4v9h-6.4zM1697.2 865.6h6.4v9h-6.4zM1714.8 865.6h6.4v9h-6.4zM1785.4 865.6h6.4v9h-6.4zM1803.1 865.6h6.4v9h-6.4zM1026.7 884.6h6.4v9h-6.4zM1044.3 884.6h6.4v9h-6.4zM1379.6 884.6h6.4v9h-6.4zM1679.5 884.6h6.4v9h-6.4zM1697.2 884.6h6.4v9h-6.4zM1785.4 884.6h6.4v9h-6.4zM709.1 903.5h6.4v9h-6.4zM1079.6 903.5h6.4v9h-6.4zM1273.7 903.5h6.4v9h-6.4zM1379.6 903.5h6.4v9h-6.4zM1679.5 903.5h6.4v9h-6.4zM1697.2 903.5h6.4v9h-6.4zM1714.8 903.5h6.4v9h-6.4zM1803.1 903.5h6.4v9h-6.4zM1185.5 922.5h6.4v9h-6.4zM1238.4 922.5h6.4v9h-6.4zM1361.9 922.5h6.4v9h-6.4zM1432.5 922.5h6.4v9h-6.4zM1450.2 922.5h6.4v9h-6.4zM1503.1 922.5h6.4v9h-6.4zM1714.8 922.5h6.4v9h-6.4zM1220.8 941.5h6.4v9h-6.4zM1291.3 941.5h6.4v9h-6.4zM1361.9 941.5h6.4v9h-6.4zM1626.6 941.5h6.4v9h-6.4zM1644.2 941.5h6.4v9h-6.4zM1679.5 941.5h6.4v9h-6.4zM1891.3 941.5h6.4v9h-6.4zM762 960.4h6.4v9h-6.4zM797.3 960.4h6.4v9h-6.4zM938.4 960.4h6.4v9h-6.4zM973.7 960.4h6.4v9h-6.4zM1026.7 960.4h6.4v9h-6.4zM1062 960.4h6.4v9h-6.4zM1097.3 960.4h6.4v9h-6.4zM1167.8 960.4h6.4v9h-6.4zM1238.4 960.4h6.4v9h-6.4zM1414.9 960.4h6.4v9h-6.4zM1697.2 960.4h6.4v9h-6.4zM1785.4 960.4h6.4v9h-6.4zM1803.1 960.4h6.4v9h-6.4zM1873.6 960.4h6.4v9h-6.4zM903.2 979.4h6.4v9h-6.4zM920.8 979.4h6.4v9h-6.4zM938.4 979.4h6.4v9h-6.4zM973.7 979.4h6.4v9h-6.4zM1167.8 979.4h6.4v9h-6.4zM1238.4 979.4h6.4v9h-6.4zM1326.6 979.4h6.4v9h-6.4zM1503.1 979.4h6.4v9h-6.4zM1697.2 979.4h6.4v9h-6.4zM1714.8 979.4h6.4v9h-6.4zM1785.4 979.4h6.4v9h-6.4zM832.6 998.3h6.4v9h-6.4zM903.2 998.3h6.4v9h-6.4zM920.8 998.3h6.4v9h-6.4zM938.4 998.3h6.4v9h-6.4zM1485.4 998.3h6.4v9h-6.4zM1609 998.3h6.4v9h-6.4zM1873.6 998.3h6.4v9h-6.4zM956.1 1017.3h6.4v9h-6.4zM991.4 1017.3h6.4v9h-6.4zM1220.8 1017.3h6.4v9h-6.4zM1273.7 1017.3h6.4v9h-6.4zM1326.6 1017.3h6.4v9h-6.4zM1432.5 1017.3h6.4v9h-6.4zM1485.4 1017.3h6.4v9h-6.4zM1573.7 1017.3h6.4v9h-6.4zM1609 1017.3h6.4v9h-6.4zM1785.4 1017.3h6.4v9h-6.4zM1891.3 1017.3h6.4v9h-6.4zM814.9 1036.3h6.4v9h-6.4zM885.5 1036.3h6.4v9h-6.4zM1132.5 1036.3h6.4v9h-6.4zM1361.9 1036.3h6.4v9h-6.4zM1503.1 1036.3h6.4v9h-6.4zM1609 1036.3h6.4v9h-6.4zM1661.9 1036.3h6.4v9h-6.4zM1750.1 1036.3h6.4v9h-6.4zM1873.6 1036.3h6.4v9h-6.4zM867.9 1055.2h6.4v9h-6.4zM903.2 1055.2h6.4v9h-6.4zM920.8 1055.2h6.4v9h-6.4zM938.4 1055.2h6.4v9h-6.4zM1062 1055.2h6.4v9h-6.4zM850.2 1074.2h6.4v9h-6.4zM867.9 1074.2h6.4v9h-6.4zM903.2 1074.2h6.4v9h-6.4zM1079.6 1074.2h6.4v9h-6.4zM1132.5 1074.2h6.4v9h-6.4zM1238.4 1074.2h6.4v9h-6.4zM1256.1 1074.2h6.4v9h-6.4zM1273.7 1074.2h6.4v9h-6.4zM1379.6 1074.2h6.4v9h-6.4zM1732.5 1074.2h6.4v9h-6.4zM1856 1074.2h6.4v9h-6.4zM903.2 1093.1h6.4v9h-6.4zM1044.3 1093.1h6.4v9h-6.4zM1079.6 1093.1h6.4v9h-6.4zM1097.3 1093.1h6.4v9h-6.4zM1238.4 1093.1h6.4v9h-6.4zM1273.7 1093.1h6.4v9h-6.4zM1379.6 1093.1h6.4v9h-6.4zM1220.8 1112.1h6.4v9h-6.4zM1697.2 1112.1h6.4v9h-6.4zM1732.5 1112.1h6.4v9h-6.4zM1856 1112.1h6.4v9h-6.4zM1873.6 1112.1h6.4v9h-6.4zM1220.8 1131.1h6.4v9h-6.4zM1697.2 1131.1h6.4v9h-6.4zM1714.8 1131.1h6.4v9h-6.4zM1732.5 1131.1h6.4v9h-6.4zM1750.1 1131.1h6.4v9h-6.4zM1767.8 1131.1h6.4v9h-6.4zM1873.6 1131.1h6.4v9h-6.4zM1220.8 1150h6.4v9h-6.4zM1503.1 1150h6.4v9h-6.4zM1538.4 1150h6.4v9h-6.4zM1556 1150h6.4v9h-6.4zM1750.1 1150h6.4v9h-6.4zM1767.8 1150h6.4v9h-6.4zM1785.4 1150h6.4v9h-6.4zM1009 1169h6.4v9h-6.4zM1026.7 1169h6.4v9h-6.4zM1062 1169h6.4v9h-6.4zM1220.8 1169h6.4v9h-6.4zM1291.3 1169h6.4v9h-6.4zM1344.3 1169h6.4v9h-6.4zM1379.6 1169h6.4v9h-6.4zM1697.2 1169h6.4v9h-6.4zM1732.5 1169h6.4v9h-6.4zM1750.1 1169h6.4v9h-6.4zM1767.8 1169h6.4v9h-6.4zM1009 1187.9h6.4v9h-6.4zM1114.9 1187.9h6.4v9h-6.4zM1432.5 1187.9h6.4v9h-6.4zM1450.2 1187.9h6.4v9h-6.4zM1485.4 1187.9h6.4v9h-6.4zM1503.1 1187.9h6.4v9h-6.4zM1556 1187.9h6.4v9h-6.4zM1732.5 1187.9h6.4v9h-6.4zM1750.1 1187.9h6.4v9h-6.4zM1767.8 1187.9h6.4v9h-6.4zM1838.3 1187.9h6.4v9h-6.4zM973.7 1206.9h6.4v9h-6.4zM1150.2 1206.9h6.4v9h-6.4zM1167.8 1206.9h6.4v9h-6.4zM1185.5 1206.9h6.4v9h-6.4zM1361.9 1206.9h6.4v9h-6.4zM1467.8 1206.9h6.4v9h-6.4zM1503.1 1206.9h6.4v9h-6.4zM1750.1 1206.9h6.4v9h-6.4zM1767.8 1206.9h6.4v9h-6.4zM938.4 1225.9h6.4v9h-6.4zM956.1 1225.9h6.4v9h-6.4zM973.7 1225.9h6.4v9h-6.4zM1132.5 1225.9h6.4v9h-6.4zM1256.1 1225.9h6.4v9h-6.4zM1732.5 1225.9h6.4v9h-6.4zM1891.3 1225.9h6.4v9h-6.4zM1150.2 1244.8h6.4v9h-6.4zM1626.6 1244.8h6.4v9h-6.4zM1644.2 1244.8h6.4v9h-6.4zM1661.9 1244.8h6.4v9h-6.4zM1150.2 1263.8h6.4v9h-6.4zM1414.9 1263.8h6.4v9h-6.4zM1644.2 1263.8h6.4v9h-6.4zM1661.9 1263.8h6.4v9h-6.4zM1344.3 1282.8h6.4v9h-6.4zM1397.2 1282.8h6.4v9h-6.4zM1203.1 1301.7h6.4v9h-6.4zM1220.8 1301.7h6.4v9h-6.4zM1291.3 1301.7h6.4v9h-6.4zM1361.9 1301.7h6.4v9h-6.4zM1432.5 1301.7h6.4v9h-6.4zM1520.7 1301.7h6.4v9h-6.4zM1556 1301.7h6.4v9h-6.4zM1591.3 1301.7h6.4v9h-6.4zM1609 1301.7h6.4v9h-6.4zM1009 1320.7h6.4v9h-6.4zM1044.3 1320.7h6.4v9h-6.4zM1062 1320.7h6.4v9h-6.4zM1114.9 1320.7h6.4v9h-6.4zM1167.8 1320.7h6.4v9h-6.4zM1185.5 1320.7h6.4v9h-6.4zM1344.3 1320.7h6.4v9h-6.4zM1503.1 1320.7h6.4v9h-6.4zM1538.4 1320.7h6.4v9h-6.4zM1556 1320.7h6.4v9h-6.4zM1591.3 1320.7h6.4v9h-6.4zM1750.1 1320.7h6.4v9h-6.4zM1767.8 1320.7h6.4v9h-6.4zM1820.7 1320.7h6.4v9h-6.4zM1838.3 1320.7h6.4v9h-6.4zM1150.2 1339.6h6.4v9h-6.4zM1291.3 1339.6h6.4v9h-6.4zM1432.5 1339.6h6.4v9h-6.4zM1573.7 1339.6h6.4v9h-6.4zM1609 1339.6h6.4v9h-6.4zM1309 1358.6h6.4v9h-6.4zM1414.9 1358.6h6.4v9h-6.4zM1503.1 1358.6h6.4v9h-6.4zM1538.4 1358.6h6.4v9h-6.4zM1556 1358.6h6.4v9h-6.4zM1097.3 1377.6h6.4v9h-6.4zM1114.9 1377.6h6.4v9h-6.4zM1309 1377.6h6.4v9h-6.4zM1344.3 1377.6h6.4v9h-6.4zM1432.5 1377.6h6.4v9h-6.4zM1503.1 1377.6h6.4v9h-6.4zM1538.4 1377.6h6.4v9h-6.4zM1556 1377.6h6.4v9h-6.4zM1661.9 1377.6h6.4v9h-6.4zM1750.1 1377.6h6.4v9h-6.4zM1767.8 1377.6h6.4v9h-6.4zM1820.7 1377.6h6.4v9h-6.4zM1838.3 1377.6h6.4v9h-6.4zM1097.3 1396.5h6.4v9h-6.4zM1114.9 1396.5h6.4v9h-6.4zM1344.3 1396.5h6.4v9h-6.4zM1397.2 1396.5h6.4v9h-6.4zM1432.5 1396.5h6.4v9h-6.4zM1538.4 1396.5h6.4v9h-6.4zM1661.9 1396.5h6.4v9h-6.4zM1891.3 1396.5h6.4v9h-6.4zM1344.3 1415.5h6.4v9h-6.4zM1397.2 1415.5h6.4v9h-6.4zM1556 1415.5h6.4v9h-6.4zM1891.3 1415.5h6.4v9h-6.4zM1167.8 1434.4h6.4v9h-6.4zM1326.6 1434.4h6.4v9h-6.4zM1344.3 1434.4h6.4v9h-6.4zM1397.2 1434.4h6.4v9h-6.4zM1661.9 1434.4h6.4v9h-6.4zM1785.4 1434.4h6.4v9h-6.4zM1873.6 1434.4h6.4v9h-6.4zM1220.8 1453.4h6.4v9h-6.4zM1291.3 1453.4h6.4v9h-6.4zM1379.6 1453.4h6.4v9h-6.4zM1432.5 1453.4h6.4v9h-6.4zM1679.5 1453.4h6.4v9h-6.4zM1203.1 1472.4h6.4v9h-6.4zM1238.4 1472.4h6.4v9h-6.4zM1291.3 1472.4h6.4v9h-6.4zM1379.6 1472.4h6.4v9h-6.4zM1467.8 1472.4h6.4v9h-6.4zM1573.7 1472.4h6.4v9h-6.4zM1609 1472.4h6.4v9h-6.4zM1732.5 1472.4h6.4v9h-6.4zM1803.1 1472.4h6.4v9h-6.4zM1856 1472.4h6.4v9h-6.4zM1697.2 1491.3h6.4v9h-6.4zM1803.1 1491.3h6.4v9h-6.4zM1291.3 1510.3h6.4v9h-6.4zM1344.3 1510.3h6.4v9h-6.4zM1379.6 1510.3h6.4v9h-6.4zM1450.2 1510.3h6.4v9h-6.4zM1609 1510.3h6.4v9h-6.4zM1626.6 1510.3h6.4v9h-6.4zM1697.2 1510.3h6.4v9h-6.4zM1767.8 1510.3h6.4v9h-6.4zM1820.7 1510.3h6.4v9h-6.4zM1838.3 1510.3h6.4v9h-6.4zM1185.5 1529.2h6.4v9h-6.4zM1256.1 1529.2h6.4v9h-6.4zM1379.6 1529.2h6.4v9h-6.4zM1556 1529.2h6.4v9h-6.4zM1697.2 1529.2h6.4v9h-6.4zM1397.2 1548.2h6.4v9h-6.4zM1414.9 1548.2h6.4v9h-6.4zM1432.5 1548.2h6.4v9h-6.4zM1591.3 1548.2h6.4v9h-6.4zM1714.8 1548.2h6.4v9h-6.4zM1803.1 1548.2h6.4v9h-6.4zM1467.8 1567.2h6.4v9h-6.4zM1485.4 1567.2h6.4v9h-6.4zM1891.3 1586.1h6.4v9h-6.4zM1309 1605.1h6.4v9h-6.4zM1414.9 1605.1h6.4v9h-6.4zM1626.6 1605.1h6.4v9h-6.4zM1397.2 1624.1h6.4v9h-6.4zM1414.9 1624.1h6.4v9h-6.4zM1538.4 1624.1h6.4v9h-6.4zM1803.1 1624.1h6.4v9h-6.4zM1309 1643h6.4v9h-6.4zM1803.1 1643h6.4v9h-6.4zM1309 1662h6.4v9h-6.4zM1520.7 1699.9h6.4v9h-6.4zM1732.5 1699.9h6.4v9h-6.4zM1856 1718.9h6.4v9h-6.4zM1538.4 1756.8h6.4v9h-6.4zM1732.5 1794.7h6.4v9h-6.4zM1856 1813.7h6.4v9h-6.4zM1520.7 1832.6h6.4v9h-6.4zM1785.4 1851.6h6.4v9h-6.4zM1679.5 1889.5h6.4v9h-6.4zM1732.5 1889.5h6.4v9h-6.4zM1803.1 1908.5h6.4v9h-6.4zM1820.7 1908.5h6.4v9h-6.4zM1891.3 1908.5h6.4v9h-6.4zM1679.5 1927.4h6.4v9h-6.4zM1803.1 1946.4h6.4v9h-6.4zM1820.7 1946.4h6.4v9h-6.4zM1785.4 1984.3h6.4v9h-6.4zM1803.1 1984.3h6.4v9h-6.4zM1679.5 2041.2h6.4v9h-6.4zM1856 2098.1h6.4v9h-6.4zM1856 2230.8h6.4v9h-6.4zM1856 2249.8h6.4v9h-6.4z"/>
<path fill="#FED5BF" d="M620 580.3h7.6v10.7h-7.6zM672.9 580.3h7.6v10.7h-7.6zM1078.8 580.3h7.6v10.7h-7.6zM1255.2 580.3h7.6v10.7h-7.6zM567.1 599.3h7.6v10.7h-7.6zM620 599.3h7.6v10.7h-7.6zM1078.8 599.3h7.6v10.7h-7.6zM1255.2 599.3h7.6v10.7h-7.6zM1643.4 599.3h7.6v10.7h-7.6zM1255.2 618.3h7.6v10.7h-7.6zM584.7 637.2h7.6v10.7h-7.6zM655.3 656.2h7.6v10.7h-7.6zM867 656.2h7.6v10.7h-7.6zM1378.7 656.2h7.6v10.7h-7.6zM1096.4 675.2h7.6v10.7h-7.6zM1114.1 675.2h7.6v10.7h-7.6zM1325.8 675.2h7.6v10.7h-7.6zM1678.7 675.2h7.6v10.7h-7.6zM902.3 694.1h7.6v10.7h-7.6zM920 694.1h7.6v10.7h-7.6zM937.6 694.1h7.6v10.7h-7.6zM972.9 694.1h7.6v10.7h-7.6zM1219.9 694.1h7.6v10.7h-7.6zM1237.6 694.1h7.6v10.7h-7.6zM831.7 713.1h7.6v10.7h-7.6zM902.3 713.1h7.6v10.7h-7.6zM920 713.1h7.6v10.7h-7.6zM1696.3 713.1h7.6v10.7h-7.6zM1219.9 732h7.6v10.7h-7.6zM1237.6 732h7.6v10.7h-7.6zM1325.8 732h7.6v10.7h-7.6zM1449.3 732h7.6v10.7h-7.6zM1784.6 732h7.6v10.7h-7.6zM990.5 751h7.6v10.7h-7.6zM1290.5 751h7.6v10.7h-7.6zM1343.4 751h7.6v10.7h-7.6zM1361.1 751h7.6v10.7h-7.6zM1502.2 751h7.6v10.7h-7.6zM1537.5 751h7.6v10.7h-7.6zM1661 751h7.6v10.7h-7.6zM1678.7 751h7.6v10.7h-7.6zM1714 751h7.6v10.7h-7.6zM1749.3 751h7.6v10.7h-7.6zM1766.9 751h7.6v10.7h-7.6zM1784.6 751h7.6v10.7h-7.6zM1819.9 751h7.6v10.7h-7.6zM1837.5 751h7.6v10.7h-7.6zM955.2 770h7.6v10.7h-7.6zM1096.4 770h7.6v10.7h-7.6zM1167 770h7.6v10.7h-7.6zM1290.5 770h7.6v10.7h-7.6zM1519.9 770h7.6v10.7h-7.6zM1608.1 770h7.6v10.7h-7.6zM1890.4 770h7.6v10.7h-7.6zM602.3 788.9h7.6v10.7h-7.6zM814.1 788.9h7.6v10.7h-7.6zM972.9 788.9h7.6v10.7h-7.6zM1167 788.9h7.6v10.7h-7.6zM1290.5 788.9h7.6v10.7h-7.6zM1519.9 788.9h7.6v10.7h-7.6zM1608.1 788.9h7.6v10.7h-7.6zM1678.7 788.9h7.6v10.7h-7.6zM1819.9 788.9h7.6v10.7h-7.6zM1837.5 788.9h7.6v10.7h-7.6zM814.1 807.9h7.6v10.7h-7.6zM972.9 807.9h7.6v10.7h-7.6zM1114.1 807.9h7.6v10.7h-7.6zM1149.3 807.9h7.6v10.7h-7.6zM1167 807.9h7.6v10.7h-7.6zM1537.5 807.9h7.6v10.7h-7.6zM1749.3 807.9h7.6v10.7h-7.6zM1837.5 807.9h7.6v10.7h-7.6zM567.1 826.8h7.6v10.7h-7.6zM584.7 826.8h7.6v10.7h-7.6zM620 826.8h7.6v10.7h-7.6zM814.1 826.8h7.6v10.7h-7.6zM1096.4 826.8h7.6v10.7h-7.6zM1131.7 826.8h7.6v10.7h-7.6zM1308.1 826.8h7.6v10.7h-7.6zM1572.8 826.8h7.6v10.7h-7.6zM567.1 845.8h7.6v10.7h-7.6zM620 845.8h7.6v10.7h-7.6zM725.9 845.8h7.6v10.7h-7.6zM1625.8 845.8h7.6v10.7h-7.6zM937.6 864.8h7.6v10.7h-7.6zM1061.1 864.8h7.6v10.7h-7.6zM1131.7 864.8h7.6v10.7h-7.6zM1184.6 864.8h7.6v10.7h-7.6zM1378.7 864.8h7.6v10.7h-7.6zM1890.4 864.8h7.6v10.7h-7.6zM902.3 883.7h7.6v10.7h-7.6zM920 883.7h7.6v10.7h-7.6zM1061.1 883.7h7.6v10.7h-7.6zM1219.9 883.7h7.6v10.7h-7.6zM1237.6 883.7h7.6v10.7h-7.6zM1802.2 883.7h7.6v10.7h-7.6zM867 902.7h7.6v10.7h-7.6zM902.3 902.7h7.6v10.7h-7.6zM937.6 902.7h7.6v10.7h-7.6zM990.5 902.7h7.6v10.7h-7.6zM1061.1 921.6h7.6v10.7h-7.6zM1219.9 921.6h7.6v10.7h-7.6zM1678.7 921.6h7.6v10.7h-7.6zM1167 940.6h7.6v10.7h-7.6zM1343.4 940.6h7.6v10.7h-7.6zM1378.7 940.6h7.6v10.7h-7.6zM1414 940.6h7.6v10.7h-7.6zM1467 940.6h7.6v10.7h-7.6zM1661 940.6h7.6v10.7h-7.6zM1696.3 940.6h7.6v10.7h-7.6zM1714 940.6h7.6v10.7h-7.6zM1837.5 940.6h7.6v10.7h-7.6zM778.8 959.6h7.6v10.7h-7.6zM990.5 959.6h7.6v10.7h-7.6zM1114.1 959.6h7.6v10.7h-7.6zM1325.8 959.6h7.6v10.7h-7.6zM1502.2 959.6h7.6v10.7h-7.6zM1678.7 959.6h7.6v10.7h-7.6zM867 997.5h7.6v10.7h-7.6zM884.7 997.5h7.6v10.7h-7.6zM831.7 1016.5h7.6v10.7h-7.6zM884.7 1016.5h7.6v10.7h-7.6zM972.9 1016.5h7.6v10.7h-7.6zM1449.3 1016.5h7.6v10.7h-7.6zM1467 1016.5h7.6v10.7h-7.6zM1714 1016.5h7.6v10.7h-7.6zM1872.8 1016.5h7.6v10.7h-7.6zM725.9 1035.4h7.6v10.7h-7.6zM955.2 1035.4h7.6v10.7h-7.6zM972.9 1035.4h7.6v10.7h-7.6zM1343.4 1035.4h7.6v10.7h-7.6zM1449.3 1035.4h7.6v10.7h-7.6zM1467 1035.4h7.6v10.7h-7.6zM1537.5 1035.4h7.6v10.7h-7.6zM1766.9 1035.4h7.6v10.7h-7.6zM1819.9 1035.4h7.6v10.7h-7.6zM1837.5 1035.4h7.6v10.7h-7.6zM1078.8 1054.4h7.6v10.7h-7.6zM1184.6 1054.4h7.6v10.7h-7.6zM1255.2 1054.4h7.6v10.7h-7.6zM1378.7 1054.4h7.6v10.7h-7.6zM920 1073.3h7.6v10.7h-7.6zM1025.8 1073.3h7.6v10.7h-7.6zM1043.5 1073.3h7.6v10.7h-7.6zM1096.4 1073.3h7.6v10.7h-7.6zM920 1092.3h7.6v10.7h-7.6zM1061.1 1092.3h7.6v10.7h-7.6zM1184.6 1111.3h7.6v10.7h-7.6zM1502.2 1111.3h7.6v10.7h-7.6zM1643.4 1111.3h7.6v10.7h-7.6zM867 1130.2h7.6v10.7h-7.6zM1255.2 1130.2h7.6v10.7h-7.6zM1502.2 1130.2h7.6v10.7h-7.6zM1855.1 1130.2h7.6v10.7h-7.6zM1255.2 1149.2h7.6v10.7h-7.6zM1272.9 1149.2h7.6v10.7h-7.6zM1361.1 1149.2h7.6v10.7h-7.6zM1590.5 1149.2h7.6v10.7h-7.6zM1855.1 1149.2h7.6v10.7h-7.6zM1043.5 1168.1h7.6v10.7h-7.6zM1643.4 1168.1h7.6v10.7h-7.6zM1855.1 1168.1h7.6v10.7h-7.6zM1872.8 1168.1h7.6v10.7h-7.6zM1255.2 1187.1h7.6v10.7h-7.6zM1290.5 1187.1h7.6v10.7h-7.6zM1361.1 1187.1h7.6v10.7h-7.6zM1396.4 1187.1h7.6v10.7h-7.6zM1537.5 1187.1h7.6v10.7h-7.6zM1590.5 1187.1h7.6v10.7h-7.6zM1625.8 1187.1h7.6v10.7h-7.6zM1661 1187.1h7.6v10.7h-7.6zM1784.6 1187.1h7.6v10.7h-7.6zM1819.9 1187.1h7.6v10.7h-7.6zM1343.4 1206.1h7.6v10.7h-7.6zM1484.6 1206.1h7.6v10.7h-7.6zM1537.5 1206.1h7.6v10.7h-7.6zM1078.8 1225h7.6v10.7h-7.6zM1096.4 1225h7.6v10.7h-7.6zM1167 1225h7.6v10.7h-7.6zM1202.3 1225h7.6v10.7h-7.6zM1625.8 1262.9h7.6v10.7h-7.6zM1167 1281.9h7.6v10.7h-7.6zM1555.2 1281.9h7.6v10.7h-7.6zM1590.5 1281.9h7.6v10.7h-7.6zM1625.8 1281.9h7.6v10.7h-7.6zM1008.2 1300.9h7.6v10.7h-7.6zM1025.8 1300.9h7.6v10.7h-7.6zM1043.5 1300.9h7.6v10.7h-7.6zM1061.1 1300.9h7.6v10.7h-7.6zM1114.1 1300.9h7.6v10.7h-7.6zM1167 1300.9h7.6v10.7h-7.6zM1255.2 1300.9h7.6v10.7h-7.6zM1484.6 1300.9h7.6v10.7h-7.6zM1572.8 1300.9h7.6v10.7h-7.6zM1714 1300.9h7.6v10.7h-7.6zM1149.3 1319.8h7.6v10.7h-7.6zM1661 1319.8h7.6v10.7h-7.6zM1731.6 1319.8h7.6v10.7h-7.6zM1078.8 1338.8h7.6v10.7h-7.6zM1308.1 1338.8h7.6v10.7h-7.6zM1396.4 1338.8h7.6v10.7h-7.6zM1519.9 1338.8h7.6v10.7h-7.6zM1537.5 1338.8h7.6v10.7h-7.6zM1555.2 1338.8h7.6v10.7h-7.6zM1625.8 1338.8h7.6v10.7h-7.6zM1766.9 1338.8h7.6v10.7h-7.6zM1819.9 1338.8h7.6v10.7h-7.6zM1837.5 1338.8h7.6v10.7h-7.6zM1096.4 1357.7h7.6v10.7h-7.6zM1114.1 1357.7h7.6v10.7h-7.6zM1431.7 1357.7h7.6v10.7h-7.6zM1590.5 1357.7h7.6v10.7h-7.6zM1414 1376.7h7.6v10.7h-7.6zM1590.5 1376.7h7.6v10.7h-7.6zM1308.1 1395.7h7.6v10.7h-7.6zM1414 1395.7h7.6v10.7h-7.6zM1590.5 1395.7h7.6v10.7h-7.6zM1237.6 1414.6h7.6v10.7h-7.6zM1308.1 1414.6h7.6v10.7h-7.6zM1414 1414.6h7.6v10.7h-7.6zM1431.7 1414.6h7.6v10.7h-7.6zM1537.5 1414.6h7.6v10.7h-7.6zM1590.5 1414.6h7.6v10.7h-7.6zM1661 1414.6h7.6v10.7h-7.6zM1202.3 1433.6h7.6v10.7h-7.6zM1625.8 1433.6h7.6v10.7h-7.6zM1202.3 1452.6h7.6v10.7h-7.6zM1484.6 1452.6h7.6v10.7h-7.6zM1572.8 1452.6h7.6v10.7h-7.6zM1696.3 1452.6h7.6v10.7h-7.6zM1449.3 1471.5h7.6v10.7h-7.6zM1872.8 1471.5h7.6v10.7h-7.6zM1290.5 1490.5h7.6v10.7h-7.6zM1449.3 1490.5h7.6v10.7h-7.6zM1872.8 1490.5h7.6v10.7h-7.6zM1502.2 1509.4h7.6v10.7h-7.6zM1661 1509.4h7.6v10.7h-7.6zM1784.6 1509.4h7.6v10.7h-7.6zM1872.8 1509.4h7.6v10.7h-7.6zM1449.3 1547.4h7.6v10.7h-7.6zM1643.4 1547.4h7.6v10.7h-7.6zM1678.7 1547.4h7.6v10.7h-7.6zM1837.5 1547.4h7.6v10.7h-7.6zM1872.8 1547.4h7.6v10.7h-7.6zM1237.6 1566.3h7.6v10.7h-7.6zM1414 1566.3h7.6v10.7h-7.6zM1749.3 1604.2h7.6v10.7h-7.6zM1766.9 1604.2h7.6v10.7h-7.6zM1819.9 1604.2h7.6v10.7h-7.6zM1837.5 1604.2h7.6v10.7h-7.6zM1519.9 1623.2h7.6v10.7h-7.6zM1714 1623.2h7.6v10.7h-7.6zM1325.8 1642.2h7.6v10.7h-7.6zM1396.4 1642.2h7.6v10.7h-7.6zM1431.7 1642.2h7.6v10.7h-7.6zM1467 1642.2h7.6v10.7h-7.6zM1484.6 1642.2h7.6v10.7h-7.6zM1502.2 1642.2h7.6v10.7h-7.6zM1361.1 1680.1h7.6v10.7h-7.6zM1855.1 1699h7.6v10.7h-7.6zM1519.9 1850.7h7.6v10.7h-7.6zM1784.6 1945.5h7.6v10.7h-7.6zM1890.4 1945.5h7.6v10.7h-7.6zM1784.6 2040.3h7.6v10.7h-7.6z"/>
<path fill="#CDE0ED" d="M1096.4 580.3h7.6v10.7h-7.6zM1114.1 580.3h7.6v10.7h-7.6zM1131.7 580.3h7.6v10.7h-7.6zM1572.8 580.3h7.6v10.7h-7.6zM1678.7 580.3h7.6v10.7h-7.6zM743.5 599.3h7.6v10.7h-7.6zM1167 599.3h7.6v10.7h-7.6zM1396.4 599.3h7.6v10.7h-7.6zM1572.8 599.3h7.6v10.7h-7.6zM972.9 618.3h7.6v10.7h-7.6zM1237.6 618.3h7.6v10.7h-7.6zM1325.8 618.3h7.6v10.7h-7.6zM1572.8 618.3h7.6v10.7h-7.6zM1802.2 618.3h7.6v10.7h-7.6zM1890.4 618.3h7.6v10.7h-7.6zM743.5 637.2h7.6v10.7h-7.6zM814.1 637.2h7.6v10.7h-7.6zM1325.8 637.2h7.6v10.7h-7.6zM1396.4 637.2h7.6v10.7h-7.6zM1572.8 637.2h7.6v10.7h-7.6zM1696.3 637.2h7.6v10.7h-7.6zM1802.2 637.2h7.6v10.7h-7.6zM725.9 656.2h7.6v10.7h-7.6zM1325.8 656.2h7.6v10.7h-7.6zM1625.8 656.2h7.6v10.7h-7.6zM1678.7 656.2h7.6v10.7h-7.6zM584.7 675.2h7.6v10.7h-7.6zM602.3 675.2h7.6v10.7h-7.6zM461.2 694.1h7.6v10.7h-7.6zM761.2 694.1h7.6v10.7h-7.6zM1308.1 694.1h7.6v10.7h-7.6zM1643.4 694.1h7.6v10.7h-7.6zM478.8 713.1h7.6v10.7h-7.6zM743.5 713.1h7.6v10.7h-7.6zM1149.3 713.1h7.6v10.7h-7.6zM1202.3 713.1h7.6v10.7h-7.6zM1255.2 713.1h7.6v10.7h-7.6zM1343.4 713.1h7.6v10.7h-7.6zM478.8 732h7.6v10.7h-7.6zM725.9 732h7.6v10.7h-7.6zM514.1 751h7.6v10.7h-7.6zM567.1 751h7.6v10.7h-7.6zM1255.2 751h7.6v10.7h-7.6zM867 770h7.6v10.7h-7.6zM1255.2 788.9h7.6v10.7h-7.6zM690.6 807.9h7.6v10.7h-7.6zM690.6 826.8h7.6v10.7h-7.6zM1008.2 826.8h7.6v10.7h-7.6zM1025.8 826.8h7.6v10.7h-7.6zM1061.1 826.8h7.6v10.7h-7.6zM1378.7 826.8h7.6v10.7h-7.6zM1484.6 826.8h7.6v10.7h-7.6zM1784.6 826.8h7.6v10.7h-7.6zM637.6 845.8h7.6v10.7h-7.6zM672.9 845.8h7.6v10.7h-7.6zM1043.5 845.8h7.6v10.7h-7.6zM1061.1 845.8h7.6v10.7h-7.6zM1378.7 845.8h7.6v10.7h-7.6zM1643.4 845.8h7.6v10.7h-7.6zM602.3 864.8h7.6v10.7h-7.6zM796.4 864.8h7.6v10.7h-7.6zM1290.5 864.8h7.6v10.7h-7.6zM1519.9 864.8h7.6v10.7h-7.6zM1555.2 864.8h7.6v10.7h-7.6zM1625.8 864.8h7.6v10.7h-7.6zM884.7 883.7h7.6v10.7h-7.6zM1308.1 883.7h7.6v10.7h-7.6zM1537.5 883.7h7.6v10.7h-7.6zM1590.5 883.7h7.6v10.7h-7.6zM1643.4 883.7h7.6v10.7h-7.6zM1749.3 883.7h7.6v10.7h-7.6zM1766.9 883.7h7.6v10.7h-7.6zM1819.9 883.7h7.6v10.7h-7.6zM1290.5 902.7h7.6v10.7h-7.6zM1308.1 902.7h7.6v10.7h-7.6zM1749.3 902.7h7.6v10.7h-7.6zM1766.9 902.7h7.6v10.7h-7.6zM1819.9 902.7h7.6v10.7h-7.6zM1837.5 902.7h7.6v10.7h-7.6zM1078.8 921.6h7.6v10.7h-7.6zM1096.4 921.6h7.6v10.7h-7.6zM1519.9 921.6h7.6v10.7h-7.6zM725.9 940.6h7.6v10.7h-7.6zM761.2 940.6h7.6v10.7h-7.6zM831.7 940.6h7.6v10.7h-7.6zM1078.8 940.6h7.6v10.7h-7.6zM1308.1 940.6h7.6v10.7h-7.6zM1078.8 959.6h7.6v10.7h-7.6zM1643.4 978.5h7.6v10.7h-7.6zM1731.6 978.5h7.6v10.7h-7.6zM1202.3 997.5h7.6v10.7h-7.6zM1078.8 1016.5h7.6v10.7h-7.6zM1096.4 1016.5h7.6v10.7h-7.6zM1255.2 1016.5h7.6v10.7h-7.6zM849.4 1035.4h7.6v10.7h-7.6zM867 1035.4h7.6v10.7h-7.6zM1731.6 1035.4h7.6v10.7h-7.6zM1202.3 1054.4h7.6v10.7h-7.6zM1396.4 1054.4h7.6v10.7h-7.6zM1519.9 1054.4h7.6v10.7h-7.6zM1555.2 1054.4h7.6v10.7h-7.6zM1572.8 1054.4h7.6v10.7h-7.6zM1167 1073.3h7.6v10.7h-7.6zM1290.5 1073.3h7.6v10.7h-7.6zM1325.8 1073.3h7.6v10.7h-7.6zM1467 1073.3h7.6v10.7h-7.6zM1537.5 1073.3h7.6v10.7h-7.6zM1608.1 1073.3h7.6v10.7h-7.6zM1802.2 1073.3h7.6v10.7h-7.6zM1149.3 1092.3h7.6v10.7h-7.6zM1290.5 1092.3h7.6v10.7h-7.6zM1343.4 1092.3h7.6v10.7h-7.6zM1449.3 1092.3h7.6v10.7h-7.6zM1537.5 1092.3h7.6v10.7h-7.6zM1608.1 1092.3h7.6v10.7h-7.6zM1749.3 1092.3h7.6v10.7h-7.6zM1766.9 1092.3h7.6v10.7h-7.6zM1837.5 1092.3h7.6v10.7h-7.6zM1872.8 1092.3h7.6v10.7h-7.6zM955.2 1111.3h7.6v10.7h-7.6zM1396.4 1111.3h7.6v10.7h-7.6zM1414 1111.3h7.6v10.7h-7.6zM1519.9 1111.3h7.6v10.7h-7.6zM814.1 1130.2h7.6v10.7h-7.6zM1308.1 1130.2h7.6v10.7h-7.6zM1096.4 1168.1h7.6v10.7h-7.6zM1467 1168.1h7.6v10.7h-7.6zM1537.5 1168.1h7.6v10.7h-7.6zM902.3 1187.1h7.6v10.7h-7.6zM920 1187.1h7.6v10.7h-7.6zM972.9 1187.1h7.6v10.7h-7.6zM1078.8 1187.1h7.6v10.7h-7.6zM1219.9 1187.1h7.6v10.7h-7.6zM1219.9 1206.1h7.6v10.7h-7.6zM1272.9 1206.1h7.6v10.7h-7.6zM1519.9 1206.1h7.6v10.7h-7.6zM1696.3 1206.1h7.6v10.7h-7.6zM1219.9 1225h7.6v10.7h-7.6zM1325.8 1225h7.6v10.7h-7.6zM1378.7 1225h7.6v10.7h-7.6zM1431.7 1225h7.6v10.7h-7.6zM1484.6 1225h7.6v10.7h-7.6zM1572.8 1225h7.6v10.7h-7.6zM1590.5 1225h7.6v10.7h-7.6zM1608.1 1225h7.6v10.7h-7.6zM1625.8 1225h7.6v10.7h-7.6zM1678.7 1225h7.6v10.7h-7.6zM1714 1225h7.6v10.7h-7.6zM1749.3 1225h7.6v10.7h-7.6zM1766.9 1225h7.6v10.7h-7.6zM1237.6 1244h7.6v10.7h-7.6zM1378.7 1244h7.6v10.7h-7.6zM1431.7 1244h7.6v10.7h-7.6zM1572.8 1244h7.6v10.7h-7.6zM1608.1 1244h7.6v10.7h-7.6zM1784.6 1244h7.6v10.7h-7.6zM1802.2 1244h7.6v10.7h-7.6zM1237.6 1262.9h7.6v10.7h-7.6zM1431.7 1262.9h7.6v10.7h-7.6zM1608.1 1262.9h7.6v10.7h-7.6zM1696.3 1262.9h7.6v10.7h-7.6zM1802.2 1262.9h7.6v10.7h-7.6zM990.5 1281.9h7.6v10.7h-7.6zM1131.7 1281.9h7.6v10.7h-7.6zM1378.7 1281.9h7.6v10.7h-7.6zM1784.6 1281.9h7.6v10.7h-7.6zM1872.8 1281.9h7.6v10.7h-7.6zM1237.6 1300.9h7.6v10.7h-7.6zM1519.9 1319.8h7.6v10.7h-7.6zM1202.3 1338.8h7.6v10.7h-7.6zM1696.3 1338.8h7.6v10.7h-7.6zM1872.8 1338.8h7.6v10.7h-7.6zM1167 1357.7h7.6v10.7h-7.6zM1696.3 1357.7h7.6v10.7h-7.6zM1784.6 1357.7h7.6v10.7h-7.6zM1167 1376.7h7.6v10.7h-7.6zM1202.3 1376.7h7.6v10.7h-7.6zM1784.6 1376.7h7.6v10.7h-7.6zM1167 1395.7h7.6v10.7h-7.6zM1202.3 1395.7h7.6v10.7h-7.6zM1378.7 1395.7h7.6v10.7h-7.6zM1784.6 1395.7h7.6v10.7h-7.6zM1167 1414.6h7.6v10.7h-7.6zM1202.3 1414.6h7.6v10.7h-7.6zM1784.6 1414.6h7.6v10.7h-7.6zM1872.8 1414.6h7.6v10.7h-7.6zM1608.1 1433.6h7.6v10.7h-7.6zM1149.3 1452.6h7.6v10.7h-7.6zM1537.5 1452.6h7.6v10.7h-7.6zM1502.2 1471.5h7.6v10.7h-7.6zM1749.3 1471.5h7.6v10.7h-7.6zM1766.9 1471.5h7.6v10.7h-7.6zM1819.9 1471.5h7.6v10.7h-7.6zM1837.5 1471.5h7.6v10.7h-7.6zM1361.1 1490.5h7.6v10.7h-7.6zM1519.9 1490.5h7.6v10.7h-7.6zM1396.4 1528.4h7.6v10.7h-7.6zM1414 1528.4h7.6v10.7h-7.6zM1749.3 1528.4h7.6v10.7h-7.6zM1766.9 1528.4h7.6v10.7h-7.6zM1802.2 1528.4h7.6v10.7h-7.6zM1237.6 1585.3h7.6v10.7h-7.6zM1290.5 1585.3h7.6v10.7h-7.6zM1308.1 1585.3h7.6v10.7h-7.6zM1519.9 1585.3h7.6v10.7h-7.6zM1555.2 1585.3h7.6v10.7h-7.6zM1590.5 1585.3h7.6v10.7h-7.6zM1749.3 1585.3h7.6v10.7h-7.6zM1766.9 1585.3h7.6v10.7h-7.6zM1714 1604.2h7.6v10.7h-7.6zM1643.4 1623.2h7.6v10.7h-7.6zM1361.1 1642.2h7.6v10.7h-7.6zM1590.5 1642.2h7.6v10.7h-7.6zM1855.1 1642.2h7.6v10.7h-7.6zM1361.1 1661.1h7.6v10.7h-7.6zM1396.4 1661.1h7.6v10.7h-7.6zM1449.3 1661.1h7.6v10.7h-7.6zM1625.8 1661.1h7.6v10.7h-7.6zM1643.4 1661.1h7.6v10.7h-7.6zM1678.7 1661.1h7.6v10.7h-7.6zM1696.3 1661.1h7.6v10.7h-7.6zM1890.4 1661.1h7.6v10.7h-7.6zM1519.9 1680.1h7.6v10.7h-7.6zM1572.8 1680.1h7.6v10.7h-7.6zM1661 1680.1h7.6v10.7h-7.6zM1749.3 1680.1h7.6v10.7h-7.6zM1766.9 1680.1h7.6v10.7h-7.6zM1625.8 1699h7.6v10.7h-7.6zM1802.2 1699h7.6v10.7h-7.6zM1449.3 1718h7.6v10.7h-7.6zM1555.2 1718h7.6v10.7h-7.6zM1608.1 1718h7.6v10.7h-7.6zM1784.6 1718h7.6v10.7h-7.6zM1414 1737h7.6v10.7h-7.6zM1555.2 1737h7.6v10.7h-7.6zM1590.5 1737h7.6v10.7h-7.6zM1590.5 1755.9h7.6v10.7h-7.6zM1696.3 1755.9h7.6v10.7h-7.6zM1714 1755.9h7.6v10.7h-7.6zM1749.3 1755.9h7.6v10.7h-7.6zM1766.9 1755.9h7.6v10.7h-7.6zM1819.9 1755.9h7.6v10.7h-7.6zM1837.5 1755.9h7.6v10.7h-7.6zM1537.5 1774.9h7.6v10.7h-7.6zM1572.8 1774.9h7.6v10.7h-7.6zM1661 1774.9h7.6v10.7h-7.6zM1802.2 1774.9h7.6v10.7h-7.6zM1819.9 1774.9h7.6v10.7h-7.6zM1837.5 1774.9h7.6v10.7h-7.6zM1449.3 1793.9h7.6v10.7h-7.6zM1467 1793.9h7.6v10.7h-7.6zM1590.5 1793.9h7.6v10.7h-7.6zM1625.8 1793.9h7.6v10.7h-7.6zM1661 1793.9h7.6v10.7h-7.6zM1802.2 1793.9h7.6v10.7h-7.6zM1696.3 1812.8h7.6v10.7h-7.6zM1731.6 1812.8h7.6v10.7h-7.6zM1784.6 1812.8h7.6v10.7h-7.6zM1890.4 1812.8h7.6v10.7h-7.6zM1537.5 1831.8h7.6v10.7h-7.6zM1643.4 1831.8h7.6v10.7h-7.6zM1731.6 1831.8h7.6v10.7h-7.6zM1661 1850.7h7.6v10.7h-7.6zM1749.3 1850.7h7.6v10.7h-7.6zM1766.9 1850.7h7.6v10.7h-7.6zM1855.1 1850.7h7.6v10.7h-7.6zM1872.8 1850.7h7.6v10.7h-7.6zM1572.8 1869.7h7.6v10.7h-7.6zM1608.1 1869.7h7.6v10.7h-7.6zM1625.8 1869.7h7.6v10.7h-7.6zM1643.4 1869.7h7.6v10.7h-7.6zM1749.3 1869.7h7.6v10.7h-7.6zM1766.9 1869.7h7.6v10.7h-7.6zM1872.8 1869.7h7.6v10.7h-7.6zM1608.1 1888.7h7.6v10.7h-7.6zM1661 1888.7h7.6v10.7h-7.6zM1714 1888.7h7.6v10.7h-7.6zM1590.5 1907.6h7.6v10.7h-7.6zM1625.8 1907.6h7.6v10.7h-7.6zM1661 1907.6h7.6v10.7h-7.6zM1714 1926.6h7.6v10.7h-7.6zM1731.6 1964.5h7.6v10.7h-7.6zM1855.1 1964.5h7.6v10.7h-7.6zM1855.1 1983.5h7.6v10.7h-7.6zM1749.3 2002.4h7.6v10.7h-7.6zM1766.9 2002.4h7.6v10.7h-7.6zM1819.9 2002.4h7.6v10.7h-7.6zM1837.5 2002.4h7.6v10.7h-7.6zM1731.6 2021.4h7.6v10.7h-7.6zM1872.8 2021.4h7.6v10.7h-7.6zM1714 2059.3h7.6v10.7h-7.6zM1749.3 2059.3h7.6v10.7h-7.6zM1766.9 2059.3h7.6v10.7h-7.6zM1819.9 2059.3h7.6v10.7h-7.6zM1802.2 2154.1h7.6v10.7h-7.6zM1802.2 2173.1h7.6v10.7h-7.6zM1890.4 2192h7.6v10.7h-7.6zM1872.8 2230h7.6v10.7h-7.6zM1872.8 2248.9h7.6v10.7h-7.6z"/>
<path fill="#FCC2A6" d="M548.8 579.7h8.5v11.9h-8.5zM1254.6 636.6h8.5v11.9h-8.5zM672.3 655.6h8.5v11.9h-8.5zM1078.1 655.6h8.5v11.9h-8.5zM1254.6 655.6h8.5v11.9h-8.5zM989.9 674.5h8.5v11.9h-8.5zM1131.1 674.5h8.5v11.9h-8.5zM1889.8 674.5h8.5v11.9h-8.5zM866.4 693.5h8.5v11.9h-8.5zM989.9 693.5h8.5v11.9h-8.5zM1678.1 693.5h8.5v11.9h-8.5zM1219.3 712.4h8.5v11.9h-8.5zM1678.1 712.4h8.5v11.9h-8.5zM1801.6 712.4h8.5v11.9h-8.5zM989.9 731.4h8.5v11.9h-8.5zM1166.4 750.4h8.5v11.9h-8.5zM1395.7 750.4h8.5v11.9h-8.5zM1431 750.4h8.5v11.9h-8.5zM1448.7 750.4h8.5v11.9h-8.5zM1466.3 750.4h8.5v11.9h-8.5zM1572.2 750.4h8.5v11.9h-8.5zM1625.1 750.4h8.5v11.9h-8.5zM1695.7 750.4h8.5v11.9h-8.5zM1801.6 750.4h8.5v11.9h-8.5zM1889.8 750.4h8.5v11.9h-8.5zM584.1 769.3h8.5v11.9h-8.5zM813.5 769.3h8.5v11.9h-8.5zM972.3 769.3h8.5v11.9h-8.5zM1325.2 769.3h8.5v11.9h-8.5zM1536.9 769.3h8.5v11.9h-8.5zM1572.2 769.3h8.5v11.9h-8.5zM1625.1 769.3h8.5v11.9h-8.5zM566.4 788.3h8.5v11.9h-8.5zM584.1 788.3h8.5v11.9h-8.5zM725.2 788.3h8.5v11.9h-8.5zM1325.2 788.3h8.5v11.9h-8.5zM1536.9 788.3h8.5v11.9h-8.5zM1625.1 788.3h8.5v11.9h-8.5zM725.2 807.3h8.5v11.9h-8.5zM831.1 807.3h8.5v11.9h-8.5zM1325.2 807.3h8.5v11.9h-8.5zM1572.2 807.3h8.5v11.9h-8.5zM1625.1 807.3h8.5v11.9h-8.5zM1819.2 807.3h8.5v11.9h-8.5zM1889.8 807.3h8.5v11.9h-8.5zM1148.7 826.2h8.5v11.9h-8.5zM1395.7 826.2h8.5v11.9h-8.5zM1413.4 826.2h8.5v11.9h-8.5zM1536.9 826.2h8.5v11.9h-8.5zM1889.8 826.2h8.5v11.9h-8.5zM1413.4 845.2h8.5v11.9h-8.5zM1536.9 845.2h8.5v11.9h-8.5zM1572.2 845.2h8.5v11.9h-8.5zM1889.8 845.2h8.5v11.9h-8.5zM937 883.1h8.5v11.9h-8.5zM1184 883.1h8.5v11.9h-8.5zM919.3 902.1h8.5v11.9h-8.5zM1184 902.1h8.5v11.9h-8.5zM1219.3 902.1h8.5v11.9h-8.5zM1007.6 921h8.5v11.9h-8.5zM1025.2 921h8.5v11.9h-8.5zM1042.8 921h8.5v11.9h-8.5zM1378.1 921h8.5v11.9h-8.5zM1484 921h8.5v11.9h-8.5zM1695.7 921h8.5v11.9h-8.5zM1783.9 921h8.5v11.9h-8.5zM1801.6 921h8.5v11.9h-8.5zM1872.2 921h8.5v11.9h-8.5zM1007.6 940h8.5v11.9h-8.5zM1025.2 940h8.5v11.9h-8.5zM1431 940h8.5v11.9h-8.5zM1448.7 940h8.5v11.9h-8.5zM1484 940h8.5v11.9h-8.5zM1748.6 940h8.5v11.9h-8.5zM1801.6 940h8.5v11.9h-8.5zM1819.2 940h8.5v11.9h-8.5zM1872.2 940h8.5v11.9h-8.5zM1131.1 958.9h8.5v11.9h-8.5zM1889.8 958.9h8.5v11.9h-8.5zM866.4 977.9h8.5v11.9h-8.5zM1219.3 977.9h8.5v11.9h-8.5zM1695.7 996.9h8.5v11.9h-8.5zM1713.4 996.9h8.5v11.9h-8.5zM1236.9 1015.8h8.5v11.9h-8.5zM1695.7 1015.8h8.5v11.9h-8.5zM831.1 1034.8h8.5v11.9h-8.5zM1166.4 1034.8h8.5v11.9h-8.5zM1431 1034.8h8.5v11.9h-8.5zM1572.2 1034.8h8.5v11.9h-8.5zM1678.1 1034.8h8.5v11.9h-8.5zM989.9 1053.7h8.5v11.9h-8.5zM937 1072.7h8.5v11.9h-8.5zM1060.5 1072.7h8.5v11.9h-8.5zM937 1091.7h8.5v11.9h-8.5zM989.9 1110.6h8.5v11.9h-8.5zM1254.6 1110.6h8.5v11.9h-8.5zM1378.1 1110.6h8.5v11.9h-8.5zM1484 1110.6h8.5v11.9h-8.5zM1783.9 1110.6h8.5v11.9h-8.5zM1007.6 1129.6h8.5v11.9h-8.5zM1025.2 1129.6h8.5v11.9h-8.5zM1378.1 1129.6h8.5v11.9h-8.5zM1484 1129.6h8.5v11.9h-8.5zM1642.8 1129.6h8.5v11.9h-8.5zM1783.9 1129.6h8.5v11.9h-8.5zM1642.8 1148.6h8.5v11.9h-8.5zM1783.9 1167.5h8.5v11.9h-8.5zM1342.8 1186.5h8.5v11.9h-8.5zM1413.4 1186.5h8.5v11.9h-8.5zM1642.8 1186.5h8.5v11.9h-8.5zM1872.2 1186.5h8.5v11.9h-8.5zM1889.8 1186.5h8.5v11.9h-8.5zM1819.2 1205.4h8.5v11.9h-8.5zM1836.9 1205.4h8.5v11.9h-8.5zM1889.8 1205.4h8.5v11.9h-8.5zM1148.7 1281.3h8.5v11.9h-8.5zM1536.9 1281.3h8.5v11.9h-8.5zM1660.4 1281.3h8.5v11.9h-8.5zM1378.1 1300.2h8.5v11.9h-8.5zM1642.8 1300.2h8.5v11.9h-8.5zM1660.4 1300.2h8.5v11.9h-8.5zM1731 1300.2h8.5v11.9h-8.5zM1783.9 1300.2h8.5v11.9h-8.5zM1854.5 1300.2h8.5v11.9h-8.5zM1254.6 1319.2h8.5v11.9h-8.5zM1642.8 1319.2h8.5v11.9h-8.5zM1854.5 1319.2h8.5v11.9h-8.5zM1413.4 1338.2h8.5v11.9h-8.5zM1589.8 1338.2h8.5v11.9h-8.5zM1660.4 1338.2h8.5v11.9h-8.5zM1748.6 1338.2h8.5v11.9h-8.5zM1236.9 1357.1h8.5v11.9h-8.5zM1236.9 1376.1h8.5v11.9h-8.5zM1236.9 1395h8.5v11.9h-8.5zM1078.1 1414h8.5v11.9h-8.5zM1448.7 1451.9h8.5v11.9h-8.5zM1872.2 1451.9h8.5v11.9h-8.5zM1219.3 1508.8h8.5v11.9h-8.5zM1484 1508.8h8.5v11.9h-8.5zM1713.4 1508.8h8.5v11.9h-8.5zM1272.2 1527.8h8.5v11.9h-8.5zM1289.9 1546.7h8.5v11.9h-8.5zM1484 1546.7h8.5v11.9h-8.5zM1572.2 1546.7h8.5v11.9h-8.5zM1625.1 1546.7h8.5v11.9h-8.5zM1819.2 1546.7h8.5v11.9h-8.5zM1854.5 1546.7h8.5v11.9h-8.5zM1572.2 1622.6h8.5v11.9h-8.5zM1625.1 1622.6h8.5v11.9h-8.5zM1342.8 1641.5h8.5v11.9h-8.5zM1448.7 1641.5h8.5v11.9h-8.5zM1783.9 1641.5h8.5v11.9h-8.5zM1872.2 1641.5h8.5v11.9h-8.5zM1801.6 2039.7h8.5v11.9h-8.5zM1801.6 2134.5h8.5v11.9h-8.5zM1854.5 2191.4h8.5v11.9h-8.5z"/>
<path fill="#B5D2E5" d="M742.9 579.7h8.5v11.9h-8.5zM831.1 579.7h8.5v11.9h-8.5zM972.3 579.7h8.5v11.9h-8.5zM1325.2 579.7h8.5v11.9h-8.5zM1889.8 579.7h8.5v11.9h-8.5zM760.5 598.7h8.5v11.9h-8.5zM831.1 598.7h8.5v11.9h-8.5zM972.3 598.7h8.5v11.9h-8.5zM1325.2 598.7h8.5v11.9h-8.5zM1413.4 598.7h8.5v11.9h-8.5zM1678.1 598.7h8.5v11.9h-8.5zM1801.6 598.7h8.5v11.9h-8.5zM1889.8 598.7h8.5v11.9h-8.5zM742.9 617.6h8.5v11.9h-8.5zM831.1 617.6h8.5v11.9h-8.5zM1413.4 617.6h8.5v11.9h-8.5zM1678.1 617.6h8.5v11.9h-8.5zM760.5 636.6h8.5v11.9h-8.5zM778.2 636.6h8.5v11.9h-8.5zM954.6 636.6h8.5v11.9h-8.5zM1236.9 636.6h8.5v11.9h-8.5zM1413.4 636.6h8.5v11.9h-8.5zM1678.1 636.6h8.5v11.9h-8.5zM1889.8 636.6h8.5v11.9h-8.5zM742.9 655.6h8.5v11.9h-8.5zM813.5 655.6h8.5v11.9h-8.5zM954.6 655.6h8.5v11.9h-8.5zM1572.2 655.6h8.5v11.9h-8.5zM531.1 674.5h8.5v11.9h-8.5zM619.4 674.5h8.5v11.9h-8.5zM672.3 674.5h8.5v11.9h-8.5zM725.2 693.5h8.5v11.9h-8.5zM742.9 693.5h8.5v11.9h-8.5zM1148.7 693.5h8.5v11.9h-8.5zM1342.8 693.5h8.5v11.9h-8.5zM513.5 712.4h8.5v11.9h-8.5zM531.1 712.4h8.5v11.9h-8.5zM619.4 712.4h8.5v11.9h-8.5zM637 712.4h8.5v11.9h-8.5zM707.6 712.4h8.5v11.9h-8.5zM460.6 731.4h8.5v11.9h-8.5zM531.1 731.4h8.5v11.9h-8.5zM637 731.4h8.5v11.9h-8.5zM778.2 731.4h8.5v11.9h-8.5zM1078.1 731.4h8.5v11.9h-8.5zM1307.5 731.4h8.5v11.9h-8.5zM548.8 750.4h8.5v11.9h-8.5zM672.3 750.4h8.5v11.9h-8.5zM848.7 750.4h8.5v11.9h-8.5zM1078.1 769.3h8.5v11.9h-8.5zM1254.6 769.3h8.5v11.9h-8.5zM689.9 788.3h8.5v11.9h-8.5zM1184 788.3h8.5v11.9h-8.5zM1184 807.3h8.5v11.9h-8.5zM1042.8 826.2h8.5v11.9h-8.5zM1254.6 826.2h8.5v11.9h-8.5zM866.4 845.2h8.5v11.9h-8.5zM1254.6 845.2h8.5v11.9h-8.5zM619.4 864.1h8.5v11.9h-8.5zM672.3 864.1h8.5v11.9h-8.5zM689.9 864.1h8.5v11.9h-8.5zM742.9 864.1h8.5v11.9h-8.5zM760.5 864.1h8.5v11.9h-8.5zM637 883.1h8.5v11.9h-8.5zM1572.2 883.1h8.5v11.9h-8.5zM1625.1 883.1h8.5v11.9h-8.5zM1836.9 883.1h8.5v11.9h-8.5zM619.4 902.1h8.5v11.9h-8.5zM1148.7 902.1h8.5v11.9h-8.5zM1342.8 902.1h8.5v11.9h-8.5zM1625.1 902.1h8.5v11.9h-8.5zM725.2 921h8.5v11.9h-8.5zM637 940h8.5v11.9h-8.5zM707.6 940h8.5v11.9h-8.5zM689.9 958.9h8.5v11.9h-8.5zM1254.6 1034.8h8.5v11.9h-8.5zM1289.9 1053.7h8.5v11.9h-8.5zM1413.4 1053.7h8.5v11.9h-8.5zM1625.1 1053.7h8.5v11.9h-8.5zM884 1072.7h8.5v11.9h-8.5zM1307.5 1072.7h8.5v11.9h-8.5zM1431 1072.7h8.5v11.9h-8.5zM1448.7 1072.7h8.5v11.9h-8.5zM884 1091.7h8.5v11.9h-8.5zM1307.5 1091.7h8.5v11.9h-8.5zM1572.2 1091.7h8.5v11.9h-8.5zM1819.2 1091.7h8.5v11.9h-8.5zM831.1 1110.6h8.5v11.9h-8.5zM972.3 1110.6h8.5v11.9h-8.5zM954.6 1129.6h8.5v11.9h-8.5zM1413.4 1129.6h8.5v11.9h-8.5zM954.6 1148.6h8.5v11.9h-8.5zM1484 1148.6h8.5v11.9h-8.5zM1854.5 1205.4h8.5v11.9h-8.5zM1307.5 1224.4h8.5v11.9h-8.5zM1448.7 1224.4h8.5v11.9h-8.5zM1501.6 1224.4h8.5v11.9h-8.5zM1872.2 1224.4h8.5v11.9h-8.5zM1378.1 1262.3h8.5v11.9h-8.5zM1519.3 1262.3h8.5v11.9h-8.5zM1236.9 1281.3h8.5v11.9h-8.5zM1678.1 1319.2h8.5v11.9h-8.5zM1201.6 1357.1h8.5v11.9h-8.5zM1695.7 1376.1h8.5v11.9h-8.5zM1695.7 1395h8.5v11.9h-8.5zM1872.2 1395h8.5v11.9h-8.5zM1695.7 1414h8.5v11.9h-8.5zM1148.7 1433h8.5v11.9h-8.5zM1272.2 1489.8h8.5v11.9h-8.5zM1201.6 1527.8h8.5v11.9h-8.5zM1819.2 1527.8h8.5v11.9h-8.5zM1836.9 1527.8h8.5v11.9h-8.5zM1342.8 1584.7h8.5v11.9h-8.5zM1572.2 1584.7h8.5v11.9h-8.5zM1607.5 1584.7h8.5v11.9h-8.5zM1872.2 1584.7h8.5v11.9h-8.5zM1342.8 1660.5h8.5v11.9h-8.5zM1554.5 1660.5h8.5v11.9h-8.5zM1660.4 1660.5h8.5v11.9h-8.5zM1713.4 1660.5h8.5v11.9h-8.5zM1731 1660.5h8.5v11.9h-8.5zM1748.6 1660.5h8.5v11.9h-8.5zM1766.3 1660.5h8.5v11.9h-8.5zM1783.9 1660.5h8.5v11.9h-8.5zM1819.2 1660.5h8.5v11.9h-8.5zM1836.9 1660.5h8.5v11.9h-8.5zM1607.5 1679.5h8.5v11.9h-8.5zM1342.8 1698.4h8.5v11.9h-8.5zM1466.3 1698.4h8.5v11.9h-8.5zM1536.9 1717.4h8.5v11.9h-8.5zM1589.8 1717.4h8.5v11.9h-8.5zM1642.8 1717.4h8.5v11.9h-8.5zM1536.9 1736.3h8.5v11.9h-8.5zM1642.8 1736.3h8.5v11.9h-8.5zM1572.2 1755.3h8.5v11.9h-8.5zM1642.8 1755.3h8.5v11.9h-8.5zM1872.2 1755.3h8.5v11.9h-8.5zM1431 1774.3h8.5v11.9h-8.5zM1625.1 1774.3h8.5v11.9h-8.5zM1889.8 1793.2h8.5v11.9h-8.5zM1554.5 1812.2h8.5v11.9h-8.5zM1589.8 1831.1h8.5v11.9h-8.5zM1660.4 1831.1h8.5v11.9h-8.5zM1484 1850.1h8.5v11.9h-8.5zM1536.9 1850.1h8.5v11.9h-8.5zM1572.2 1850.1h8.5v11.9h-8.5zM1713.4 1850.1h8.5v11.9h-8.5zM1889.8 1850.1h8.5v11.9h-8.5zM1554.5 1888h8.5v11.9h-8.5zM1589.8 1888h8.5v11.9h-8.5zM1536.9 1907h8.5v11.9h-8.5zM1554.5 1907h8.5v11.9h-8.5zM1731 1907h8.5v11.9h-8.5zM1854.5 1907h8.5v11.9h-8.5zM1731 1926h8.5v11.9h-8.5zM1854.5 1944.9h8.5v11.9h-8.5zM1695.7 1963.9h8.5v11.9h-8.5zM1748.6 1963.9h8.5v11.9h-8.5zM1819.2 1963.9h8.5v11.9h-8.5zM1836.9 1963.9h8.5v11.9h-8.5zM1889.8 1963.9h8.5v11.9h-8.5zM1625.1 1982.8h8.5v11.9h-8.5zM1642.8 2001.8h8.5v11.9h-8.5zM1854.5 2001.8h8.5v11.9h-8.5zM1713.4 2020.8h8.5v11.9h-8.5zM1731 2039.7h8.5v11.9h-8.5zM1836.9 2058.7h8.5v11.9h-8.5zM1748.6 2115.6h8.5v11.9h-8.5zM1766.3 2115.6h8.5v11.9h-8.5zM1801.6 2115.6h8.5v11.9h-8.5zM1819.2 2115.6h8.5v11.9h-8.5zM1836.9 2115.6h8.5v11.9h-8.5zM1872.2 2134.5h8.5v11.9h-8.5zM1783.9 2153.5h8.5v11.9h-8.5zM1872.2 2153.5h8.5v11.9h-8.5zM1889.8 2153.5h8.5v11.9h-8.5zM1783.9 2172.4h8.5v11.9h-8.5zM1872.2 2172.4h8.5v11.9h-8.5zM1889.8 2172.4h8.5v11.9h-8.5zM1819.2 2191.4h8.5v11.9h-8.5zM1836.9 2191.4h8.5v11.9h-8.5zM1819.2 2210.4h8.5v11.9h-8.5zM1836.9 2210.4h8.5v11.9h-8.5z"/>
<path fill="#F9A883" d="M406.9 579h9.5v13.3h-9.5zM654 579h9.5v13.3h-9.5zM548.1 598h9.5v13.3h-9.5zM671.6 598h9.5v13.3h-9.5zM548.1 616.9h9.5v13.3h-9.5zM548.1 635.9h9.5v13.3h-9.5zM389.3 654.9h9.5v13.3h-9.5zM636.3 654.9h9.5v13.3h-9.5zM1800.9 692.8h9.5v13.3h-9.5zM1236.2 711.7h9.5v13.3h-9.5zM1677.4 730.7h9.5v13.3h-9.5zM1695 730.7h9.5v13.3h-9.5zM1800.9 730.7h9.5v13.3h-9.5zM1871.5 730.7h9.5v13.3h-9.5zM1324.5 749.7h9.5v13.3h-9.5zM1871.5 749.7h9.5v13.3h-9.5zM724.5 768.6h9.5v13.3h-9.5zM830.4 768.6h9.5v13.3h-9.5zM830.4 787.6h9.5v13.3h-9.5zM1571.5 787.6h9.5v13.3h-9.5zM1889.1 787.6h9.5v13.3h-9.5zM565.7 806.6h9.5v13.3h-9.5zM601 806.6h9.5v13.3h-9.5zM953.9 825.5h9.5v13.3h-9.5zM971.6 825.5h9.5v13.3h-9.5zM742.2 844.5h9.5v13.3h-9.5zM812.8 844.5h9.5v13.3h-9.5zM953.9 844.5h9.5v13.3h-9.5zM971.6 844.5h9.5v13.3h-9.5zM989.2 863.4h9.5v13.3h-9.5zM865.7 882.4h9.5v13.3h-9.5zM989.2 882.4h9.5v13.3h-9.5zM1236.2 901.4h9.5v13.3h-9.5zM989.2 920.3h9.5v13.3h-9.5zM989.2 939.3h9.5v13.3h-9.5zM1042.1 939.3h9.5v13.3h-9.5zM1059.8 939.3h9.5v13.3h-9.5zM1324.5 939.3h9.5v13.3h-9.5zM1500.9 939.3h9.5v13.3h-9.5zM1765.6 939.3h9.5v13.3h-9.5zM1783.2 939.3h9.5v13.3h-9.5zM1677.4 977.2h9.5v13.3h-9.5zM1218.6 996.2h9.5v13.3h-9.5zM1236.2 996.2h9.5v13.3h-9.5zM1677.4 996.2h9.5v13.3h-9.5zM1800.9 996.2h9.5v13.3h-9.5zM777.5 1034.1h9.5v13.3h-9.5zM1624.4 1034.1h9.5v13.3h-9.5zM1889.1 1034.1h9.5v13.3h-9.5zM989.2 1072h9.5v13.3h-9.5zM989.2 1091h9.5v13.3h-9.5zM1006.9 1109.9h9.5v13.3h-9.5zM1024.5 1109.9h9.5v13.3h-9.5zM1059.8 1109.9h9.5v13.3h-9.5zM989.2 1128.9h9.5v13.3h-9.5zM1059.8 1128.9h9.5v13.3h-9.5zM1253.9 1166.8h9.5v13.3h-9.5zM1095.1 1204.7h9.5v13.3h-9.5zM1112.7 1204.7h9.5v13.3h-9.5zM1324.5 1204.7h9.5v13.3h-9.5zM1412.7 1280.6h9.5v13.3h-9.5zM1500.9 1299.5h9.5v13.3h-9.5zM1342.1 1337.5h9.5v13.3h-9.5zM1077.4 1394.3h9.5v13.3h-9.5zM1359.8 1432.3h9.5v13.3h-9.5zM1800.9 1451.2h9.5v13.3h-9.5zM1236.2 1508.1h9.5v13.3h-9.5zM1430.3 1508.1h9.5v13.3h-9.5zM1677.4 1508.1h9.5v13.3h-9.5zM1800.9 1508.1h9.5v13.3h-9.5zM1518.6 1546h9.5v13.3h-9.5zM1606.8 1546h9.5v13.3h-9.5zM1747.9 1546h9.5v13.3h-9.5zM1765.6 1546h9.5v13.3h-9.5zM1712.7 1640.8h9.5v13.3h-9.5zM1889.1 1640.8h9.5v13.3h-9.5zM1853.8 1792.5h9.5v13.3h-9.5zM1853.8 2076.9h9.5v13.3h-9.5zM1853.8 2209.7h9.5v13.3h-9.5z"/>
<path fill="#98C2DC" d="M759.8 579h9.5v13.3h-9.5zM777.5 579h9.5v13.3h-9.5zM795.1 579h9.5v13.3h-9.5zM1395 579h9.5v13.3h-9.5zM1412.7 579h9.5v13.3h-9.5zM777.5 598h9.5v13.3h-9.5zM795.1 598h9.5v13.3h-9.5zM759.8 616.9h9.5v13.3h-9.5zM777.5 616.9h9.5v13.3h-9.5zM795.1 616.9h9.5v13.3h-9.5zM795.1 635.9h9.5v13.3h-9.5zM830.4 635.9h9.5v13.3h-9.5zM971.6 635.9h9.5v13.3h-9.5zM759.8 654.9h9.5v13.3h-9.5zM777.5 654.9h9.5v13.3h-9.5zM971.6 654.9h9.5v13.3h-9.5zM1395 654.9h9.5v13.3h-9.5zM1412.7 654.9h9.5v13.3h-9.5zM1536.2 654.9h9.5v13.3h-9.5zM1889.1 654.9h9.5v13.3h-9.5zM459.9 673.8h9.5v13.3h-9.5zM477.5 673.8h9.5v13.3h-9.5zM495.1 673.8h9.5v13.3h-9.5zM565.7 673.8h9.5v13.3h-9.5zM724.5 673.8h9.5v13.3h-9.5zM706.9 692.8h9.5v13.3h-9.5zM724.5 711.7h9.5v13.3h-9.5zM548.1 730.7h9.5v13.3h-9.5zM1148 730.7h9.5v13.3h-9.5zM495.1 749.7h9.5v13.3h-9.5zM530.4 749.7h9.5v13.3h-9.5zM1077.4 749.7h9.5v13.3h-9.5zM1148 749.7h9.5v13.3h-9.5zM636.3 768.6h9.5v13.3h-9.5zM689.2 768.6h9.5v13.3h-9.5zM636.3 787.6h9.5v13.3h-9.5zM636.3 825.5h9.5v13.3h-9.5zM689.2 844.5h9.5v13.3h-9.5zM583.4 863.4h9.5v13.3h-9.5zM618.7 882.4h9.5v13.3h-9.5zM671.6 882.4h9.5v13.3h-9.5zM689.2 882.4h9.5v13.3h-9.5zM795.1 882.4h9.5v13.3h-9.5zM1148 882.4h9.5v13.3h-9.5zM1342.1 882.4h9.5v13.3h-9.5zM1395 882.4h9.5v13.3h-9.5zM1412.7 882.4h9.5v13.3h-9.5zM654 901.4h9.5v13.3h-9.5zM795.1 901.4h9.5v13.3h-9.5zM1395 901.4h9.5v13.3h-9.5zM1412.7 901.4h9.5v13.3h-9.5zM654 920.3h9.5v13.3h-9.5zM1306.8 920.3h9.5v13.3h-9.5zM689.2 939.3h9.5v13.3h-9.5zM848 939.3h9.5v13.3h-9.5zM1148 977.2h9.5v13.3h-9.5zM724.5 996.2h9.5v13.3h-9.5zM1148 1015.1h9.5v13.3h-9.5zM1077.4 1034.1h9.5v13.3h-9.5zM1853.8 1034.1h9.5v13.3h-9.5zM777.5 1053h9.5v13.3h-9.5zM795.1 1053h9.5v13.3h-9.5zM1342.1 1072h9.5v13.3h-9.5zM1571.5 1072h9.5v13.3h-9.5zM1624.4 1072h9.5v13.3h-9.5zM1747.9 1072h9.5v13.3h-9.5zM1765.6 1072h9.5v13.3h-9.5zM1818.5 1072h9.5v13.3h-9.5zM1836.2 1072h9.5v13.3h-9.5zM1412.7 1091h9.5v13.3h-9.5zM1148 1109.9h9.5v13.3h-9.5zM1306.8 1109.9h9.5v13.3h-9.5zM971.6 1128.9h9.5v13.3h-9.5zM1148 1128.9h9.5v13.3h-9.5zM1395 1128.9h9.5v13.3h-9.5zM1395 1147.8h9.5v13.3h-9.5zM953.9 1166.8h9.5v13.3h-9.5zM1395 1166.8h9.5v13.3h-9.5zM1695 1223.7h9.5v13.3h-9.5zM1518.6 1242.7h9.5v13.3h-9.5zM1712.7 1242.7h9.5v13.3h-9.5zM1712.7 1261.6h9.5v13.3h-9.5zM1218.6 1280.6h9.5v13.3h-9.5zM1712.7 1280.6h9.5v13.3h-9.5zM1236.2 1318.5h9.5v13.3h-9.5zM1395 1318.5h9.5v13.3h-9.5zM1871.5 1356.4h9.5v13.3h-9.5zM1871.5 1375.4h9.5v13.3h-9.5zM1377.4 1584h9.5v13.3h-9.5zM1500.9 1584h9.5v13.3h-9.5zM1695 1584h9.5v13.3h-9.5zM1783.2 1584h9.5v13.3h-9.5zM1800.9 1584h9.5v13.3h-9.5zM1518.6 1640.8h9.5v13.3h-9.5zM1553.8 1640.8h9.5v13.3h-9.5zM1412.7 1659.8h9.5v13.3h-9.5zM1430.3 1659.8h9.5v13.3h-9.5zM1518.6 1659.8h9.5v13.3h-9.5zM1536.2 1659.8h9.5v13.3h-9.5zM1571.5 1659.8h9.5v13.3h-9.5zM1589.1 1659.8h9.5v13.3h-9.5zM1606.8 1659.8h9.5v13.3h-9.5zM1395 1697.7h9.5v13.3h-9.5zM1448 1697.7h9.5v13.3h-9.5zM1571.5 1697.7h9.5v13.3h-9.5zM1747.9 1697.7h9.5v13.3h-9.5zM1765.6 1697.7h9.5v13.3h-9.5zM1818.5 1697.7h9.5v13.3h-9.5zM1836.2 1697.7h9.5v13.3h-9.5zM1889.1 1697.7h9.5v13.3h-9.5zM1359.8 1716.7h9.5v13.3h-9.5zM1712.7 1716.7h9.5v13.3h-9.5zM1624.4 1735.6h9.5v13.3h-9.5zM1659.7 1735.6h9.5v13.3h-9.5zM1430.3 1754.6h9.5v13.3h-9.5zM1465.6 1754.6h9.5v13.3h-9.5zM1483.3 1754.6h9.5v13.3h-9.5zM1606.8 1754.6h9.5v13.3h-9.5zM1430.3 1792.5h9.5v13.3h-9.5zM1500.9 1792.5h9.5v13.3h-9.5zM1536.2 1792.5h9.5v13.3h-9.5zM1571.5 1792.5h9.5v13.3h-9.5zM1747.9 1792.5h9.5v13.3h-9.5zM1765.6 1792.5h9.5v13.3h-9.5zM1818.5 1792.5h9.5v13.3h-9.5zM1836.2 1792.5h9.5v13.3h-9.5zM1483.3 1811.5h9.5v13.3h-9.5zM1536.2 1811.5h9.5v13.3h-9.5zM1624.4 1811.5h9.5v13.3h-9.5zM1677.4 1811.5h9.5v13.3h-9.5zM1800.9 1811.5h9.5v13.3h-9.5zM1483.3 1830.4h9.5v13.3h-9.5zM1624.4 1830.4h9.5v13.3h-9.5zM1695 1830.4h9.5v13.3h-9.5zM1712.7 1830.4h9.5v13.3h-9.5zM1747.9 1830.4h9.5v13.3h-9.5zM1765.6 1830.4h9.5v13.3h-9.5zM1889.1 1830.4h9.5v13.3h-9.5zM1500.9 1849.4h9.5v13.3h-9.5zM1606.8 1849.4h9.5v13.3h-9.5zM1624.4 1849.4h9.5v13.3h-9.5zM1818.5 1849.4h9.5v13.3h-9.5zM1836.2 1849.4h9.5v13.3h-9.5zM1500.9 1868.4h9.5v13.3h-9.5zM1712.7 1868.4h9.5v13.3h-9.5zM1818.5 1868.4h9.5v13.3h-9.5zM1836.2 1868.4h9.5v13.3h-9.5zM1571.5 1887.3h9.5v13.3h-9.5zM1747.9 1887.3h9.5v13.3h-9.5zM1818.5 1887.3h9.5v13.3h-9.5zM1571.5 1906.3h9.5v13.3h-9.5zM1606.8 1906.3h9.5v13.3h-9.5zM1606.8 1925.2h9.5v13.3h-9.5zM1571.5 1944.2h9.5v13.3h-9.5zM1730.3 1944.2h9.5v13.3h-9.5zM1659.7 1963.2h9.5v13.3h-9.5zM1712.7 1963.2h9.5v13.3h-9.5zM1765.6 1963.2h9.5v13.3h-9.5zM1871.5 1963.2h9.5v13.3h-9.5zM1730.3 1982.1h9.5v13.3h-9.5zM1624.4 2001.1h9.5v13.3h-9.5zM1677.4 2001.1h9.5v13.3h-9.5zM1695 2001.1h9.5v13.3h-9.5zM1747.9 2020.1h9.5v13.3h-9.5zM1765.6 2020.1h9.5v13.3h-9.5zM1818.5 2020.1h9.5v13.3h-9.5zM1836.2 2020.1h9.5v13.3h-9.5zM1659.7 2039h9.5v13.3h-9.5zM1853.8 2039h9.5v13.3h-9.5zM1783.2 2076.9h9.5v13.3h-9.5zM1712.7 2095.9h9.5v13.3h-9.5zM1783.2 2095.9h9.5v13.3h-9.5zM1783.2 2114.9h9.5v13.3h-9.5zM1889.1 2228.6h9.5v13.3h-9.5zM1889.1 2247.6h9.5v13.3h-9.5z"/>
<path fill="#EC8763" d="M388.7 578.4h10.4v14.6h-10.4zM423.9 578.4h10.4v14.6h-10.4zM688.6 578.4h10.4v14.6h-10.4zM653.3 616.3h10.4v14.6h-10.4zM671 616.3h10.4v14.6h-10.4zM635.7 635.3h10.4v14.6h-10.4zM653.3 635.3h10.4v14.6h-10.4zM671 635.3h10.4v14.6h-10.4zM371 654.2h10.4v14.6h-10.4zM406.3 654.2h10.4v14.6h-10.4zM1412.1 749h10.4v14.6h-10.4zM741.6 768h10.4v14.6h-10.4zM759.2 768h10.4v14.6h-10.4zM776.8 768h10.4v14.6h-10.4zM1394.4 768h10.4v14.6h-10.4zM1412.1 768h10.4v14.6h-10.4zM1394.4 787h10.4v14.6h-10.4zM582.8 805.9h10.4v14.6h-10.4zM1394.4 805.9h10.4v14.6h-10.4zM1412.1 805.9h10.4v14.6h-10.4zM600.4 824.9h10.4v14.6h-10.4zM741.6 824.9h10.4v14.6h-10.4zM829.8 824.9h10.4v14.6h-10.4zM759.2 843.9h10.4v14.6h-10.4zM1394.4 843.9h10.4v14.6h-10.4zM1676.7 1014.5h10.4v14.6h-10.4zM741.6 1033.5h10.4v14.6h-10.4zM759.2 1033.5h10.4v14.6h-10.4zM794.5 1033.5h10.4v14.6h-10.4zM1800.3 1033.5h10.4v14.6h-10.4zM1182.7 1071.4h10.4v14.6h-10.4zM1182.7 1090.3h10.4v14.6h-10.4zM1041.5 1109.3h10.4v14.6h-10.4zM1041.5 1128.3h10.4v14.6h-10.4zM865.1 1147.2h10.4v14.6h-10.4zM1412.1 1204.1h10.4v14.6h-10.4zM1341.5 1298.9h10.4v14.6h-10.4zM1747.3 1298.9h10.4v14.6h-10.4zM1765 1298.9h10.4v14.6h-10.4zM1817.9 1298.9h10.4v14.6h-10.4zM1835.5 1298.9h10.4v14.6h-10.4zM1076.8 1355.8h10.4v14.6h-10.4zM1076.8 1374.8h10.4v14.6h-10.4zM1747.3 1640.2h10.4v14.6h-10.4zM1765 1640.2h10.4v14.6h-10.4zM1853.2 1772.9h10.4v14.6h-10.4z"/>
<path fill="#74AACE" d="M829.8 654.2h10.4v14.6h-10.4zM423.9 673.2h10.4v14.6h-10.4zM441.6 673.2h10.4v14.6h-10.4zM512.2 673.2h10.4v14.6h-10.4zM688.6 673.2h10.4v14.6h-10.4zM706.3 673.2h10.4v14.6h-10.4zM600.4 692.2h10.4v14.6h-10.4zM618 692.2h10.4v14.6h-10.4zM671 692.2h10.4v14.6h-10.4zM441.6 711.1h10.4v14.6h-10.4zM600.4 711.1h10.4v14.6h-10.4zM565.1 730.1h10.4v14.6h-10.4zM706.3 730.1h10.4v14.6h-10.4zM476.9 749h10.4v14.6h-10.4zM600.4 749h10.4v14.6h-10.4zM635.7 749h10.4v14.6h-10.4zM653.3 749h10.4v14.6h-10.4zM635.7 805.9h10.4v14.6h-10.4zM653.3 862.8h10.4v14.6h-10.4zM723.9 881.8h10.4v14.6h-10.4zM776.8 881.8h10.4v14.6h-10.4zM776.8 900.7h10.4v14.6h-10.4zM671 919.7h10.4v14.6h-10.4zM741.6 919.7h10.4v14.6h-10.4zM759.2 919.7h10.4v14.6h-10.4zM653.3 938.7h10.4v14.6h-10.4zM1147.4 938.7h10.4v14.6h-10.4zM671 976.6h10.4v14.6h-10.4zM706.3 976.6h10.4v14.6h-10.4zM759.2 1052.4h10.4v14.6h-10.4zM1394.4 1090.3h10.4v14.6h-10.4zM1623.8 1090.3h10.4v14.6h-10.4zM829.8 1128.3h10.4v14.6h-10.4zM970.9 1147.2h10.4v14.6h-10.4zM970.9 1166.2h10.4v14.6h-10.4zM865.1 1185.1h10.4v14.6h-10.4zM1676.7 1242h10.4v14.6h-10.4zM970.9 1261h10.4v14.6h-10.4zM970.9 1280h10.4v14.6h-10.4zM1676.7 1280h10.4v14.6h-10.4zM1429.7 1583.3h10.4v14.6h-10.4zM1676.7 1583.3h10.4v14.6h-10.4zM1870.8 1659.2h10.4v14.6h-10.4zM1429.7 1697.1h10.4v14.6h-10.4zM1500.3 1697.1h10.4v14.6h-10.4zM1394.4 1716.1h10.4v14.6h-10.4zM1429.7 1716.1h10.4v14.6h-10.4zM1500.3 1716.1h10.4v14.6h-10.4zM1570.9 1716.1h10.4v14.6h-10.4zM1623.8 1716.1h10.4v14.6h-10.4zM1659.1 1716.1h10.4v14.6h-10.4zM1447.4 1754h10.4v14.6h-10.4zM1500.3 1754h10.4v14.6h-10.4zM1500.3 1810.9h10.4v14.6h-10.4zM1588.5 1810.9h10.4v14.6h-10.4zM1659.1 1810.9h10.4v14.6h-10.4zM1747.3 1810.9h10.4v14.6h-10.4zM1765 1810.9h10.4v14.6h-10.4zM1870.8 1810.9h10.4v14.6h-10.4zM1500.3 1829.8h10.4v14.6h-10.4zM1606.2 1829.8h10.4v14.6h-10.4zM1817.9 1829.8h10.4v14.6h-10.4zM1835.5 1829.8h10.4v14.6h-10.4zM1641.5 1886.7h10.4v14.6h-10.4zM1765 1886.7h10.4v14.6h-10.4zM1835.5 1886.7h10.4v14.6h-10.4zM1570.9 1924.6h10.4v14.6h-10.4zM1623.8 1924.6h10.4v14.6h-10.4zM1606.2 1943.6h10.4v14.6h-10.4zM1588.5 1962.5h10.4v14.6h-10.4zM1623.8 1962.5h10.4v14.6h-10.4zM1659.1 2000.5h10.4v14.6h-10.4zM1712 2000.5h10.4v14.6h-10.4zM1870.8 2000.5h10.4v14.6h-10.4zM1729.7 2057.4h10.4v14.6h-10.4zM1694.4 2076.3h10.4v14.6h-10.4zM1800.3 2076.3h10.4v14.6h-10.4zM1870.8 2076.3h10.4v14.6h-10.4z"/>
<path fill="#DA6148" d="M652.7 596.7h11.3v15.8h-11.3zM388 615.7h11.3v15.8h-11.3zM423.3 615.7h11.3v15.8h-11.3zM635.1 615.7h11.3v15.8h-11.3zM388 634.7h11.3v15.8h-11.3zM423.3 653.6h11.3v15.8h-11.3zM688 653.6h11.3v15.8h-11.3zM793.9 767.4h11.3v15.8h-11.3zM740.9 786.3h11.3v15.8h-11.3zM1411.4 786.3h11.3v15.8h-11.3zM758.6 824.3h11.3v15.8h-11.3zM776.2 843.2h11.3v15.8h-11.3zM829.2 843.2h11.3v15.8h-11.3zM1799.6 1013.9h11.3v15.8h-11.3zM1323.2 1032.8h11.3v15.8h-11.3zM1393.8 1032.8h11.3v15.8h-11.3zM864.4 1165.6h11.3v15.8h-11.3zM1393.8 1203.5h11.3v15.8h-11.3zM1235 1525.8h11.3v15.8h-11.3z"/>
<path fill="#5493C4" d="M793.9 653.6h11.3v15.8h-11.3zM405.7 672.6h11.3v15.8h-11.3zM652.7 672.6h11.3v15.8h-11.3zM441 691.5h11.3v15.8h-11.3zM582.1 691.5h11.3v15.8h-11.3zM635.1 691.5h11.3v15.8h-11.3zM546.8 710.5h11.3v15.8h-11.3zM564.5 710.5h11.3v15.8h-11.3zM652.7 710.5h11.3v15.8h-11.3zM582.1 729.5h11.3v15.8h-11.3zM617.4 729.5h11.3v15.8h-11.3zM652.7 729.5h11.3v15.8h-11.3zM458.6 748.4h11.3v15.8h-11.3zM705.6 824.3h11.3v15.8h-11.3zM705.6 843.2h11.3v15.8h-11.3zM564.5 862.2h11.3v15.8h-11.3zM635.1 862.2h11.3v15.8h-11.3zM599.8 881.1h11.3v15.8h-11.3zM758.6 881.1h11.3v15.8h-11.3zM688 900.1h11.3v15.8h-11.3zM793.9 919.1h11.3v15.8h-11.3zM1146.8 919.1h11.3v15.8h-11.3zM776.2 938h11.3v15.8h-11.3zM793.9 938h11.3v15.8h-11.3zM652.7 957h11.3v15.8h-11.3zM705.6 957h11.3v15.8h-11.3zM688 976h11.3v15.8h-11.3zM705.6 1013.9h11.3v15.8h-11.3zM740.9 1051.8h11.3v15.8h-11.3zM793.9 1070.8h11.3v15.8h-11.3zM1393.8 1070.8h11.3v15.8h-11.3zM1411.4 1070.8h11.3v15.8h-11.3zM793.9 1089.7h11.3v15.8h-11.3zM970.3 1241.4h11.3v15.8h-11.3zM1676.1 1260.4h11.3v15.8h-11.3zM970.3 1298.3h11.3v15.8h-11.3zM1129.1 1450h11.3v15.8h-11.3zM1376.2 1696.5h11.3v15.8h-11.3zM1411.4 1696.5h11.3v15.8h-11.3zM1411.4 1715.4h11.3v15.8h-11.3zM1746.7 1715.4h11.3v15.8h-11.3zM1764.3 1715.4h11.3v15.8h-11.3zM1817.3 1715.4h11.3v15.8h-11.3zM1834.9 1715.4h11.3v15.8h-11.3zM1411.4 1772.3h11.3v15.8h-11.3zM1464.4 1810.2h11.3v15.8h-11.3zM1570.2 1810.2h11.3v15.8h-11.3zM1711.4 1810.2h11.3v15.8h-11.3zM1817.3 1810.2h11.3v15.8h-11.3zM1834.9 1810.2h11.3v15.8h-11.3zM1570.2 1829.2h11.3v15.8h-11.3zM1870.2 1829.2h11.3v15.8h-11.3zM1552.6 1924h11.3v15.8h-11.3zM1587.9 1924h11.3v15.8h-11.3zM1640.8 1943h11.3v15.8h-11.3zM1658.5 1943h11.3v15.8h-11.3zM1605.5 1961.9h11.3v15.8h-11.3zM1605.5 1980.9h11.3v15.8h-11.3zM1640.8 1980.9h11.3v15.8h-11.3zM1658.5 2018.8h11.3v15.8h-11.3zM1711.4 2075.7h11.3v15.8h-11.3zM1870.2 2113.6h11.3v15.8h-11.3zM1852.6 2132.6h11.3v15.8h-11.3zM1870.2 2189.5h11.3v15.8h-11.3z"/>
<path fill="#C63E37" d="M369.8 577.2h12.1v16.9h-12.1zM440.4 577.2h12.1v16.9h-12.1zM634.5 577.2h12.1v16.9h-12.1zM387.5 596.2h12.1v16.9h-12.1zM405.1 596.2h12.1v16.9h-12.1zM422.8 596.2h12.1v16.9h-12.1zM440.4 596.2h12.1v16.9h-12.1zM634.5 596.2h12.1v16.9h-12.1zM687.4 596.2h12.1v16.9h-12.1zM369.8 615.1h12.1v16.9h-12.1zM405.1 615.1h12.1v16.9h-12.1zM440.4 615.1h12.1v16.9h-12.1zM687.4 615.1h12.1v16.9h-12.1zM705.1 615.1h12.1v16.9h-12.1zM369.8 634.1h12.1v16.9h-12.1zM405.1 634.1h12.1v16.9h-12.1zM422.8 634.1h12.1v16.9h-12.1zM440.4 634.1h12.1v16.9h-12.1zM705.1 634.1h12.1v16.9h-12.1zM440.4 653h12.1v16.9h-12.1zM758 785.8h12.1v16.9h-12.1zM775.7 785.8h12.1v16.9h-12.1zM793.3 785.8h12.1v16.9h-12.1zM740.4 804.7h12.1v16.9h-12.1zM775.7 804.7h12.1v16.9h-12.1zM793.3 804.7h12.1v16.9h-12.1zM1799.1 975.4h12.1v16.9h-12.1zM1410.9 1032.3h12.1v16.9h-12.1zM1816.7 1639h12.1v16.9h-12.1zM1834.4 1639h12.1v16.9h-12.1z"/>
<path fill="#3D7EBB" d="M387.5 672h12.1v16.9h-12.1zM422.8 691h12.1v16.9h-12.1zM546.3 691h12.1v16.9h-12.1zM687.4 691h12.1v16.9h-12.1zM669.8 728.9h12.1v16.9h-12.1zM687.4 747.9h12.1v16.9h-12.1zM705.1 747.9h12.1v16.9h-12.1zM511 766.8h12.1v16.9h-12.1zM705.1 766.8h12.1v16.9h-12.1zM705.1 785.8h12.1v16.9h-12.1zM528.6 804.7h12.1v16.9h-12.1zM705.1 804.7h12.1v16.9h-12.1zM722.7 861.6h12.1v16.9h-12.1zM581.6 880.6h12.1v16.9h-12.1zM652.1 880.6h12.1v16.9h-12.1zM740.4 880.6h12.1v16.9h-12.1zM599.2 899.5h12.1v16.9h-12.1zM722.7 899.5h12.1v16.9h-12.1zM740.4 899.5h12.1v16.9h-12.1zM758 899.5h12.1v16.9h-12.1zM616.9 918.5h12.1v16.9h-12.1zM687.4 918.5h12.1v16.9h-12.1zM687.4 994.3h12.1v16.9h-12.1zM775.7 1070.2h12.1v16.9h-12.1zM775.7 1089.2h12.1v16.9h-12.1zM1216.8 1240.8h12.1v16.9h-12.1zM1216.8 1259.8h12.1v16.9h-12.1zM1005 1335.6h12.1v16.9h-12.1zM1022.7 1335.6h12.1v16.9h-12.1zM1040.3 1335.6h12.1v16.9h-12.1zM1058 1335.6h12.1v16.9h-12.1zM1110.9 1449.4h12.1v16.9h-12.1zM1128.6 1468.4h12.1v16.9h-12.1zM1710.8 1582.1h12.1v16.9h-12.1zM1446.2 1809.7h12.1v16.9h-12.1zM1605 1809.7h12.1v16.9h-12.1zM1657.9 1923.4h12.1v16.9h-12.1zM1657.9 1980.3h12.1v16.9h-12.1zM1728.5 1999.3h12.1v16.9h-12.1z"/>
<path fill="#B3262A" d="M492.7 576.6h13v18.2h-13zM510.4 576.6h13v18.2h-13zM528 576.6h13v18.2h-13zM704.5 576.6h13v18.2h-13zM369.2 595.5h13v18.2h-13zM457.4 595.5h13v18.2h-13zM475.1 595.5h13v18.2h-13zM492.7 595.5h13v18.2h-13zM510.4 595.5h13v18.2h-13zM528 595.5h13v18.2h-13zM704.5 595.5h13v18.2h-13zM457.4 614.5h13v18.2h-13zM475.1 614.5h13v18.2h-13zM492.7 614.5h13v18.2h-13zM510.4 614.5h13v18.2h-13zM528 614.5h13v18.2h-13zM457.4 633.5h13v18.2h-13zM475.1 633.5h13v18.2h-13zM492.7 633.5h13v18.2h-13zM510.4 633.5h13v18.2h-13zM528 633.5h13v18.2h-13zM686.8 633.5h13v18.2h-13zM457.4 652.4h13v18.2h-13zM475.1 652.4h13v18.2h-13zM492.7 652.4h13v18.2h-13zM510.4 652.4h13v18.2h-13zM704.5 652.4h13v18.2h-13zM757.4 804.1h13v18.2h-13zM792.7 823.1h13v18.2h-13zM792.7 842h13v18.2h-13z"/>
<path fill="#2C63AE" d="M351.6 595.5h13v18.2h-13zM351.6 614.5h13v18.2h-13zM633.9 671.4h13v18.2h-13zM404.5 690.3h13v18.2h-13zM422.1 709.3h13v18.2h-13zM580.9 709.3h13v18.2h-13zM686.8 709.3h13v18.2h-13zM439.8 728.3h13v18.2h-13zM598.6 728.3h13v18.2h-13zM616.2 747.2h13v18.2h-13zM492.7 766.2h13v18.2h-13zM528 766.2h13v18.2h-13zM528 785.2h13v18.2h-13zM669.2 898.9h13v18.2h-13zM775 917.9h13v18.2h-13zM828 1145.4h13v18.2h-13zM933.8 1240.2h13v18.2h-13zM1057.4 1354h13v18.2h-13zM1463.2 1828h13v18.2h-13zM1869 2093.5h13v18.2h-13z"/>
<path fill="#214D90" d="M298.1 576.1h13.7v19.3h-13.7zM315.8 576.1h13.7v19.3h-13.7zM333.4 576.1h13.7v19.3h-13.7zM351.1 576.1h13.7v19.3h-13.7zM315.8 595h13.7v19.3h-13.7zM333.4 595h13.7v19.3h-13.7zM333.4 614h13.7v19.3h-13.7zM351.1 632.9h13.7v19.3h-13.7zM545.1 670.9h13.7v19.3h-13.7zM562.8 689.8h13.7v19.3h-13.7zM651 689.8h13.7v19.3h-13.7zM668.7 708.8h13.7v19.3h-13.7zM686.3 727.7h13.7v19.3h-13.7zM474.6 765.7h13.7v19.3h-13.7zM492.2 784.6h13.7v19.3h-13.7zM509.9 784.6h13.7v19.3h-13.7zM509.9 803.6h13.7v19.3h-13.7zM527.5 822.5h13.7v19.3h-13.7zM756.9 1069h13.7v19.3h-13.7zM792.2 1107h13.7v19.3h-13.7zM933.3 1258.6h13.7v19.3h-13.7zM1021.6 1353.5h13.7v19.3h-13.7zM1039.2 1353.5h13.7v19.3h-13.7zM1056.9 1372.4h13.7v19.3h-13.7zM1586.2 1941.2h13.7v19.3h-13.7zM1815.6 2149.8h13.7v19.3h-13.7zM1833.2 2149.8h13.7v19.3h-13.7zM1815.6 2168.8h13.7v19.3h-13.7zM1833.2 2168.8h13.7v19.3h-13.7z"/>
<path fill="#981B23" d="M456.9 576.1h13.7v19.3h-13.7zM474.6 576.1h13.7v19.3h-13.7zM527.5 651.9h13.7v19.3h-13.7zM774.5 822.5h13.7v19.3h-13.7z"/>
<path fill="#1F3A6C" d="M915.7 1239.7h13.7v19.3h-13.7zM1039.2 1372.4h13.7v19.3h-13.7zM1056.9 1391.4h13.7v19.3h-13.7zM1762.7 2149.8h13.7v19.3h-13.7zM1833.2 2225.6h13.7v19.3h-13.7z"/>
<path fill="#1F3060" d="M280.5 576.1h13.6v19.1h-13.6zM298.2 595.1h13.6v19.1h-13.6zM315.8 614.1h13.6v19.1h-13.6zM333.5 633h13.6v19.1h-13.6zM351.1 652h13.6v19.1h-13.6zM368.7 670.9h13.6v19.1h-13.6zM386.4 689.9h13.6v19.1h-13.6zM404 708.9h13.6v19.1h-13.6zM421.7 727.8h13.6v19.1h-13.6zM439.3 746.8h13.6v19.1h-13.6zM457 765.7h13.6v19.1h-13.6zM474.6 784.7h13.6v19.1h-13.6zM492.3 803.7h13.6v19.1h-13.6zM509.9 822.6h13.6v19.1h-13.6zM527.6 841.6h13.6v19.1h-13.6zM545.2 860.5h13.6v19.1h-13.6zM562.8 879.5h13.6v19.1h-13.6zM580.5 898.5h13.6v19.1h-13.6zM598.1 917.4h13.6v19.1h-13.6zM615.8 936.4h13.6v19.1h-13.6zM633.4 955.4h13.6v19.1h-13.6zM651.1 974.3h13.6v19.1h-13.6zM668.7 993.3h13.6v19.1h-13.6zM686.4 1012.2h13.6v19.1h-13.6zM704 1031.2h13.6v19.1h-13.6zM721.6 1050.2h13.6v19.1h-13.6zM739.3 1069.1h13.6v19.1h-13.6zM756.9 1088.1h13.6v19.1h-13.6zM774.6 1107h13.6v19.1h-13.6zM792.2 1126h13.6v19.1h-13.6zM809.9 1145h13.6v19.1h-13.6zM827.5 1163.9h13.6v19.1h-13.6zM845.2 1182.9h13.6v19.1h-13.6zM862.8 1201.8h13.6v19.1h-13.6zM880.5 1220.8h13.6v19.1h-13.6zM898.1 1239.8h13.6v19.1h-13.6zM915.7 1258.7h13.6v19.1h-13.6zM933.4 1277.7h13.6v19.1h-13.6zM951 1296.6h13.6v19.1h-13.6zM968.7 1315.6h13.6v19.1h-13.6zM986.3 1334.6h13.6v19.1h-13.6zM1004 1353.5h13.6v19.1h-13.6zM1021.6 1372.5h13.6v19.1h-13.6zM1039.3 1391.5h13.6v19.1h-13.6zM1056.9 1410.4h13.6v19.1h-13.6zM1074.5 1429.4h13.6v19.1h-13.6zM1092.2 1448.3h13.6v19.1h-13.6zM1109.8 1467.3h13.6v19.1h-13.6zM1127.5 1486.3h13.6v19.1h-13.6zM1145.1 1505.2h13.6v19.1h-13.6zM1162.8 1524.2h13.6v19.1h-13.6zM1180.4 1543.1h13.6v19.1h-13.6zM1198.1 1562.1h13.6v19.1h-13.6zM1215.7 1581.1h13.6v19.1h-13.6zM1233.4 1600h13.6v19.1h-13.6zM1251 1619h13.6v19.1h-13.6zM1268.6 1637.9h13.6v19.1h-13.6zM1286.3 1656.9h13.6v19.1h-13.6zM1303.9 1675.9h13.6v19.1h-13.6zM1321.6 1694.8h13.6v19.1h-13.6zM1339.2 1713.8h13.6v19.1h-13.6zM1356.9 1732.8h13.6v19.1h-13.6zM1374.5 1751.7h13.6v19.1h-13.6zM1392.2 1770.7h13.6v19.1h-13.6zM1409.8 1789.6h13.6v19.1h-13.6zM1427.4 1808.6h13.6v19.1h-13.6zM1445.1 1827.6h13.6v19.1h-13.6zM1462.7 1846.5h13.6v19.1h-13.6zM1480.4 1865.5h13.6v19.1h-13.6zM1498 1884.4h13.6v19.1h-13.6zM1515.7 1903.4h13.6v19.1h-13.6zM1533.3 1922.4h13.6v19.1h-13.6zM1551 1941.3h13.6v19.1h-13.6zM1568.6 1960.3h13.6v19.1h-13.6zM1586.3 1979.2h13.6v19.1h-13.6zM1603.9 1998.2h13.6v19.1h-13.6zM1621.5 2017.2h13.6v19.1h-13.6zM1639.2 2036.1h13.6v19.1h-13.6zM1656.8 2055.1h13.6v19.1h-13.6zM1674.5 2074h13.6v19.1h-13.6zM1692.1 2093h13.6v19.1h-13.6zM1709.8 2112h13.6v19.1h-13.6zM1727.4 2130.9h13.6v19.1h-13.6zM1745.1 2149.9h13.6v19.1h-13.6zM1762.7 2168.9h13.6v19.1h-13.6zM1780.3 2187.8h13.6v19.1h-13.6zM1798 2206.8h13.6v19.1h-13.6zM1815.6 2225.7h13.6v19.1h-13.6zM1833.3 2244.7h13.6v19.1h-13.6zM1850.9 2263.7h13.6v19.1h-13.6zM1868.6 2282.6h13.6v19.1h-13.6zM1886.2 2301.6h13.6v19.1h-13.6z"/>
</g>
<path fill="#fff" fill-opacity="0.36" d="M286.4 579.9h1.8v1.8h-1.8zM286.4 589.7h1.8v1.8h-1.8zM304.1 598.8h1.8v1.8h-1.8zM304.1 608.6h1.8v1.8h-1.8zM321.7 617.8h1.8v1.8h-1.8zM321.7 627.6h1.8v1.8h-1.8zM339.4 636.8h1.8v1.8h-1.8zM339.4 646.6h1.8v1.8h-1.8zM357 655.7h1.8v1.8h-1.8zM357 665.5h1.8v1.8h-1.8zM374.6 674.7h1.8v1.8h-1.8zM374.6 684.5h1.8v1.8h-1.8zM392.3 693.6h1.8v1.8h-1.8zM392.3 703.4h1.8v1.8h-1.8zM409.9 712.6h1.8v1.8h-1.8zM409.9 722.4h1.8v1.8h-1.8zM427.6 731.6h1.8v1.8h-1.8zM427.6 741.4h1.8v1.8h-1.8zM445.2 750.5h1.8v1.8h-1.8zM445.2 760.3h1.8v1.8h-1.8zM462.9 769.5h1.8v1.8h-1.8zM462.9 779.3h1.8v1.8h-1.8zM480.5 788.5h1.8v1.8h-1.8zM480.5 798.3h1.8v1.8h-1.8zM498.2 807.4h1.8v1.8h-1.8zM498.2 817.2h1.8v1.8h-1.8zM515.8 826.4h1.8v1.8h-1.8zM515.8 836.2h1.8v1.8h-1.8zM533.5 845.3h1.8v1.8h-1.8zM533.5 855.1h1.8v1.8h-1.8zM551.1 864.3h1.8v1.8h-1.8zM551.1 874.1h1.8v1.8h-1.8zM568.7 883.3h1.8v1.8h-1.8zM568.7 893.1h1.8v1.8h-1.8zM586.4 902.2h1.8v1.8h-1.8zM586.4 912h1.8v1.8h-1.8zM604 921.2h1.8v1.8h-1.8zM604 931h1.8v1.8h-1.8zM621.7 940.1h1.8v1.8h-1.8zM621.7 949.9h1.8v1.8h-1.8zM639.3 959.1h1.8v1.8h-1.8zM639.3 968.9h1.8v1.8h-1.8zM657 978.1h1.8v1.8h-1.8zM657 987.9h1.8v1.8h-1.8zM674.6 997h1.8v1.8h-1.8zM674.6 1006.8h1.8v1.8h-1.8zM692.3 1016h1.8v1.8h-1.8zM692.3 1025.8h1.8v1.8h-1.8zM709.9 1034.9h1.8v1.8h-1.8zM709.9 1044.7h1.8v1.8h-1.8zM727.5 1053.9h1.8v1.8h-1.8zM727.5 1063.7h1.8v1.8h-1.8zM745.2 1072.9h1.8v1.8h-1.8zM745.2 1082.7h1.8v1.8h-1.8zM762.8 1091.8h1.8v1.8h-1.8zM762.8 1101.6h1.8v1.8h-1.8zM780.5 1110.8h1.8v1.8h-1.8zM780.5 1120.6h1.8v1.8h-1.8zM798.1 1129.7h1.8v1.8h-1.8zM798.1 1139.5h1.8v1.8h-1.8zM815.8 1148.7h1.8v1.8h-1.8zM815.8 1158.5h1.8v1.8h-1.8zM833.4 1167.7h1.8v1.8h-1.8zM833.4 1177.5h1.8v1.8h-1.8zM851.1 1186.6h1.8v1.8h-1.8zM851.1 1196.4h1.8v1.8h-1.8zM868.7 1205.6h1.8v1.8h-1.8zM868.7 1215.4h1.8v1.8h-1.8zM886.4 1224.6h1.8v1.8h-1.8zM886.4 1234.4h1.8v1.8h-1.8zM904 1243.5h1.8v1.8h-1.8zM904 1253.3h1.8v1.8h-1.8zM921.6 1262.5h1.8v1.8h-1.8zM921.6 1272.3h1.8v1.8h-1.8zM939.3 1281.4h1.8v1.8h-1.8zM939.3 1291.2h1.8v1.8h-1.8zM956.9 1300.4h1.8v1.8h-1.8zM956.9 1310.2h1.8v1.8h-1.8zM974.6 1319.4h1.8v1.8h-1.8zM974.6 1329.2h1.8v1.8h-1.8zM992.2 1338.3h1.8v1.8h-1.8zM992.2 1348.1h1.8v1.8h-1.8zM1009.9 1357.3h1.8v1.8h-1.8zM1009.9 1367.1h1.8v1.8h-1.8zM1027.5 1376.2h1.8v1.8h-1.8zM1027.5 1386h1.8v1.8h-1.8zM1045.2 1395.2h1.8v1.8h-1.8zM1045.2 1405h1.8v1.8h-1.8zM1062.8 1414.2h1.8v1.8h-1.8zM1062.8 1424h1.8v1.8h-1.8zM1080.4 1433.1h1.8v1.8h-1.8zM1080.4 1442.9h1.8v1.8h-1.8zM1098.1 1452.1h1.8v1.8h-1.8zM1098.1 1461.9h1.8v1.8h-1.8zM1115.7 1471h1.8v1.8h-1.8zM1115.7 1480.8h1.8v1.8h-1.8zM1133.4 1490h1.8v1.8h-1.8zM1133.4 1499.8h1.8v1.8h-1.8zM1151 1509h1.8v1.8h-1.8zM1151 1518.8h1.8v1.8h-1.8zM1168.7 1527.9h1.8v1.8h-1.8zM1168.7 1537.7h1.8v1.8h-1.8zM1186.3 1546.9h1.8v1.8h-1.8zM1186.3 1556.7h1.8v1.8h-1.8zM1204 1565.9h1.8v1.8h-1.8zM1204 1575.7h1.8v1.8h-1.8zM1221.6 1584.8h1.8v1.8h-1.8zM1221.6 1594.6h1.8v1.8h-1.8zM1239.3 1603.8h1.8v1.8h-1.8zM1239.3 1613.6h1.8v1.8h-1.8zM1256.9 1622.7h1.8v1.8h-1.8zM1256.9 1632.5h1.8v1.8h-1.8zM1274.5 1641.7h1.8v1.8h-1.8zM1274.5 1651.5h1.8v1.8h-1.8zM1292.2 1660.7h1.8v1.8h-1.8zM1292.2 1670.5h1.8v1.8h-1.8zM1309.8 1679.6h1.8v1.8h-1.8zM1309.8 1689.4h1.8v1.8h-1.8zM1327.5 1698.6h1.8v1.8h-1.8zM1327.5 1708.4h1.8v1.8h-1.8zM1345.1 1717.5h1.8v1.8h-1.8zM1345.1 1727.3h1.8v1.8h-1.8zM1362.8 1736.5h1.8v1.8h-1.8zM1362.8 1746.3h1.8v1.8h-1.8zM1380.4 1755.5h1.8v1.8h-1.8zM1380.4 1765.3h1.8v1.8h-1.8zM1398.1 1774.4h1.8v1.8h-1.8zM1398.1 1784.2h1.8v1.8h-1.8zM1415.7 1793.4h1.8v1.8h-1.8zM1415.7 1803.2h1.8v1.8h-1.8zM1433.3 1812.3h1.8v1.8h-1.8zM1433.3 1822.1h1.8v1.8h-1.8zM1451 1831.3h1.8v1.8h-1.8zM1451 1841.1h1.8v1.8h-1.8zM1468.6 1850.3h1.8v1.8h-1.8zM1468.6 1860.1h1.8v1.8h-1.8zM1486.3 1869.2h1.8v1.8h-1.8zM1486.3 1879h1.8v1.8h-1.8zM1503.9 1888.2h1.8v1.8h-1.8zM1503.9 1898h1.8v1.8h-1.8zM1521.6 1907.2h1.8v1.8h-1.8zM1521.6 1917h1.8v1.8h-1.8zM1539.2 1926.1h1.8v1.8h-1.8zM1539.2 1935.9h1.8v1.8h-1.8zM1556.9 1945.1h1.8v1.8h-1.8zM1556.9 1954.9h1.8v1.8h-1.8zM1574.5 1964h1.8v1.8h-1.8zM1574.5 1973.8h1.8v1.8h-1.8zM1592.2 1983h1.8v1.8h-1.8zM1592.2 1992.8h1.8v1.8h-1.8zM1609.8 2002h1.8v1.8h-1.8zM1609.8 2011.8h1.8v1.8h-1.8zM1627.4 2020.9h1.8v1.8h-1.8zM1627.4 2030.7h1.8v1.8h-1.8zM1645.1 2039.9h1.8v1.8h-1.8zM1645.1 2049.7h1.8v1.8h-1.8zM1662.7 2058.8h1.8v1.8h-1.8zM1662.7 2068.6h1.8v1.8h-1.8zM1680.4 2077.8h1.8v1.8h-1.8zM1680.4 2087.6h1.8v1.8h-1.8zM1698 2096.8h1.8v1.8h-1.8zM1698 2106.6h1.8v1.8h-1.8zM1715.7 2115.7h1.8v1.8h-1.8zM1715.7 2125.5h1.8v1.8h-1.8zM1733.3 2134.7h1.8v1.8h-1.8zM1733.3 2144.5h1.8v1.8h-1.8zM1751 2153.6h1.8v1.8h-1.8zM1751 2163.4h1.8v1.8h-1.8zM1768.6 2172.6h1.8v1.8h-1.8zM1768.6 2182.4h1.8v1.8h-1.8zM1786.2 2191.6h1.8v1.8h-1.8zM1786.2 2201.4h1.8v1.8h-1.8zM1803.9 2210.5h1.8v1.8h-1.8zM1803.9 2220.3h1.8v1.8h-1.8zM1821.5 2229.5h1.8v1.8h-1.8zM1821.5 2239.3h1.8v1.8h-1.8zM1839.2 2248.4h1.8v1.8h-1.8zM1839.2 2258.2h1.8v1.8h-1.8zM1856.8 2267.4h1.8v1.8h-1.8zM1856.8 2277.2h1.8v1.8h-1.8zM1874.5 2286.4h1.8v1.8h-1.8zM1874.5 2296.2h1.8v1.8h-1.8zM1892.1 2305.3h1.8v1.8h-1.8zM1892.1 2315.1h1.8v1.8h-1.8zM921.6 1243.5h1.8v1.8h-1.8zM921.6 1253.3h1.8v1.8h-1.8zM1045.2 1376.2h1.8v1.8h-1.8zM1045.2 1386h1.8v1.8h-1.8zM1062.8 1395.2h1.8v1.8h-1.8zM1062.8 1405h1.8v1.8h-1.8zM1768.6 2153.6h1.8v1.8h-1.8zM1768.6 2163.4h1.8v1.8h-1.8zM1839.2 2229.5h1.8v1.8h-1.8zM1839.2 2239.3h1.8v1.8h-1.8zM304.1 579.9h1.8v1.8h-1.8zM304.1 589.7h1.8v1.8h-1.8zM321.7 579.9h1.8v1.8h-1.8zM321.7 589.7h1.8v1.8h-1.8zM339.4 579.9h1.8v1.8h-1.8zM339.4 589.7h1.8v1.8h-1.8zM357 579.9h1.8v1.8h-1.8zM357 589.7h1.8v1.8h-1.8zM321.7 598.8h1.8v1.8h-1.8zM321.7 608.6h1.8v1.8h-1.8zM339.4 598.8h1.8v1.8h-1.8zM339.4 608.6h1.8v1.8h-1.8zM339.4 617.8h1.8v1.8h-1.8zM339.4 627.6h1.8v1.8h-1.8zM357 636.8h1.8v1.8h-1.8zM357 646.6h1.8v1.8h-1.8zM551.1 674.7h1.8v1.8h-1.8zM551.1 684.5h1.8v1.8h-1.8zM568.7 693.6h1.8v1.8h-1.8zM568.7 703.4h1.8v1.8h-1.8zM657 693.6h1.8v1.8h-1.8zM657 703.4h1.8v1.8h-1.8zM674.6 712.6h1.8v1.8h-1.8zM674.6 722.4h1.8v1.8h-1.8zM692.3 731.6h1.8v1.8h-1.8zM692.3 741.4h1.8v1.8h-1.8zM480.5 769.5h1.8v1.8h-1.8zM480.5 779.3h1.8v1.8h-1.8zM498.2 788.5h1.8v1.8h-1.8zM498.2 798.3h1.8v1.8h-1.8zM515.8 788.5h1.8v1.8h-1.8zM515.8 798.3h1.8v1.8h-1.8zM515.8 807.4h1.8v1.8h-1.8zM515.8 817.2h1.8v1.8h-1.8zM533.5 826.4h1.8v1.8h-1.8zM533.5 836.2h1.8v1.8h-1.8zM762.8 1072.9h1.8v1.8h-1.8zM762.8 1082.7h1.8v1.8h-1.8zM798.1 1110.8h1.8v1.8h-1.8zM798.1 1120.6h1.8v1.8h-1.8zM939.3 1262.5h1.8v1.8h-1.8zM939.3 1272.3h1.8v1.8h-1.8zM1027.5 1357.3h1.8v1.8h-1.8zM1027.5 1367.1h1.8v1.8h-1.8zM1045.2 1357.3h1.8v1.8h-1.8zM1045.2 1367.1h1.8v1.8h-1.8zM1062.8 1376.2h1.8v1.8h-1.8zM1062.8 1386h1.8v1.8h-1.8zM1592.2 1945.1h1.8v1.8h-1.8zM1592.2 1954.9h1.8v1.8h-1.8zM1821.5 2153.6h1.8v1.8h-1.8zM1821.5 2163.4h1.8v1.8h-1.8zM1839.2 2153.6h1.8v1.8h-1.8zM1839.2 2163.4h1.8v1.8h-1.8zM1821.5 2172.6h1.8v1.8h-1.8zM1821.5 2182.4h1.8v1.8h-1.8zM1839.2 2172.6h1.8v1.8h-1.8zM1839.2 2182.4h1.8v1.8h-1.8zM462.9 579.9h1.8v1.8h-1.8zM462.9 589.7h1.8v1.8h-1.8zM480.5 579.9h1.8v1.8h-1.8zM480.5 589.7h1.8v1.8h-1.8zM533.5 655.7h1.8v1.8h-1.8zM533.5 665.5h1.8v1.8h-1.8zM780.5 826.4h1.8v1.8h-1.8zM780.5 836.2h1.8v1.8h-1.8z"/>
<path fill="#fff" fill-opacity="0.16" d="M357 598.8h1.8v1.8h-1.8zM357 608.6h1.8v1.8h-1.8zM357 617.8h1.8v1.8h-1.8zM357 627.6h1.8v1.8h-1.8zM639.3 674.7h1.8v1.8h-1.8zM639.3 684.5h1.8v1.8h-1.8zM409.9 693.6h1.8v1.8h-1.8zM409.9 703.4h1.8v1.8h-1.8zM427.6 712.6h1.8v1.8h-1.8zM427.6 722.4h1.8v1.8h-1.8zM586.4 712.6h1.8v1.8h-1.8zM586.4 722.4h1.8v1.8h-1.8zM692.3 712.6h1.8v1.8h-1.8zM692.3 722.4h1.8v1.8h-1.8zM445.2 731.6h1.8v1.8h-1.8zM445.2 741.4h1.8v1.8h-1.8zM604 731.6h1.8v1.8h-1.8zM604 741.4h1.8v1.8h-1.8zM621.7 750.5h1.8v1.8h-1.8zM621.7 760.3h1.8v1.8h-1.8zM498.2 769.5h1.8v1.8h-1.8zM498.2 779.3h1.8v1.8h-1.8zM533.5 769.5h1.8v1.8h-1.8zM533.5 779.3h1.8v1.8h-1.8zM533.5 788.5h1.8v1.8h-1.8zM533.5 798.3h1.8v1.8h-1.8zM674.6 902.2h1.8v1.8h-1.8zM674.6 912h1.8v1.8h-1.8zM780.5 921.2h1.8v1.8h-1.8zM780.5 931h1.8v1.8h-1.8zM833.4 1148.7h1.8v1.8h-1.8zM833.4 1158.5h1.8v1.8h-1.8zM939.3 1243.5h1.8v1.8h-1.8zM939.3 1253.3h1.8v1.8h-1.8zM1062.8 1357.3h1.8v1.8h-1.8zM1062.8 1367.1h1.8v1.8h-1.8zM1468.6 1831.3h1.8v1.8h-1.8zM1468.6 1841.1h1.8v1.8h-1.8zM1874.5 2096.8h1.8v1.8h-1.8zM1874.5 2106.6h1.8v1.8h-1.8zM498.2 579.9h1.8v1.8h-1.8zM498.2 589.7h1.8v1.8h-1.8zM515.8 579.9h1.8v1.8h-1.8zM515.8 589.7h1.8v1.8h-1.8zM533.5 579.9h1.8v1.8h-1.8zM533.5 589.7h1.8v1.8h-1.8zM709.9 579.9h1.8v1.8h-1.8zM709.9 589.7h1.8v1.8h-1.8zM374.6 598.8h1.8v1.8h-1.8zM374.6 608.6h1.8v1.8h-1.8zM462.9 598.8h1.8v1.8h-1.8zM462.9 608.6h1.8v1.8h-1.8zM480.5 598.8h1.8v1.8h-1.8zM480.5 608.6h1.8v1.8h-1.8zM498.2 598.8h1.8v1.8h-1.8zM498.2 608.6h1.8v1.8h-1.8zM515.8 598.8h1.8v1.8h-1.8zM515.8 608.6h1.8v1.8h-1.8zM533.5 598.8h1.8v1.8h-1.8zM533.5 608.6h1.8v1.8h-1.8zM709.9 598.8h1.8v1.8h-1.8zM709.9 608.6h1.8v1.8h-1.8zM462.9 617.8h1.8v1.8h-1.8zM462.9 627.6h1.8v1.8h-1.8zM480.5 617.8h1.8v1.8h-1.8zM480.5 627.6h1.8v1.8h-1.8zM498.2 617.8h1.8v1.8h-1.8zM498.2 627.6h1.8v1.8h-1.8zM515.8 617.8h1.8v1.8h-1.8zM515.8 627.6h1.8v1.8h-1.8zM533.5 617.8h1.8v1.8h-1.8zM533.5 627.6h1.8v1.8h-1.8zM462.9 636.8h1.8v1.8h-1.8zM462.9 646.6h1.8v1.8h-1.8zM480.5 636.8h1.8v1.8h-1.8zM480.5 646.6h1.8v1.8h-1.8zM498.2 636.8h1.8v1.8h-1.8zM498.2 646.6h1.8v1.8h-1.8zM515.8 636.8h1.8v1.8h-1.8zM515.8 646.6h1.8v1.8h-1.8zM533.5 636.8h1.8v1.8h-1.8zM533.5 646.6h1.8v1.8h-1.8zM692.3 636.8h1.8v1.8h-1.8zM692.3 646.6h1.8v1.8h-1.8zM462.9 655.7h1.8v1.8h-1.8zM462.9 665.5h1.8v1.8h-1.8zM480.5 655.7h1.8v1.8h-1.8zM480.5 665.5h1.8v1.8h-1.8zM498.2 655.7h1.8v1.8h-1.8zM498.2 665.5h1.8v1.8h-1.8zM515.8 655.7h1.8v1.8h-1.8zM515.8 665.5h1.8v1.8h-1.8zM709.9 655.7h1.8v1.8h-1.8zM709.9 665.5h1.8v1.8h-1.8zM762.8 807.4h1.8v1.8h-1.8zM762.8 817.2h1.8v1.8h-1.8zM798.1 826.4h1.8v1.8h-1.8zM798.1 836.2h1.8v1.8h-1.8zM798.1 845.3h1.8v1.8h-1.8zM798.1 855.1h1.8v1.8h-1.8z"/>
<g class="l" text-anchor="end">
<text transform="translate(246.8 591) scale(1 1.0746)">phiPSII (DEPI Exp 1) − 17.96h</text>
<text transform="translate(264.4 609.9) scale(1 1.0746)">phiPSII (DEPI Exp 1) − 38.46h</text>
<text transform="translate(282.1 628.9) scale(1 1.0746)">phiPSII (DEPI Exp 1) − 41.96h</text>
<text transform="translate(299.7 647.9) scale(1 1.0746)">phiPSII (DEPI Exp 1) − 66.79h</text>
<text transform="translate(317.4 666.8) scale(1 1.0746)">phiPSII (DEPI Exp 1) − 71.46h</text>
<text transform="translate(335 685.8) scale(1 1.0746)">phiNPQ (DEPI Exp 1) − 17.96h</text>
<text transform="translate(352.7 704.7) scale(1 1.0746)">phiNPQ (DEPI Exp 1) − 38.46h</text>
<text transform="translate(370.3 723.7) scale(1 1.0746)">phiNPQ (DEPI Exp 1) − 41.96h</text>
<text transform="translate(388 742.7) scale(1 1.0746)">phiNPQ (DEPI Exp 1) − 66.79h</text>
<text transform="translate(405.6 761.6) scale(1 1.0746)">phiNPQ (DEPI Exp 1) − 71.46h</text>
<text transform="translate(423.2 780.6) scale(1 1.0746)">phiNO (DEPI Exp 1) − 17.96h</text>
<text transform="translate(440.9 799.6) scale(1 1.0746)">phiNO (DEPI Exp 1) − 38.46h</text>
<text transform="translate(458.5 818.5) scale(1 1.0746)">phiNO (DEPI Exp 1) − 41.96h</text>
<text transform="translate(476.2 837.5) scale(1 1.0746)">phiNO (DEPI Exp 1) − 66.79h</text>
<text transform="translate(493.8 856.4) scale(1 1.0746)">phiNO (DEPI Exp 1) − 71.46h</text>
<text transform="translate(511.5 875.4) scale(1 1.0746)">NPQ (DEPI Exp 1) − 17.96h</text>
<text transform="translate(529.1 894.4) scale(1 1.0746)">NPQ (DEPI Exp 1) − 38.46h</text>
<text transform="translate(546.8 913.3) scale(1 1.0746)">NPQ (DEPI Exp 1) − 41.96h</text>
<text transform="translate(564.4 932.3) scale(1 1.0746)">NPQ (DEPI Exp 1) − 66.79h</text>
<text transform="translate(582.1 951.2) scale(1 1.0746)">NPQ (DEPI Exp 1) − 71.46h</text>
<text transform="translate(599.7 970.2) scale(1 1.0746)">QESV (DEPI Exp 1) − 17.96h</text>
<text transform="translate(617.3 989.2) scale(1 1.0746)">QESV (DEPI Exp 1) − 38.46h</text>
<text transform="translate(635 1008.1) scale(1 1.0746)">QESV (DEPI Exp 1) − 41.96h</text>
<text transform="translate(652.6 1027.1) scale(1 1.0746)">QESV (DEPI Exp 1) − 66.79h</text>
<text transform="translate(670.3 1046) scale(1 1.0746)">QESV (DEPI Exp 1) − 71.46h</text>
<text transform="translate(687.9 1065) scale(1 1.0746)">QI (DEPI Exp 1) − 17.99h</text>
<text transform="translate(705.6 1084) scale(1 1.0746)">QI (DEPI Exp 1) − 38.49h</text>
<text transform="translate(723.2 1102.9) scale(1 1.0746)">QI (DEPI Exp 1) − 41.99h</text>
<text transform="translate(740.9 1121.9) scale(1 1.0746)">QI (DEPI Exp 1) − 66.83h</text>
<text transform="translate(758.5 1140.8) scale(1 1.0746)">QI (DEPI Exp 1) − 71.49h</text>
<text transform="translate(776.1 1159.8) scale(1 1.0746)">FqFm (Phenovator) − Low Light 15.38d</text>
<text transform="translate(793.8 1178.8) scale(1 1.0746)">FqFm (Phenovator) − Low Light 19.38d</text>
<text transform="translate(811.4 1197.7) scale(1 1.0746)">FqFm (Phenovator) − High Light 23.38d</text>
<text transform="translate(829.1 1216.7) scale(1 1.0746)">FqFm (Phenovator) − Ratio</text>
<text transform="translate(846.7 1235.7) scale(1 1.0746)">Leaf Movement (Phenovator) − 16.54d</text>
<text transform="translate(864.4 1254.6) scale(1 1.0746)">PLA (Phenovator) − 15.38d</text>
<text transform="translate(882 1273.6) scale(1 1.0746)">PLA (Phenovator) − 19.38d</text>
<text transform="translate(899.7 1292.5) scale(1 1.0746)">PLA (Phenovator) − 23.38d</text>
<text transform="translate(917.3 1311.5) scale(1 1.0746)">Chlorophyll Content (Phenovator) − 15.82d</text>
<text transform="translate(935 1330.5) scale(1 1.0746)">Chlorophyll Content (Phenovator) − 23.82d</text>
<text transform="translate(952.6 1349.4) scale(1 1.0746)">Biomass (D2) − 30d</text>
<text transform="translate(970.2 1368.4) scale(1 1.0746)">PLA (D2 ) − 8.46d</text>
<text transform="translate(987.9 1387.3) scale(1 1.0746)">PLA (D2 ) − 13.42d</text>
<text transform="translate(1005.5 1406.3) scale(1 1.0746)">PLA (D2 ) − 18.42d</text>
<text transform="translate(1023.2 1425.3) scale(1 1.0746)">PLA (D2 ) − 23.42d</text>
<text transform="translate(1040.8 1444.2) scale(1 1.0746)">PLA Relative (D2 ) − Median rgr</text>
<text transform="translate(1058.5 1463.2) scale(1 1.0746)">CD 2.5days − t50 maxG (Cs, hr)</text>
<text transform="translate(1076.1 1482.1) scale(1 1.0746)">CD 5days − t50 maxG (Cs, hr)</text>
<text transform="translate(1093.8 1501.1) scale(1 1.0746)">CD 7days − t50 maxG (Cs, hr)</text>
<text transform="translate(1111.4 1520.1) scale(1 1.0746)">H1 no strat − t50 maxG (Cs, hr)</text>
<text transform="translate(1129 1539) scale(1 1.0746)">H1 strat − t50 maxG (Cs, hr)</text>
<text transform="translate(1146.7 1558) scale(1 1.0746)">H2 strat − t50 maxG (Cs, hr)</text>
<text transform="translate(1164.3 1577) scale(1 1.0746)">NaCl − t50 maxG (Cs, hr)</text>
<text transform="translate(1182 1595.9) scale(1 1.0746)">Flowering − First Flower</text>
<text transform="translate(1199.6 1614.9) scale(1 1.0746)">Seed Size − Area</text>
<text transform="translate(1217.3 1633.8) scale(1 1.0746)">Pollen Abortion</text>
<text transform="translate(1234.9 1652.8) scale(1 1.0746)">Metabolites − Boric acid (3TMS)</text>
<text transform="translate(1252.6 1671.8) scale(1 1.0746)">Metabolites − Benzeneacetonitrile, 2−cyano</text>
<text transform="translate(1270.2 1690.7) scale(1 1.0746)">Metabolites − Centrotype 670</text>
<text transform="translate(1287.9 1709.7) scale(1 1.0746)">Metabolites − Serine (2TMS)</text>
<text transform="translate(1305.5 1728.6) scale(1 1.0746)">Metabolites − Ethanolamine (3TMS)</text>
<text transform="translate(1323.1 1747.6) scale(1 1.0746)">Metabolites − Glycerol (3TMS)</text>
<text transform="translate(1340.8 1766.6) scale(1 1.0746)">Metabolites − Threonine (2TMS)</text>
<text transform="translate(1358.4 1785.5) scale(1 1.0746)">Metabolites − Glycine (3TMS)</text>
<text transform="translate(1376.1 1804.5) scale(1 1.0746)">Metabolites − Glyceric acid (3TMS)</text>
<text transform="translate(1393.7 1823.4) scale(1 1.0746)">Metabolites − Fumaric acid (2TMS)</text>
<text transform="translate(1411.4 1842.4) scale(1 1.0746)">Metabolites − Malic acid (3TMS)</text>
<text transform="translate(1429 1861.4) scale(1 1.0746)">Metabolites − Pyroglutamic acid (2TMS)</text>
<text transform="translate(1446.7 1880.3) scale(1 1.0746)">Metabolites − Glutamic acid (2TMS)</text>
<text transform="translate(1464.3 1899.3) scale(1 1.0746)">Metabolites − Threonic acid (4TMS)</text>
<text transform="translate(1481.9 1918.3) scale(1 1.0746)">Metabolites − 1,6−anhydro Glucose (3TMS)</text>
<text transform="translate(1499.6 1937.2) scale(1 1.0746)">Metabolites − Centrotype 3180</text>
<text transform="translate(1517.2 1956.2) scale(1 1.0746)">Metabolites − Centrotype 3322</text>
<text transform="translate(1534.9 1975.1) scale(1 1.0746)">Metabolites − Centrotype 3357</text>
<text transform="translate(1552.5 1994.1) scale(1 1.0746)">Metabolites − Centrotype 3425</text>
<text transform="translate(1570.2 2013.1) scale(1 1.0746)">Metabolites − Glucopyranose [−H20] (4TMS)</text>
<text transform="translate(1587.8 2032) scale(1 1.0746)">Metabolites − Centrotype 3532</text>
<text transform="translate(1605.5 2051) scale(1 1.0746)">Metabolites − Dimethyl(trimethylsilyl)methoxysilane</text>
<text transform="translate(1623.1 2069.9) scale(1 1.0746)">Metabolites − Centrotype 3597</text>
<text transform="translate(1640.8 2088.9) scale(1 1.0746)">Metabolites − Arabinofuranose (4TMS)</text>
<text transform="translate(1658.4 2107.9) scale(1 1.0746)">Metabolites − Citric acid (4TMS)</text>
<text transform="translate(1676 2126.8) scale(1 1.0746)">Metabolites − Centrotype 3795</text>
<text transform="translate(1693.7 2145.8) scale(1 1.0746)">Metabolites − Ascorbic acid (4TMS)</text>
<text transform="translate(1711.3 2164.7) scale(1 1.0746)">Metabolites − Sorbose (5TMS)</text>
<text transform="translate(1729 2183.7) scale(1 1.0746)">Metabolites − Fructose, methyloxime, (syn) (5TMS)</text>
<text transform="translate(1746.6 2202.7) scale(1 1.0746)">Metabolites − Mannose, methyloxyme, (1Z) (5TMS)</text>
<text transform="translate(1764.3 2221.6) scale(1 1.0746)">Metabolites − Centrotype 4295</text>
<text transform="translate(1781.9 2240.6) scale(1 1.0746)">Metabolites − Glucose,methyloxime, (1E) (5TMS)</text>
<text transform="translate(1799.6 2259.5) scale(1 1.0746)">Metabolites − Glucose,methyloxime, (1Z) (5TMS)</text>
<text transform="translate(1817.2 2278.5) scale(1 1.0746)">Metabolites − 3,6−Dioxa−2,7−disilaoctane, 2,2,4,7,7−pentamethyl</text>
<text transform="translate(1834.8 2297.5) scale(1 1.0746)">Metabolites − Centrotype 5125</text>
<text transform="translate(1852.5 2316.4) scale(1 1.0746)">Metabolites − Centrotype 5879</text>
</g>
<g class="l">
<text transform="translate(295 569.1) rotate(-90) scale(1.0746 1)">phiPSII (DEPI Exp 1) − 17.96h</text>
<text transform="translate(312.7 569.1) rotate(-90) scale(1.0746 1)">phiPSII (DEPI Exp 1) − 38.46h</text>
<text transform="translate(330.3 569.1) rotate(-90) scale(1.0746 1)">phiPSII (DEPI Exp 1) − 41.96h</text>
<text transform="translate(348 569.1) rotate(-90) scale(1.0746 1)">phiPSII (DEPI Exp 1) − 66.79h</text>
<text transform="translate(365.6 569.1) rotate(-90) scale(1.0746 1)">phiPSII (DEPI Exp 1) − 71.46h</text>
<text transform="translate(383.2 569.1) rotate(-90) scale(1.0746 1)">phiNPQ (DEPI Exp 1) − 17.96h</text>
<text transform="translate(400.9 569.1) rotate(-90) scale(1.0746 1)">phiNPQ (DEPI Exp 1) − 38.46h</text>
<text transform="translate(418.5 569.1) rotate(-90) scale(1.0746 1)">phiNPQ (DEPI Exp 1) − 41.96h</text>
<text transform="translate(436.2 569.1) rotate(-90) scale(1.0746 1)">phiNPQ (DEPI Exp 1) − 66.79h</text>
<text transform="translate(453.8 569.1) rotate(-90) scale(1.0746 1)">phiNPQ (DEPI Exp 1) − 71.46h</text>
<text transform="translate(471.5 569.1) rotate(-90) scale(1.0746 1)">phiNO (DEPI Exp 1) − 17.96h</text>
<text transform="translate(489.1 569.1) rotate(-90) scale(1.0746 1)">phiNO (DEPI Exp 1) − 38.46h</text>
<text transform="translate(506.8 569.1) rotate(-90) scale(1.0746 1)">phiNO (DEPI Exp 1) − 41.96h</text>
<text transform="translate(524.4 569.1) rotate(-90) scale(1.0746 1)">phiNO (DEPI Exp 1) − 66.79h</text>
<text transform="translate(542.1 569.1) rotate(-90) scale(1.0746 1)">phiNO (DEPI Exp 1) − 71.46h</text>
<text transform="translate(559.7 569.1) rotate(-90) scale(1.0746 1)">NPQ (DEPI Exp 1) − 17.96h</text>
<text transform="translate(577.3 569.1) rotate(-90) scale(1.0746 1)">NPQ (DEPI Exp 1) − 38.46h</text>
<text transform="translate(595 569.1) rotate(-90) scale(1.0746 1)">NPQ (DEPI Exp 1) − 41.96h</text>
<text transform="translate(612.6 569.1) rotate(-90) scale(1.0746 1)">NPQ (DEPI Exp 1) − 66.79h</text>
<text transform="translate(630.3 569.1) rotate(-90) scale(1.0746 1)">NPQ (DEPI Exp 1) − 71.46h</text>
<text transform="translate(647.9 569.1) rotate(-90) scale(1.0746 1)">QESV (DEPI Exp 1) − 17.96h</text>
<text transform="translate(665.6 569.1) rotate(-90) scale(1.0746 1)">QESV (DEPI Exp 1) − 38.46h</text>
<text transform="translate(683.2 569.1) rotate(-90) scale(1.0746 1)">QESV (DEPI Exp 1) − 41.96h</text>
<text transform="translate(700.9 569.1) rotate(-90) scale(1.0746 1)">QESV (DEPI Exp 1) − 66.79h</text>
<text transform="translate(718.5 569.1) rotate(-90) scale(1.0746 1)">QESV (DEPI Exp 1) − 71.46h</text>
<text transform="translate(736.1 569.1) rotate(-90) scale(1.0746 1)">QI (DEPI Exp 1) − 17.99h</text>
<text transform="translate(753.8 569.1) rotate(-90) scale(1.0746 1)">QI (DEPI Exp 1) − 38.49h</text>
<text transform="translate(771.4 569.1) rotate(-90) scale(1.0746 1)">QI (DEPI Exp 1) − 41.99h</text>
<text transform="translate(789.1 569.1) rotate(-90) scale(1.0746 1)">QI (DEPI Exp 1) − 66.83h</text>
<text transform="translate(806.7 569.1) rotate(-90) scale(1.0746 1)">QI (DEPI Exp 1) − 71.49h</text>
<text transform="translate(824.4 569.1) rotate(-90) scale(1.0746 1)">FqFm (Phenovator) − Low Light 15.38d</text>
<text transform="translate(842 569.1) rotate(-90) scale(1.0746 1)">FqFm (Phenovator) − Low Light 19.38d</text>
<text transform="translate(859.7 569.1) rotate(-90) scale(1.0746 1)">FqFm (Phenovator) − High Light 23.38d</text>
<text transform="translate(877.3 569.1) rotate(-90) scale(1.0746 1)">FqFm (Phenovator) − Ratio</text>
<text transform="translate(895 569.1) rotate(-90) scale(1.0746 1)">Leaf Movement (Phenovator) − 16.54d</text>
<text transform="translate(912.6 569.1) rotate(-90) scale(1.0746 1)">PLA (Phenovator) − 15.38d</text>
<text transform="translate(930.2 569.1) rotate(-90) scale(1.0746 1)">PLA (Phenovator) − 19.38d</text>
<text transform="translate(947.9 569.1) rotate(-90) scale(1.0746 1)">PLA (Phenovator) − 23.38d</text>
<text transform="translate(965.5 569.1) rotate(-90) scale(1.0746 1)">Chlorophyll Content (Phenovator) − 15.82d</text>
<text transform="translate(983.2 569.1) rotate(-90) scale(1.0746 1)">Chlorophyll Content (Phenovator) − 23.82d</text>
<text transform="translate(1000.8 569.1) rotate(-90) scale(1.0746 1)">Biomass (D2) − 30d</text>
<text transform="translate(1018.5 569.1) rotate(-90) scale(1.0746 1)">PLA (D2 ) − 8.46d</text>
<text transform="translate(1036.1 569.1) rotate(-90) scale(1.0746 1)">PLA (D2 ) − 13.42d</text>
<text transform="translate(1053.8 569.1) rotate(-90) scale(1.0746 1)">PLA (D2 ) − 18.42d</text>
<text transform="translate(1071.4 569.1) rotate(-90) scale(1.0746 1)">PLA (D2 ) − 23.42d</text>
<text transform="translate(1089 569.1) rotate(-90) scale(1.0746 1)">PLA Relative (D2 ) − Median rgr</text>
<text transform="translate(1106.7 569.1) rotate(-90) scale(1.0746 1)">CD 2.5days − t50 maxG (Cs, hr)</text>
<text transform="translate(1124.3 569.1) rotate(-90) scale(1.0746 1)">CD 5days − t50 maxG (Cs, hr)</text>
<text transform="translate(1142 569.1) rotate(-90) scale(1.0746 1)">CD 7days − t50 maxG (Cs, hr)</text>
<text transform="translate(1159.6 569.1) rotate(-90) scale(1.0746 1)">H1 no strat − t50 maxG (Cs, hr)</text>
<text transform="translate(1177.3 569.1) rotate(-90) scale(1.0746 1)">H1 strat − t50 maxG (Cs, hr)</text>
<text transform="translate(1194.9 569.1) rotate(-90) scale(1.0746 1)">H2 strat − t50 maxG (Cs, hr)</text>
<text transform="translate(1212.6 569.1) rotate(-90) scale(1.0746 1)">NaCl − t50 maxG (Cs, hr)</text>
<text transform="translate(1230.2 569.1) rotate(-90) scale(1.0746 1)">Flowering − First Flower</text>
<text transform="translate(1247.9 569.1) rotate(-90) scale(1.0746 1)">Seed Size − Area</text>
<text transform="translate(1265.5 569.1) rotate(-90) scale(1.0746 1)">Pollen Abortion</text>
<text transform="translate(1283.1 569.1) rotate(-90) scale(1.0746 1)">Metabolites − Boric acid (3TMS)</text>
<text transform="translate(1300.8 569.1) rotate(-90) scale(1.0746 1)">Metabolites − Benzeneacetonitrile, 2−cyano</text>
<text transform="translate(1318.4 569.1) rotate(-90) scale(1.0746 1)">Metabolites − Centrotype 670</text>
<text transform="translate(1336.1 569.1) rotate(-90) scale(1.0746 1)">Metabolites − Serine (2TMS)</text>
<text transform="translate(1353.7 569.1) rotate(-90) scale(1.0746 1)">Metabolites − Ethanolamine (3TMS)</text>
<text transform="translate(1371.4 569.1) rotate(-90) scale(1.0746 1)">Metabolites − Glycerol (3TMS)</text>
<text transform="translate(1389 569.1) rotate(-90) scale(1.0746 1)">Metabolites − Threonine (2TMS)</text>
<text transform="translate(1406.7 569.1) rotate(-90) scale(1.0746 1)">Metabolites − Glycine (3TMS)</text>
<text transform="translate(1424.3 569.1) rotate(-90) scale(1.0746 1)">Metabolites − Glyceric acid (3TMS)</text>
<text transform="translate(1441.9 569.1) rotate(-90) scale(1.0746 1)">Metabolites − Fumaric acid (2TMS)</text>
<text transform="translate(1459.6 569.1) rotate(-90) scale(1.0746 1)">Metabolites − Malic acid (3TMS)</text>
<text transform="translate(1477.2 569.1) rotate(-90) scale(1.0746 1)">Metabolites − Pyroglutamic acid (2TMS)</text>
<text transform="translate(1494.9 569.1) rotate(-90) scale(1.0746 1)">Metabolites − Glutamic acid (2TMS)</text>
<text transform="translate(1512.5 569.1) rotate(-90) scale(1.0746 1)">Metabolites − Threonic acid (4TMS)</text>
<text transform="translate(1530.2 569.1) rotate(-90) scale(1.0746 1)">Metabolites − 1,6−anhydro Glucose (3TMS)</text>
<text transform="translate(1547.8 569.1) rotate(-90) scale(1.0746 1)">Metabolites − Centrotype 3180</text>
<text transform="translate(1565.5 569.1) rotate(-90) scale(1.0746 1)">Metabolites − Centrotype 3322</text>
<text transform="translate(1583.1 569.1) rotate(-90) scale(1.0746 1)">Metabolites − Centrotype 3357</text>
<text transform="translate(1600.8 569.1) rotate(-90) scale(1.0746 1)">Metabolites − Centrotype 3425</text>
<text transform="translate(1618.4 569.1) rotate(-90) scale(1.0746 1)">Metabolites − Glucopyranose [−H20] (4TMS)</text>
<text transform="translate(1636 569.1) rotate(-90) scale(1.0746 1)">Metabolites − Centrotype 3532</text>
<text transform="translate(1653.7 569.1) rotate(-90) scale(1.0746 1)">Metabolites − Dimethyl(trimethylsilyl)methoxysilane</text>
<text transform="translate(1671.3 569.1) rotate(-90) scale(1.0746 1)">Metabolites − Centrotype 3597</text>
<text transform="translate(1689 569.1) rotate(-90) scale(1.0746 1)">Metabolites − Arabinofuranose (4TMS)</text>
<text transform="translate(1706.6 569.1) rotate(-90) scale(1.0746 1)">Metabolites − Citric acid (4TMS)</text>
<text transform="translate(1724.3 569.1) rotate(-90) scale(1.0746 1)">Metabolites − Centrotype 3795</text>
<text transform="translate(1741.9 569.1) rotate(-90) scale(1.0746 1)">Metabolites − Ascorbic acid (4TMS)</text>
<text transform="translate(1759.6 569.1) rotate(-90) scale(1.0746 1)">Metabolites − Sorbose (5TMS)</text>
<text transform="translate(1777.2 569.1) rotate(-90) scale(1.0746 1)">Metabolites − Fructose, methyloxime, (syn) (5TMS)</text>
<text transform="translate(1794.8 569.1) rotate(-90) scale(1.0746 1)">Metabolites − Mannose, methyloxyme, (1Z) (5TMS)</text>
<text transform="translate(1812.5 569.1) rotate(-90) scale(1.0746 1)">Metabolites − Centrotype 4295</text>
<text transform="translate(1830.1 569.1) rotate(-90) scale(1.0746 1)">Metabolites − Glucose,methyloxime, (1E) (5TMS)</text>
<text transform="translate(1847.8 569.1) rotate(-90) scale(1.0746 1)">Metabolites − Glucose,methyloxime, (1Z) (5TMS)</text>
<text transform="translate(1865.4 569.1) rotate(-90) scale(1.0746 1)">Metabolites − 3,6−Dioxa−2,7−disilaoctane, 2,2,4,7,7−pentamethyl</text>
<text transform="translate(1883.1 569.1) rotate(-90) scale(1.0746 1)">Metabolites − Centrotype 5125</text>
<text transform="translate(1900.7 569.1) rotate(-90) scale(1.0746 1)">Metabolites − Centrotype 5879</text>
</g>
<defs><linearGradient id="cb" x1="0" y1="0" x2="0" y2="1">
<stop offset="0%" stop-color="#1F3060"/><stop offset="5%" stop-color="#224E92"/><stop offset="10%" stop-color="#2C63AE"/><stop offset="20%" stop-color="#5594C4"/><stop offset="30%" stop-color="#9BC3DD"/><stop offset="40%" stop-color="#D5E4EF"/><stop offset="50%" stop-color="#FFFFFF"/><stop offset="60%" stop-color="#FDDAC7"/><stop offset="70%" stop-color="#F6A784"/><stop offset="80%" stop-color="#D9644A"/><stop offset="90%" stop-color="#B3242A"/><stop offset="95%" stop-color="#8A1A23"/><stop offset="100%" stop-color="#6B1220"/>
</linearGradient></defs>
<rect x="1937.5" y="576.2" width="62.2" height="1744.4" fill="url(#cb)" stroke="#000" stroke-width="3"/>
<path d="M2000.2 576.2H2013.5M2000.2 750.6H2013.5M2000.2 925.1H2013.5M2000.2 1099.5H2013.5M2000.2 1274H2013.5M2000.2 1448.4H2013.5M2000.2 1622.8H2013.5M2000.2 1797.3H2013.5M2000.2 1971.7H2013.5M2000.2 2146.2H2013.5M2000.2 2320.6H2013.5" stroke="#000" stroke-width="3" fill="none"/>
<g class="k">
<text transform="translate(2060.9 588) scale(1 1.0746)">1</text>
<text transform="translate(2034.9 762.4) scale(1 1.0746)">0.8</text>
<text transform="translate(2034.9 936.9) scale(1 1.0746)">0.6</text>
<text transform="translate(2034.9 1111.3) scale(1 1.0746)">0.4</text>
<text transform="translate(2035.1 1285.8) scale(1 1.0746)">0.2</text>
<text transform="translate(2042.7 1460.2) scale(1 1.0746)">0</text>
<text transform="translate(2030.3 1634.6) scale(1 1.0746)">−0.2</text>
<text transform="translate(2030.3 1809.1) scale(1 1.0746)">−0.4</text>
<text transform="translate(2030.3 1983.5) scale(1 1.0746)">−0.6</text>
<text transform="translate(2030.3 2158) scale(1 1.0746)">−0.8</text>
<text transform="translate(2038.6 2332.4) scale(1 1.0746)">−1</text>
</g>
</svg>
</body></html>
